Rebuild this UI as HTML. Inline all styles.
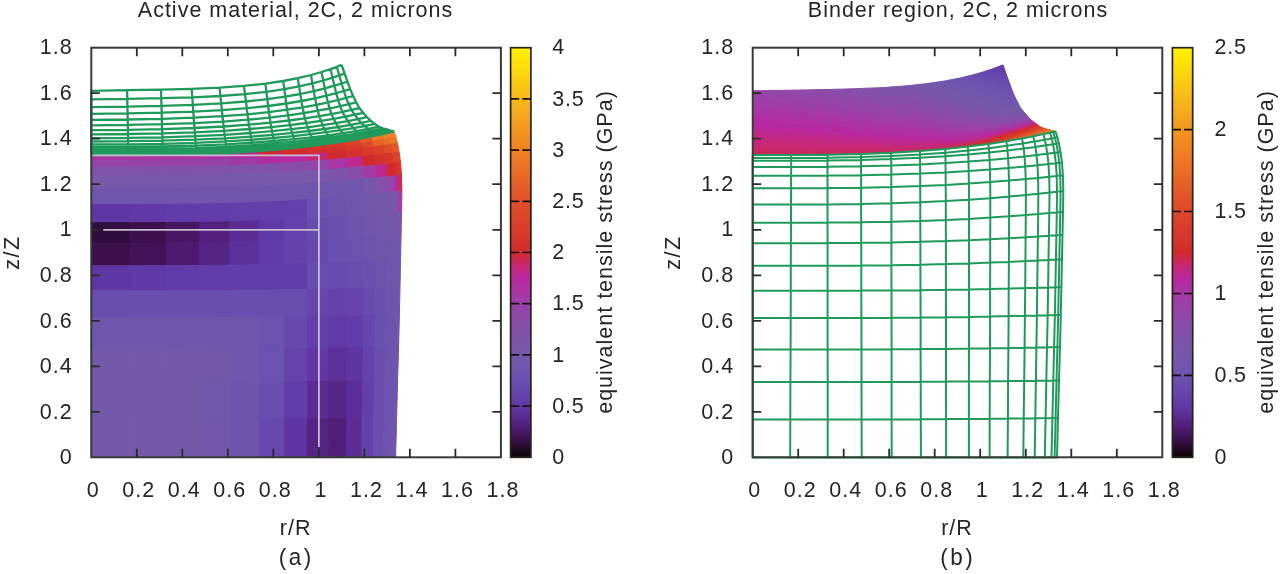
<!DOCTYPE html>
<html><head><meta charset="utf-8"><title>Equivalent tensile stress</title>
<style>
html,body{margin:0;padding:0;background:#fff}
body{width:1280px;height:574px;overflow:hidden}
svg{display:block;filter:blur(0.35px)}
svg text{font-family:"Liberation Sans",sans-serif;fill:#262626}
</style></head><body>
<svg width="1280" height="574" viewBox="0 0 1280 574">
<defs><linearGradient id="pg" x1="0" y1="1" x2="0" y2="0"><stop offset="0.0000" stop-color="#0a0606"/><stop offset="0.0400" stop-color="#380e46"/><stop offset="0.0750" stop-color="#501e78"/><stop offset="0.1000" stop-color="#5a2c92"/><stop offset="0.1250" stop-color="#6038a6"/><stop offset="0.1875" stop-color="#6a50b0"/><stop offset="0.2500" stop-color="#7459a9"/><stop offset="0.3125" stop-color="#8450aa"/><stop offset="0.3750" stop-color="#9a40a8"/><stop offset="0.4375" stop-color="#b828a0"/><stop offset="0.4700" stop-color="#c82870"/><stop offset="0.5000" stop-color="#d02a2c"/><stop offset="0.6250" stop-color="#e0502a"/><stop offset="0.7500" stop-color="#ef8124"/><stop offset="0.8750" stop-color="#f7b81a"/><stop offset="1.0000" stop-color="#fff200"/></linearGradient></defs>
<rect width="1280" height="574" fill="#ffffff"/>
<g id="heatA">
<polygon points="91.3,155.1 129.8,155.1 129.8,158.0 91.3,158.0" fill="#ac32a3" stroke="#ac32a3" stroke-width="1"/>
<polygon points="129.8,155.1 166.1,154.7 166.1,157.7 129.8,158.0" fill="#ac32a3" stroke="#ac32a3" stroke-width="1"/>
<polygon points="166.1,154.7 199.6,154.0 199.6,157.0 166.1,157.7" fill="#ac32a3" stroke="#ac32a3" stroke-width="1"/>
<polygon points="199.6,154.0 229.8,152.8 229.8,156.0 199.6,157.0" fill="#b22da2" stroke="#b22da2" stroke-width="1"/>
<polygon points="229.8,152.8 258.5,151.1 258.6,154.5 229.8,156.0" fill="#be288e" stroke="#be288e" stroke-width="1"/>
<polygon points="258.5,151.1 283.7,149.0 283.9,152.7 258.6,154.5" fill="#d02a2c" stroke="#d02a2c" stroke-width="1"/>
<polygon points="283.7,149.0 306.4,146.6 306.7,150.6 283.9,152.7" fill="#d22e2c" stroke="#d22e2c" stroke-width="1"/>
<polygon points="306.4,146.6 327.0,143.9 327.5,148.2 306.7,150.6" fill="#d3322c" stroke="#d3322c" stroke-width="1"/>
<polygon points="327.0,143.9 344.9,141.2 345.6,145.8 327.5,148.2" fill="#d6392b" stroke="#d6392b" stroke-width="1"/>
<polygon points="344.9,141.2 360.6,138.4 361.5,143.4 345.6,145.8" fill="#da412b" stroke="#da412b" stroke-width="1"/>
<polygon points="360.6,138.4 371.9,136.2 373.1,141.5 361.5,143.4" fill="#e35a29" stroke="#e35a29" stroke-width="1"/>
<polygon points="371.9,136.2 382.0,134.1 383.4,139.7 373.1,141.5" fill="#ec7725" stroke="#ec7725" stroke-width="1"/>
<polygon points="382.0,134.1 388.6,132.7 390.3,138.4 383.4,139.7" fill="#ef8124" stroke="#ef8124" stroke-width="1"/>
<polygon points="388.6,132.7 391.7,132.0 393.5,137.8 390.3,138.4" fill="#ef8124" stroke="#ef8124" stroke-width="1"/>
<polygon points="391.7,132.0 394.1,131.4 396.0,137.3 393.5,137.8" fill="#ef8124" stroke="#ef8124" stroke-width="1"/>
<polygon points="91.3,158.0 129.8,158.0 129.8,160.8 91.3,160.8" fill="#a636a5" stroke="#a636a5" stroke-width="1"/>
<polygon points="129.8,158.0 166.1,157.7 166.1,160.5 129.8,160.8" fill="#a636a5" stroke="#a636a5" stroke-width="1"/>
<polygon points="166.1,157.7 199.6,157.0 199.6,160.0 166.1,160.5" fill="#a636a5" stroke="#a636a5" stroke-width="1"/>
<polygon points="199.6,157.0 229.8,156.0 229.8,159.1 199.6,160.0" fill="#ac32a3" stroke="#ac32a3" stroke-width="1"/>
<polygon points="229.8,156.0 258.6,154.5 258.6,157.8 229.8,159.1" fill="#b828a0" stroke="#b828a0" stroke-width="1"/>
<polygon points="258.6,154.5 283.9,152.7 284.0,156.3 258.6,157.8" fill="#cd2948" stroke="#cd2948" stroke-width="1"/>
<polygon points="283.9,152.7 306.7,150.6 306.9,154.5 284.0,156.3" fill="#d02a2c" stroke="#d02a2c" stroke-width="1"/>
<polygon points="306.7,150.6 327.5,148.2 327.8,152.5 306.9,154.5" fill="#d22e2c" stroke="#d22e2c" stroke-width="1"/>
<polygon points="327.5,148.2 345.6,145.8 346.1,150.5 327.8,152.5" fill="#d3322c" stroke="#d3322c" stroke-width="1"/>
<polygon points="345.6,145.8 361.5,143.4 362.3,148.5 346.1,150.5" fill="#d6392b" stroke="#d6392b" stroke-width="1"/>
<polygon points="361.5,143.4 373.1,141.5 374.1,146.9 362.3,148.5" fill="#dd482a" stroke="#dd482a" stroke-width="1"/>
<polygon points="373.1,141.5 383.4,139.7 384.6,145.3 374.1,146.9" fill="#e66428" stroke="#e66428" stroke-width="1"/>
<polygon points="383.4,139.7 390.3,138.4 391.7,144.2 384.6,145.3" fill="#e96d26" stroke="#e96d26" stroke-width="1"/>
<polygon points="390.3,138.4 393.5,137.8 395.0,143.7 391.7,144.2" fill="#ec7725" stroke="#ec7725" stroke-width="1"/>
<polygon points="393.5,137.8 396.0,137.3 397.5,143.3 395.0,143.7" fill="#ec7725" stroke="#ec7725" stroke-width="1"/>
<polygon points="91.3,160.8 129.8,160.8 129.8,167.0 91.3,167.0" fill="#9643a8" stroke="#9643a8" stroke-width="1"/>
<polygon points="129.8,160.8 166.1,160.5 166.1,166.8 129.8,167.0" fill="#9643a8" stroke="#9643a8" stroke-width="1"/>
<polygon points="166.1,160.5 199.6,160.0 199.6,166.3 166.1,166.8" fill="#9643a8" stroke="#9643a8" stroke-width="1"/>
<polygon points="199.6,160.0 229.8,159.1 229.9,165.6 199.6,166.3" fill="#9643a8" stroke="#9643a8" stroke-width="1"/>
<polygon points="229.8,159.1 258.6,157.8 258.7,164.5 229.9,165.6" fill="#a03ba6" stroke="#a03ba6" stroke-width="1"/>
<polygon points="258.6,157.8 284.0,156.3 284.1,163.1 258.7,164.5" fill="#b22da2" stroke="#b22da2" stroke-width="1"/>
<polygon points="284.0,156.3 306.9,154.5 307.1,161.6 284.1,163.1" fill="#b828a0" stroke="#b828a0" stroke-width="1"/>
<polygon points="306.9,154.5 327.8,152.5 328.2,159.9 307.1,161.6" fill="#c4287b" stroke="#c4287b" stroke-width="1"/>
<polygon points="327.8,152.5 346.1,150.5 346.7,158.2 328.2,159.9" fill="#d02a2c" stroke="#d02a2c" stroke-width="1"/>
<polygon points="346.1,150.5 362.3,148.5 363.1,156.5 346.7,158.2" fill="#d3322c" stroke="#d3322c" stroke-width="1"/>
<polygon points="362.3,148.5 374.1,146.9 375.1,155.1 363.1,156.5" fill="#d6392b" stroke="#d6392b" stroke-width="1"/>
<polygon points="374.1,146.9 384.6,145.3 385.9,153.7 375.1,155.1" fill="#da412b" stroke="#da412b" stroke-width="1"/>
<polygon points="384.6,145.3 391.7,144.2 393.1,152.8 385.9,153.7" fill="#de4c2a" stroke="#de4c2a" stroke-width="1"/>
<polygon points="391.7,144.2 395.0,143.7 396.5,152.4 393.1,152.8" fill="#e35a29" stroke="#e35a29" stroke-width="1"/>
<polygon points="395.0,143.7 397.5,143.3 399.1,152.0 396.5,152.4" fill="#e35a29" stroke="#e35a29" stroke-width="1"/>
<polygon points="91.3,167.0 129.8,167.0 129.7,175.8 91.3,175.8" fill="#8152aa" stroke="#8152aa" stroke-width="1"/>
<polygon points="129.8,167.0 166.1,166.8 166.1,175.6 129.7,175.8" fill="#8152aa" stroke="#8152aa" stroke-width="1"/>
<polygon points="166.1,166.8 199.6,166.3 199.7,175.2 166.1,175.6" fill="#8152aa" stroke="#8152aa" stroke-width="1"/>
<polygon points="199.6,166.3 229.9,165.6 229.9,174.5 199.7,175.2" fill="#8152aa" stroke="#8152aa" stroke-width="1"/>
<polygon points="229.9,165.6 258.7,164.5 258.8,173.6 229.9,174.5" fill="#8152aa" stroke="#8152aa" stroke-width="1"/>
<polygon points="258.7,164.5 284.1,163.1 284.2,172.4 258.8,173.6" fill="#8152aa" stroke="#8152aa" stroke-width="1"/>
<polygon points="284.1,163.1 307.1,161.6 307.3,171.0 284.2,172.4" fill="#884daa" stroke="#884daa" stroke-width="1"/>
<polygon points="307.1,161.6 328.2,159.9 328.5,169.5 307.3,171.0" fill="#9146a9" stroke="#9146a9" stroke-width="1"/>
<polygon points="328.2,159.9 346.7,158.2 347.2,168.0 328.5,169.5" fill="#a636a5" stroke="#a636a5" stroke-width="1"/>
<polygon points="346.7,158.2 363.1,156.5 363.8,166.4 347.2,168.0" fill="#be288e" stroke="#be288e" stroke-width="1"/>
<polygon points="363.1,156.5 375.1,155.1 376.1,165.2 363.8,166.4" fill="#d02a2c" stroke="#d02a2c" stroke-width="1"/>
<polygon points="375.1,155.1 385.9,153.7 387.1,164.0 376.1,165.2" fill="#d3322c" stroke="#d3322c" stroke-width="1"/>
<polygon points="385.9,153.7 393.1,152.8 394.5,163.2 387.1,164.0" fill="#d6392b" stroke="#d6392b" stroke-width="1"/>
<polygon points="393.1,152.8 396.5,152.4 397.9,162.8 394.5,163.2" fill="#da412b" stroke="#da412b" stroke-width="1"/>
<polygon points="396.5,152.4 399.1,152.0 400.6,162.5 397.9,162.8" fill="#da412b" stroke="#da412b" stroke-width="1"/>
<polygon points="91.3,175.8 129.7,175.8 129.7,188.3 91.3,188.3" fill="#7758a9" stroke="#7758a9" stroke-width="1"/>
<polygon points="129.7,175.8 166.1,175.6 166.1,188.1 129.7,188.3" fill="#7758a9" stroke="#7758a9" stroke-width="1"/>
<polygon points="166.1,175.6 199.7,175.2 199.7,187.7 166.1,188.1" fill="#7758a9" stroke="#7758a9" stroke-width="1"/>
<polygon points="199.7,175.2 229.9,174.5 229.9,187.1 199.7,187.7" fill="#7758a9" stroke="#7758a9" stroke-width="1"/>
<polygon points="229.9,174.5 258.8,173.6 258.8,186.1 229.9,187.1" fill="#7758a9" stroke="#7758a9" stroke-width="1"/>
<polygon points="258.8,173.6 284.2,172.4 284.3,184.9 258.8,186.1" fill="#7758a9" stroke="#7758a9" stroke-width="1"/>
<polygon points="284.2,172.4 307.3,171.0 307.5,183.6 284.3,184.9" fill="#7758a9" stroke="#7758a9" stroke-width="1"/>
<polygon points="307.3,171.0 328.5,169.5 328.8,182.1 307.5,183.6" fill="#7758a9" stroke="#7758a9" stroke-width="1"/>
<polygon points="328.5,169.5 347.2,168.0 347.6,180.6 328.8,182.1" fill="#7e54aa" stroke="#7e54aa" stroke-width="1"/>
<polygon points="347.2,168.0 363.8,166.4 364.3,179.1 347.6,180.6" fill="#884daa" stroke="#884daa" stroke-width="1"/>
<polygon points="363.8,166.4 376.1,165.2 376.7,177.9 364.3,179.1" fill="#a03ba6" stroke="#a03ba6" stroke-width="1"/>
<polygon points="376.1,165.2 387.1,164.0 387.8,176.7 376.7,177.9" fill="#be288e" stroke="#be288e" stroke-width="1"/>
<polygon points="387.1,164.0 394.5,163.2 395.3,175.9 387.8,176.7" fill="#d02a2c" stroke="#d02a2c" stroke-width="1"/>
<polygon points="394.5,163.2 397.9,162.8 398.8,175.5 395.3,175.9" fill="#d3322c" stroke="#d3322c" stroke-width="1"/>
<polygon points="397.9,162.8 400.6,162.5 401.5,175.2 398.8,175.5" fill="#d5352b" stroke="#d5352b" stroke-width="1"/>
<polygon points="91.3,188.3 129.7,188.3 129.6,204.6 91.3,204.6" fill="#7055ac" stroke="#7055ac" stroke-width="1"/>
<polygon points="129.7,188.3 166.1,188.1 166.1,204.4 129.6,204.6" fill="#7055ac" stroke="#7055ac" stroke-width="1"/>
<polygon points="166.1,188.1 199.7,187.7 199.7,204.0 166.1,204.4" fill="#7055ac" stroke="#7055ac" stroke-width="1"/>
<polygon points="199.7,187.7 229.9,187.1 230.0,203.3 199.7,204.0" fill="#7055ac" stroke="#7055ac" stroke-width="1"/>
<polygon points="229.9,187.1 258.8,186.1 258.9,202.3 230.0,203.3" fill="#7055ac" stroke="#7055ac" stroke-width="1"/>
<polygon points="258.8,186.1 284.3,184.9 284.4,201.1 258.9,202.3" fill="#7055ac" stroke="#7055ac" stroke-width="1"/>
<polygon points="284.3,184.9 307.5,183.6 307.6,199.7 284.4,201.1" fill="#7055ac" stroke="#7055ac" stroke-width="1"/>
<polygon points="307.5,183.6 328.8,182.1 328.9,198.2 307.6,199.7" fill="#7055ac" stroke="#7055ac" stroke-width="1"/>
<polygon points="328.8,182.1 347.6,180.6 347.8,196.6 328.9,198.2" fill="#7055ac" stroke="#7055ac" stroke-width="1"/>
<polygon points="347.6,180.6 364.3,179.1 364.5,195.0 347.8,196.6" fill="#7055ac" stroke="#7055ac" stroke-width="1"/>
<polygon points="364.3,179.1 376.7,177.9 376.9,193.8 364.5,195.0" fill="#7757a9" stroke="#7757a9" stroke-width="1"/>
<polygon points="376.7,177.9 387.8,176.7 388.1,192.6 376.9,193.8" fill="#8152aa" stroke="#8152aa" stroke-width="1"/>
<polygon points="387.8,176.7 395.3,175.9 395.6,191.7 388.1,192.6" fill="#9643a8" stroke="#9643a8" stroke-width="1"/>
<polygon points="395.3,175.9 398.8,175.5 399.2,191.3 395.6,191.7" fill="#b828a0" stroke="#b828a0" stroke-width="1"/>
<polygon points="398.8,175.5 401.5,175.2 401.9,191.0 399.2,191.3" fill="#cd2948" stroke="#cd2948" stroke-width="1"/>
<polygon points="91.3,204.6 129.6,204.6 129.6,222.8 91.3,222.8" fill="#5f37a4" stroke="#5f37a4" stroke-width="1"/>
<polygon points="129.6,204.6 166.1,204.4 166.1,222.6 129.6,222.8" fill="#6039a6" stroke="#6039a6" stroke-width="1"/>
<polygon points="166.1,204.4 199.7,204.0 199.8,222.3 166.1,222.6" fill="#613ba7" stroke="#613ba7" stroke-width="1"/>
<polygon points="199.7,204.0 230.0,203.3 230.0,221.8 199.8,222.3" fill="#623ca8" stroke="#623ca8" stroke-width="1"/>
<polygon points="230.0,203.3 258.9,202.3 258.9,220.9 230.0,221.8" fill="#623ea8" stroke="#623ea8" stroke-width="1"/>
<polygon points="258.9,202.3 284.4,201.1 284.4,220.0 258.9,220.9" fill="#633fa9" stroke="#633fa9" stroke-width="1"/>
<polygon points="284.4,201.1 307.6,199.7 307.6,218.9 284.4,220.0" fill="#6340a9" stroke="#6340a9" stroke-width="1"/>
<polygon points="307.6,199.7 328.9,198.2 328.9,217.6 307.6,218.9" fill="#6b51af" stroke="#6b51af" stroke-width="1"/>
<polygon points="328.9,198.2 347.8,196.6 347.7,216.3 328.9,217.6" fill="#6e53ad" stroke="#6e53ad" stroke-width="1"/>
<polygon points="347.8,196.6 364.5,195.0 364.4,215.1 347.7,216.3" fill="#7055ac" stroke="#7055ac" stroke-width="1"/>
<polygon points="364.5,195.0 376.9,193.8 376.8,214.0 364.4,215.1" fill="#7257ab" stroke="#7257ab" stroke-width="1"/>
<polygon points="376.9,193.8 388.1,192.6 387.9,213.1 376.8,214.0" fill="#7358a9" stroke="#7358a9" stroke-width="1"/>
<polygon points="388.1,192.6 395.6,191.7 395.4,212.4 387.9,213.1" fill="#7757a9" stroke="#7757a9" stroke-width="1"/>
<polygon points="395.6,191.7 399.2,191.3 398.9,212.1 395.4,212.4" fill="#8450aa" stroke="#8450aa" stroke-width="1"/>
<polygon points="399.2,191.3 401.9,191.0 401.6,211.8 398.9,212.1" fill="#a03ba6" stroke="#a03ba6" stroke-width="1"/>
<polygon points="91.3,222.8 129.6,222.8 129.5,243.2 91.3,243.2" fill="#310d3d" stroke="#310d3d" stroke-width="1"/>
<polygon points="129.6,222.8 166.1,222.6 166.2,243.1 129.5,243.2" fill="#3b104c" stroke="#3b104c" stroke-width="1"/>
<polygon points="166.1,222.6 199.8,222.3 199.8,242.8 166.2,243.1" fill="#461763" stroke="#461763" stroke-width="1"/>
<polygon points="199.8,222.3 230.0,221.8 230.0,242.4 199.8,242.8" fill="#52217e" stroke="#52217e" stroke-width="1"/>
<polygon points="230.0,221.8 258.9,220.9 259.0,241.8 230.0,242.4" fill="#5b2d94" stroke="#5b2d94" stroke-width="1"/>
<polygon points="258.9,220.9 284.4,220.0 284.5,241.0 259.0,241.8" fill="#6038a6" stroke="#6038a6" stroke-width="1"/>
<polygon points="284.4,220.0 307.6,218.9 307.6,240.2 284.5,241.0" fill="#6441aa" stroke="#6441aa" stroke-width="1"/>
<polygon points="307.6,218.9 328.9,217.6 328.8,239.2 307.6,240.2" fill="#674aad" stroke="#674aad" stroke-width="1"/>
<polygon points="328.9,217.6 347.7,216.3 347.6,238.3 328.8,239.2" fill="#6b51af" stroke="#6b51af" stroke-width="1"/>
<polygon points="347.7,216.3 364.4,215.1 364.2,237.3 347.6,238.3" fill="#6e53ad" stroke="#6e53ad" stroke-width="1"/>
<polygon points="364.4,215.1 376.8,214.0 376.5,236.5 364.2,237.3" fill="#7156ab" stroke="#7156ab" stroke-width="1"/>
<polygon points="376.8,214.0 387.9,213.1 387.5,235.8 376.5,236.5" fill="#7257aa" stroke="#7257aa" stroke-width="1"/>
<polygon points="387.9,213.1 395.4,212.4 395.0,235.2 387.5,235.8" fill="#7358aa" stroke="#7358aa" stroke-width="1"/>
<polygon points="395.4,212.4 398.9,212.1 398.4,235.0 395.0,235.2" fill="#7358aa" stroke="#7358aa" stroke-width="1"/>
<polygon points="398.9,212.1 401.6,211.8 401.1,234.8 398.4,235.0" fill="#7e54aa" stroke="#7e54aa" stroke-width="1"/>
<polygon points="91.3,243.2 129.5,243.2 129.4,265.8 91.3,265.8" fill="#3b104c" stroke="#3b104c" stroke-width="1"/>
<polygon points="129.5,243.2 166.2,243.1 166.2,265.7 129.4,265.8" fill="#41145a" stroke="#41145a" stroke-width="1"/>
<polygon points="166.2,243.1 199.8,242.8 199.9,265.5 166.2,265.7" fill="#4c1b70" stroke="#4c1b70" stroke-width="1"/>
<polygon points="199.8,242.8 230.0,242.4 230.0,265.2 199.9,265.5" fill="#552586" stroke="#552586" stroke-width="1"/>
<polygon points="230.0,242.4 259.0,241.8 259.0,264.7 230.0,265.2" fill="#5c3099" stroke="#5c3099" stroke-width="1"/>
<polygon points="259.0,241.8 284.5,241.0 284.5,264.1 259.0,264.7" fill="#613aa7" stroke="#613aa7" stroke-width="1"/>
<polygon points="284.5,241.0 307.6,240.2 307.6,263.4 284.5,264.1" fill="#6442aa" stroke="#6442aa" stroke-width="1"/>
<polygon points="307.6,240.2 328.8,239.2 328.8,262.6 307.6,263.4" fill="#6749ad" stroke="#6749ad" stroke-width="1"/>
<polygon points="328.8,239.2 347.6,238.3 347.5,261.9 328.8,262.6" fill="#6a50b0" stroke="#6a50b0" stroke-width="1"/>
<polygon points="347.6,238.3 364.2,237.3 364.0,261.1 347.5,261.9" fill="#6c52af" stroke="#6c52af" stroke-width="1"/>
<polygon points="364.2,237.3 376.5,236.5 376.2,260.5 364.0,261.1" fill="#6e53ad" stroke="#6e53ad" stroke-width="1"/>
<polygon points="376.5,236.5 387.5,235.8 387.1,259.9 376.2,260.5" fill="#7055ac" stroke="#7055ac" stroke-width="1"/>
<polygon points="387.5,235.8 395.0,235.2 394.5,259.5 387.1,259.9" fill="#7157ab" stroke="#7157ab" stroke-width="1"/>
<polygon points="395.0,235.2 398.4,235.0 397.9,259.3 394.5,259.5" fill="#7257aa" stroke="#7257aa" stroke-width="1"/>
<polygon points="398.4,235.0 401.1,234.8 400.6,259.1 397.9,259.3" fill="#7257aa" stroke="#7257aa" stroke-width="1"/>
<polygon points="91.3,265.8 129.4,265.8 129.4,290.8 91.3,290.8" fill="#5f37a4" stroke="#5f37a4" stroke-width="1"/>
<polygon points="129.4,265.8 166.2,265.7 166.2,290.7 129.4,290.8" fill="#6039a6" stroke="#6039a6" stroke-width="1"/>
<polygon points="166.2,265.7 199.9,265.5 199.9,290.6 166.2,290.7" fill="#613ba7" stroke="#613ba7" stroke-width="1"/>
<polygon points="199.9,265.5 230.0,265.2 230.1,290.4 199.9,290.6" fill="#623ca8" stroke="#623ca8" stroke-width="1"/>
<polygon points="230.0,265.2 259.0,264.7 259.1,290.2 230.1,290.4" fill="#623da8" stroke="#623da8" stroke-width="1"/>
<polygon points="259.0,264.7 284.5,264.1 284.5,289.8 259.1,290.2" fill="#623da8" stroke="#623da8" stroke-width="1"/>
<polygon points="284.5,264.1 307.6,263.4 307.6,289.4 284.5,289.8" fill="#623da8" stroke="#623da8" stroke-width="1"/>
<polygon points="307.6,263.4 328.8,262.6 328.7,289.0 307.6,289.4" fill="#684cae" stroke="#684cae" stroke-width="1"/>
<polygon points="328.8,262.6 347.5,261.9 347.3,288.6 328.7,289.0" fill="#684aae" stroke="#684aae" stroke-width="1"/>
<polygon points="347.5,261.9 364.0,261.1 363.8,288.1 347.3,288.6" fill="#684cae" stroke="#684cae" stroke-width="1"/>
<polygon points="364.0,261.1 376.2,260.5 375.8,287.8 363.8,288.1" fill="#6b51af" stroke="#6b51af" stroke-width="1"/>
<polygon points="376.2,260.5 387.1,259.9 386.7,287.4 375.8,287.8" fill="#6e53ad" stroke="#6e53ad" stroke-width="1"/>
<polygon points="387.1,259.9 394.5,259.5 394.0,287.2 386.7,287.4" fill="#7055ac" stroke="#7055ac" stroke-width="1"/>
<polygon points="394.5,259.5 397.9,259.3 397.4,287.1 394.0,287.2" fill="#7156ab" stroke="#7156ab" stroke-width="1"/>
<polygon points="397.9,259.3 400.6,259.1 400.0,287.0 397.4,287.1" fill="#7156ab" stroke="#7156ab" stroke-width="1"/>
<polygon points="91.3,290.8 129.4,290.8 129.3,318.0 91.3,318.0" fill="#684cae" stroke="#684cae" stroke-width="1"/>
<polygon points="129.4,290.8 166.2,290.7 166.2,318.0 129.3,318.0" fill="#694daf" stroke="#694daf" stroke-width="1"/>
<polygon points="166.2,290.7 199.9,290.6 200.0,317.9 166.2,318.0" fill="#694eaf" stroke="#694eaf" stroke-width="1"/>
<polygon points="199.9,290.6 230.1,290.4 230.1,317.7 200.0,317.9" fill="#694eaf" stroke="#694eaf" stroke-width="1"/>
<polygon points="230.1,290.4 259.1,290.2 259.2,317.5 230.1,317.7" fill="#694eaf" stroke="#694eaf" stroke-width="1"/>
<polygon points="259.1,290.2 284.5,289.8 284.6,317.2 259.2,317.5" fill="#694eaf" stroke="#694eaf" stroke-width="1"/>
<polygon points="284.5,289.8 307.6,289.4 307.6,316.9 284.6,317.2" fill="#684cae" stroke="#684cae" stroke-width="1"/>
<polygon points="307.6,289.4 328.7,289.0 328.7,316.5 307.6,316.9" fill="#6646ac" stroke="#6646ac" stroke-width="1"/>
<polygon points="328.7,289.0 347.3,288.6 347.2,316.1 328.7,316.5" fill="#6442aa" stroke="#6442aa" stroke-width="1"/>
<polygon points="347.3,288.6 363.8,288.1 363.5,315.7 347.2,316.1" fill="#6543ab" stroke="#6543ab" stroke-width="1"/>
<polygon points="363.8,288.1 375.8,287.8 375.5,315.5 363.5,315.7" fill="#684bae" stroke="#684bae" stroke-width="1"/>
<polygon points="375.8,287.8 386.7,287.4 386.3,315.2 375.5,315.5" fill="#6b51af" stroke="#6b51af" stroke-width="1"/>
<polygon points="386.7,287.4 394.0,287.2 393.5,315.0 386.3,315.2" fill="#6e54ad" stroke="#6e54ad" stroke-width="1"/>
<polygon points="394.0,287.2 397.4,287.1 396.8,314.9 393.5,315.0" fill="#6f55ac" stroke="#6f55ac" stroke-width="1"/>
<polygon points="397.4,287.1 400.0,287.0 399.4,314.8 396.8,314.9" fill="#7055ac" stroke="#7055ac" stroke-width="1"/>
<polygon points="91.3,318.0 129.3,318.0 129.2,349.5 91.3,349.5" fill="#7055ac" stroke="#7055ac" stroke-width="1"/>
<polygon points="129.3,318.0 166.2,318.0 166.2,349.5 129.2,349.5" fill="#7056ac" stroke="#7056ac" stroke-width="1"/>
<polygon points="166.2,318.0 200.0,317.9 200.1,349.4 166.2,349.5" fill="#7056ac" stroke="#7056ac" stroke-width="1"/>
<polygon points="200.0,317.9 230.1,317.7 230.2,349.3 200.1,349.4" fill="#7056ac" stroke="#7056ac" stroke-width="1"/>
<polygon points="230.1,317.7 259.2,317.5 259.2,349.1 230.2,349.3" fill="#7055ac" stroke="#7055ac" stroke-width="1"/>
<polygon points="259.2,317.5 284.6,317.2 284.6,348.9 259.2,349.1" fill="#6c52af" stroke="#6c52af" stroke-width="1"/>
<polygon points="284.6,317.2 307.6,316.9 307.6,348.6 284.6,348.9" fill="#6749ad" stroke="#6749ad" stroke-width="1"/>
<polygon points="307.6,316.9 328.7,316.5 328.6,348.3 307.6,348.6" fill="#633fa9" stroke="#633fa9" stroke-width="1"/>
<polygon points="328.7,316.5 347.2,316.1 347.0,348.0 328.6,348.3" fill="#613aa7" stroke="#613aa7" stroke-width="1"/>
<polygon points="347.2,316.1 363.5,315.7 363.2,347.7 347.0,348.0" fill="#623ca8" stroke="#623ca8" stroke-width="1"/>
<polygon points="363.5,315.7 375.5,315.5 375.0,347.5 363.2,347.7" fill="#6646ac" stroke="#6646ac" stroke-width="1"/>
<polygon points="375.5,315.5 386.3,315.2 385.6,347.3 375.0,347.5" fill="#6a50b0" stroke="#6a50b0" stroke-width="1"/>
<polygon points="386.3,315.2 393.5,315.0 392.7,347.1 385.6,347.3" fill="#6d53ae" stroke="#6d53ae" stroke-width="1"/>
<polygon points="393.5,315.0 396.8,314.9 396.0,347.1 392.7,347.1" fill="#6f54ad" stroke="#6f54ad" stroke-width="1"/>
<polygon points="396.8,314.9 399.4,314.8 398.6,347.0 396.0,347.1" fill="#7055ac" stroke="#7055ac" stroke-width="1"/>
<polygon points="91.3,349.5 129.2,349.5 129.0,382.0 91.3,382.0" fill="#7459a9" stroke="#7459a9" stroke-width="1"/>
<polygon points="129.2,349.5 166.2,349.5 166.3,382.0 129.0,382.0" fill="#7459a9" stroke="#7459a9" stroke-width="1"/>
<polygon points="166.2,349.5 200.1,349.4 200.1,381.9 166.3,382.0" fill="#7459a9" stroke="#7459a9" stroke-width="1"/>
<polygon points="200.1,349.4 230.2,349.3 230.2,381.9 200.1,381.9" fill="#7358aa" stroke="#7358aa" stroke-width="1"/>
<polygon points="230.2,349.3 259.2,349.1 259.3,381.7 230.2,381.9" fill="#7055ac" stroke="#7055ac" stroke-width="1"/>
<polygon points="259.2,349.1 284.6,348.9 284.6,381.6 259.3,381.7" fill="#6b51b0" stroke="#6b51b0" stroke-width="1"/>
<polygon points="284.6,348.9 307.6,348.6 307.5,381.5 284.6,381.6" fill="#6543ab" stroke="#6543ab" stroke-width="1"/>
<polygon points="307.6,348.6 328.6,348.3 328.4,381.3 307.5,381.5" fill="#6037a4" stroke="#6037a4" stroke-width="1"/>
<polygon points="328.6,348.3 347.0,348.0 346.7,381.1 328.4,381.3" fill="#5c3099" stroke="#5c3099" stroke-width="1"/>
<polygon points="347.0,348.0 363.2,347.7 362.8,380.9 346.7,381.1" fill="#5f35a2" stroke="#5f35a2" stroke-width="1"/>
<polygon points="363.2,347.7 375.0,347.5 374.5,380.8 362.8,380.9" fill="#6442aa" stroke="#6442aa" stroke-width="1"/>
<polygon points="375.0,347.5 385.6,347.3 384.9,380.7 374.5,380.8" fill="#694eaf" stroke="#694eaf" stroke-width="1"/>
<polygon points="385.6,347.3 392.7,347.1 391.9,380.6 384.9,380.7" fill="#6d52ae" stroke="#6d52ae" stroke-width="1"/>
<polygon points="392.7,347.1 396.0,347.1 395.1,380.5 391.9,380.6" fill="#6e54ad" stroke="#6e54ad" stroke-width="1"/>
<polygon points="396.0,347.1 398.6,347.0 397.6,380.5 395.1,380.5" fill="#6f55ac" stroke="#6f55ac" stroke-width="1"/>
<polygon points="91.3,382.0 129.0,382.0 128.9,419.5 91.3,419.5" fill="#7459a9" stroke="#7459a9" stroke-width="1"/>
<polygon points="129.0,382.0 166.3,382.0 166.3,419.5 128.9,419.5" fill="#7459a9" stroke="#7459a9" stroke-width="1"/>
<polygon points="166.3,382.0 200.1,381.9 200.2,419.4 166.3,419.5" fill="#7459a9" stroke="#7459a9" stroke-width="1"/>
<polygon points="200.1,381.9 230.2,381.9 230.2,419.4 200.2,419.4" fill="#7258aa" stroke="#7258aa" stroke-width="1"/>
<polygon points="230.2,381.9 259.3,381.7 259.4,419.2 230.2,419.4" fill="#6f54ad" stroke="#6f54ad" stroke-width="1"/>
<polygon points="259.3,381.7 284.6,381.6 284.7,419.1 259.4,419.2" fill="#694daf" stroke="#694daf" stroke-width="1"/>
<polygon points="284.6,381.6 307.5,381.5 307.5,419.0 284.7,419.1" fill="#623ca8" stroke="#623ca8" stroke-width="1"/>
<polygon points="307.5,381.5 328.4,381.3 328.3,418.8 307.5,419.0" fill="#5b2d94" stroke="#5b2d94" stroke-width="1"/>
<polygon points="328.4,381.3 346.7,381.1 346.5,418.6 328.3,418.8" fill="#562687" stroke="#562687" stroke-width="1"/>
<polygon points="346.7,381.1 362.8,380.9 362.3,418.4 346.5,418.6" fill="#5c2f98" stroke="#5c2f98" stroke-width="1"/>
<polygon points="362.8,380.9 374.5,380.8 373.9,418.3 362.3,418.4" fill="#6340a9" stroke="#6340a9" stroke-width="1"/>
<polygon points="374.5,380.8 384.9,380.7 384.2,418.2 373.9,418.3" fill="#694daf" stroke="#694daf" stroke-width="1"/>
<polygon points="384.9,380.7 391.9,380.6 391.0,418.1 384.2,418.2" fill="#6d52ae" stroke="#6d52ae" stroke-width="1"/>
<polygon points="391.9,380.6 395.1,380.5 394.2,418.0 391.0,418.1" fill="#6e54ad" stroke="#6e54ad" stroke-width="1"/>
<polygon points="395.1,380.5 397.6,380.5 396.6,418.0 394.2,418.0" fill="#6f55ac" stroke="#6f55ac" stroke-width="1"/>
<polygon points="91.3,419.5 128.9,419.5 128.8,457.5 91.3,457.5" fill="#7459a9" stroke="#7459a9" stroke-width="1"/>
<polygon points="128.9,419.5 166.3,419.5 166.3,457.5 128.8,457.5" fill="#7459a9" stroke="#7459a9" stroke-width="1"/>
<polygon points="166.3,419.5 200.2,419.4 200.3,457.5 166.3,457.5" fill="#7459a9" stroke="#7459a9" stroke-width="1"/>
<polygon points="200.2,419.4 230.2,419.4 230.3,457.5 200.3,457.5" fill="#7257aa" stroke="#7257aa" stroke-width="1"/>
<polygon points="230.2,419.4 259.4,419.2 259.5,457.5 230.3,457.5" fill="#6e53ad" stroke="#6e53ad" stroke-width="1"/>
<polygon points="259.4,419.2 284.7,419.1 284.7,457.5 259.5,457.5" fill="#6748ad" stroke="#6748ad" stroke-width="1"/>
<polygon points="284.7,419.1 307.5,419.0 307.5,457.5 284.7,457.5" fill="#5f35a1" stroke="#5f35a1" stroke-width="1"/>
<polygon points="307.5,419.0 328.3,418.8 328.2,457.5 307.5,457.5" fill="#542483" stroke="#542483" stroke-width="1"/>
<polygon points="328.3,418.8 346.5,418.6 346.2,457.5 328.2,457.5" fill="#501e79" stroke="#501e79" stroke-width="1"/>
<polygon points="346.5,418.6 362.3,418.4 361.9,457.5 346.2,457.5" fill="#5b2d94" stroke="#5b2d94" stroke-width="1"/>
<polygon points="362.3,418.4 373.9,418.3 373.3,457.5 361.9,457.5" fill="#6440aa" stroke="#6440aa" stroke-width="1"/>
<polygon points="373.9,418.3 384.2,418.2 383.4,457.5 373.3,457.5" fill="#694eaf" stroke="#694eaf" stroke-width="1"/>
<polygon points="384.2,418.2 391.0,418.1 390.1,457.5 383.4,457.5" fill="#6d53ae" stroke="#6d53ae" stroke-width="1"/>
<polygon points="391.0,418.1 394.2,418.0 393.2,457.5 390.1,457.5" fill="#6f54ad" stroke="#6f54ad" stroke-width="1"/>
<polygon points="394.2,418.0 396.6,418.0 395.6,457.5 393.2,457.5" fill="#7055ac" stroke="#7055ac" stroke-width="1"/>
</g>
<g id="heatB">
<polygon points="752.7,90.8 770.6,90.5 770.6,94.8 752.7,95.1" fill="#9544a8" stroke="#9544a8" stroke-width="1"/>
<polygon points="770.6,90.5 788.5,90.2 788.6,94.6 770.6,94.8" fill="#9246a9" stroke="#9246a9" stroke-width="1"/>
<polygon points="788.5,90.2 805.5,89.9 805.6,94.3 788.6,94.6" fill="#9048a9" stroke="#9048a9" stroke-width="1"/>
<polygon points="805.5,89.9 822.4,89.6 822.5,93.9 805.6,94.3" fill="#8d4aa9" stroke="#8d4aa9" stroke-width="1"/>
<polygon points="822.4,89.6 837.8,89.2 838.0,93.5 822.5,93.9" fill="#8a4ca9" stroke="#8a4ca9" stroke-width="1"/>
<polygon points="837.8,89.2 853.1,88.8 853.4,93.1 838.0,93.5" fill="#864eaa" stroke="#864eaa" stroke-width="1"/>
<polygon points="853.1,88.8 867.0,88.2 867.4,92.4 853.4,93.1" fill="#8351aa" stroke="#8351aa" stroke-width="1"/>
<polygon points="867.0,88.2 880.9,87.7 881.3,91.8 867.4,92.4" fill="#8052aa" stroke="#8052aa" stroke-width="1"/>
<polygon points="880.9,87.7 893.2,86.8 893.6,90.9 881.3,91.8" fill="#7e53aa" stroke="#7e53aa" stroke-width="1"/>
<polygon points="893.2,86.8 905.4,85.9 905.9,90.0 893.6,90.9" fill="#7c55a9" stroke="#7c55a9" stroke-width="1"/>
<polygon points="905.4,85.9 916.1,84.8 916.6,88.9 905.9,90.0" fill="#7956a9" stroke="#7956a9" stroke-width="1"/>
<polygon points="916.1,84.8 926.8,83.6 927.3,87.7 916.6,88.9" fill="#7658a9" stroke="#7658a9" stroke-width="1"/>
<polygon points="926.8,83.6 935.7,82.3 936.2,86.4 927.3,87.7" fill="#7358aa" stroke="#7358aa" stroke-width="1"/>
<polygon points="935.7,82.3 944.6,81.0 945.1,85.1 936.2,86.4" fill="#7156ab" stroke="#7156ab" stroke-width="1"/>
<polygon points="944.6,81.0 951.9,79.6 952.5,83.7 945.1,85.1" fill="#6f54ad" stroke="#6f54ad" stroke-width="1"/>
<polygon points="951.9,79.6 959.2,78.2 959.9,82.3 952.5,83.7" fill="#6d53ae" stroke="#6d53ae" stroke-width="1"/>
<polygon points="959.2,78.2 965.8,76.6 966.5,80.7 959.9,82.3" fill="#6c51af" stroke="#6c51af" stroke-width="1"/>
<polygon points="965.8,76.6 972.4,75.0 973.1,79.2 966.5,80.7" fill="#6a50b0" stroke="#6a50b0" stroke-width="1"/>
<polygon points="972.4,75.0 977.7,73.5 978.4,77.7 973.1,79.2" fill="#694daf" stroke="#694daf" stroke-width="1"/>
<polygon points="977.7,73.5 982.9,72.0 983.8,76.2 978.4,77.7" fill="#674aad" stroke="#674aad" stroke-width="1"/>
<polygon points="982.9,72.0 987.4,70.5 988.3,74.8 983.8,76.2" fill="#6647ac" stroke="#6647ac" stroke-width="1"/>
<polygon points="987.4,70.5 991.9,69.1 992.9,73.4 988.3,74.8" fill="#6544ab" stroke="#6544ab" stroke-width="1"/>
<polygon points="991.9,69.1 995.1,67.9 996.2,72.2 992.9,73.4" fill="#6442aa" stroke="#6442aa" stroke-width="1"/>
<polygon points="995.1,67.9 998.2,66.8 999.4,71.1 996.2,72.2" fill="#6340a9" stroke="#6340a9" stroke-width="1"/>
<polygon points="998.2,66.8 1000.6,65.8 1002.0,70.1 999.4,71.1" fill="#623ea8" stroke="#623ea8" stroke-width="1"/>
<polygon points="1000.6,65.8 1003.0,64.9 1004.5,69.2 1002.0,70.1" fill="#623ca8" stroke="#623ca8" stroke-width="1"/>
<polygon points="752.7,95.1 770.6,94.8 770.7,99.2 752.7,99.4" fill="#9941a8" stroke="#9941a8" stroke-width="1"/>
<polygon points="770.6,94.8 788.6,94.6 788.7,98.9 770.7,99.2" fill="#9643a8" stroke="#9643a8" stroke-width="1"/>
<polygon points="788.6,94.6 805.6,94.3 805.7,98.6 788.7,98.9" fill="#9445a9" stroke="#9445a9" stroke-width="1"/>
<polygon points="805.6,94.3 822.5,93.9 822.6,98.2 805.7,98.6" fill="#9146a9" stroke="#9146a9" stroke-width="1"/>
<polygon points="822.5,93.9 838.0,93.5 838.2,97.8 822.6,98.2" fill="#8f48a9" stroke="#8f48a9" stroke-width="1"/>
<polygon points="838.0,93.5 853.4,93.1 853.7,97.3 838.2,97.8" fill="#8b4ba9" stroke="#8b4ba9" stroke-width="1"/>
<polygon points="853.4,93.1 867.4,92.4 867.7,96.6 853.7,97.3" fill="#874eaa" stroke="#874eaa" stroke-width="1"/>
<polygon points="867.4,92.4 881.3,91.8 881.8,96.0 867.7,96.6" fill="#8450aa" stroke="#8450aa" stroke-width="1"/>
<polygon points="881.3,91.8 893.6,90.9 894.1,95.1 881.8,96.0" fill="#8152aa" stroke="#8152aa" stroke-width="1"/>
<polygon points="893.6,90.9 905.9,90.0 906.4,94.1 894.1,95.1" fill="#7f53aa" stroke="#7f53aa" stroke-width="1"/>
<polygon points="905.9,90.0 916.6,88.9 917.1,93.0 906.4,94.1" fill="#7d54aa" stroke="#7d54aa" stroke-width="1"/>
<polygon points="916.6,88.9 927.3,87.7 927.8,91.8 917.1,93.0" fill="#7956a9" stroke="#7956a9" stroke-width="1"/>
<polygon points="927.3,87.7 936.2,86.4 936.8,90.5 927.8,91.8" fill="#7558a9" stroke="#7558a9" stroke-width="1"/>
<polygon points="936.2,86.4 945.1,85.1 945.7,89.2 936.8,90.5" fill="#7358aa" stroke="#7358aa" stroke-width="1"/>
<polygon points="945.1,85.1 952.5,83.7 953.1,87.8 945.7,89.2" fill="#7156ab" stroke="#7156ab" stroke-width="1"/>
<polygon points="952.5,83.7 959.9,82.3 960.5,86.4 953.1,87.8" fill="#6f55ac" stroke="#6f55ac" stroke-width="1"/>
<polygon points="959.9,82.3 966.5,80.7 967.2,84.9 960.5,86.4" fill="#6e53ad" stroke="#6e53ad" stroke-width="1"/>
<polygon points="966.5,80.7 973.1,79.2 973.8,83.4 967.2,84.9" fill="#6c52af" stroke="#6c52af" stroke-width="1"/>
<polygon points="973.1,79.2 978.4,77.7 979.2,81.9 973.8,83.4" fill="#6b51b0" stroke="#6b51b0" stroke-width="1"/>
<polygon points="978.4,77.7 983.8,76.2 984.6,80.5 979.2,81.9" fill="#694eaf" stroke="#694eaf" stroke-width="1"/>
<polygon points="983.8,76.2 988.3,74.8 989.3,79.1 984.6,80.5" fill="#684bae" stroke="#684bae" stroke-width="1"/>
<polygon points="988.3,74.8 992.9,73.4 993.9,77.7 989.3,79.1" fill="#6748ad" stroke="#6748ad" stroke-width="1"/>
<polygon points="992.9,73.4 996.2,72.2 997.3,76.5 993.9,77.7" fill="#6645ac" stroke="#6645ac" stroke-width="1"/>
<polygon points="996.2,72.2 999.4,71.1 1000.7,75.4 997.3,76.5" fill="#6543ab" stroke="#6543ab" stroke-width="1"/>
<polygon points="999.4,71.1 1002.0,70.1 1003.3,74.5 1000.7,75.4" fill="#6441aa" stroke="#6441aa" stroke-width="1"/>
<polygon points="1002.0,70.1 1004.5,69.2 1006.0,73.5 1003.3,74.5" fill="#6340a9" stroke="#6340a9" stroke-width="1"/>
<polygon points="752.7,99.4 770.7,99.2 770.7,103.0 752.7,103.2" fill="#9d3da7" stroke="#9d3da7" stroke-width="1"/>
<polygon points="770.7,99.2 788.7,98.9 788.8,102.7 770.7,103.0" fill="#9a40a8" stroke="#9a40a8" stroke-width="1"/>
<polygon points="788.7,98.9 805.7,98.6 805.8,102.4 788.8,102.7" fill="#9842a8" stroke="#9842a8" stroke-width="1"/>
<polygon points="805.7,98.6 822.6,98.2 822.8,102.1 805.8,102.4" fill="#9543a8" stroke="#9543a8" stroke-width="1"/>
<polygon points="822.6,98.2 838.2,97.8 838.4,101.6 822.8,102.1" fill="#9345a9" stroke="#9345a9" stroke-width="1"/>
<polygon points="838.2,97.8 853.7,97.3 854.0,101.1 838.4,101.6" fill="#8f48a9" stroke="#8f48a9" stroke-width="1"/>
<polygon points="853.7,97.3 867.7,96.6 868.1,100.4 854.0,101.1" fill="#8c4aa9" stroke="#8c4aa9" stroke-width="1"/>
<polygon points="867.7,96.6 881.8,96.0 882.2,99.7 868.1,100.4" fill="#884daa" stroke="#884daa" stroke-width="1"/>
<polygon points="881.8,96.0 894.1,95.1 894.5,98.8 882.2,99.7" fill="#854faa" stroke="#854faa" stroke-width="1"/>
<polygon points="894.1,95.1 906.4,94.1 906.9,97.8 894.5,98.8" fill="#8251aa" stroke="#8251aa" stroke-width="1"/>
<polygon points="906.4,94.1 917.1,93.0 917.6,96.7 906.9,97.8" fill="#8052aa" stroke="#8052aa" stroke-width="1"/>
<polygon points="917.1,93.0 927.8,91.8 928.2,95.5 917.6,96.7" fill="#7c54aa" stroke="#7c54aa" stroke-width="1"/>
<polygon points="927.8,91.8 936.8,90.5 937.2,94.2 928.2,95.5" fill="#7956a9" stroke="#7956a9" stroke-width="1"/>
<polygon points="936.8,90.5 945.7,89.2 946.2,92.9 937.2,94.2" fill="#7558a9" stroke="#7558a9" stroke-width="1"/>
<polygon points="945.7,89.2 953.1,87.8 953.7,91.6 946.2,92.9" fill="#7358aa" stroke="#7358aa" stroke-width="1"/>
<polygon points="953.1,87.8 960.5,86.4 961.1,90.2 953.7,91.6" fill="#7157ab" stroke="#7157ab" stroke-width="1"/>
<polygon points="960.5,86.4 967.2,84.9 967.8,88.7 961.1,90.2" fill="#7055ac" stroke="#7055ac" stroke-width="1"/>
<polygon points="967.2,84.9 973.8,83.4 974.5,87.2 967.8,88.7" fill="#6e54ad" stroke="#6e54ad" stroke-width="1"/>
<polygon points="973.8,83.4 979.2,81.9 980.0,85.8 974.5,87.2" fill="#6c52ae" stroke="#6c52ae" stroke-width="1"/>
<polygon points="979.2,81.9 984.6,80.5 985.4,84.4 980.0,85.8" fill="#6b51af" stroke="#6b51af" stroke-width="1"/>
<polygon points="984.6,80.5 989.3,79.1 990.1,83.0 985.4,84.4" fill="#6a4fb0" stroke="#6a4fb0" stroke-width="1"/>
<polygon points="989.3,79.1 993.9,77.7 994.8,81.7 990.1,83.0" fill="#684cae" stroke="#684cae" stroke-width="1"/>
<polygon points="993.9,77.7 997.3,76.5 998.3,80.5 994.8,81.7" fill="#6749ad" stroke="#6749ad" stroke-width="1"/>
<polygon points="997.3,76.5 1000.7,75.4 1001.8,79.4 998.3,80.5" fill="#6647ac" stroke="#6647ac" stroke-width="1"/>
<polygon points="1000.7,75.4 1003.3,74.5 1004.6,78.5 1001.8,79.4" fill="#6545ab" stroke="#6545ab" stroke-width="1"/>
<polygon points="1003.3,74.5 1006.0,73.5 1007.4,77.5 1004.6,78.5" fill="#6543ab" stroke="#6543ab" stroke-width="1"/>
<polygon points="752.7,103.2 770.7,103.0 770.8,106.8 752.7,107.1" fill="#a23aa6" stroke="#a23aa6" stroke-width="1"/>
<polygon points="770.7,103.0 788.8,102.7 788.8,106.6 770.8,106.8" fill="#9f3ca7" stroke="#9f3ca7" stroke-width="1"/>
<polygon points="788.8,102.7 805.8,102.4 805.8,106.3 788.8,106.6" fill="#9c3fa8" stroke="#9c3fa8" stroke-width="1"/>
<polygon points="805.8,102.4 822.8,102.1 822.9,105.9 805.8,106.3" fill="#9941a8" stroke="#9941a8" stroke-width="1"/>
<polygon points="822.8,102.1 838.4,101.6 838.6,105.4 822.9,105.9" fill="#9643a8" stroke="#9643a8" stroke-width="1"/>
<polygon points="838.4,101.6 854.0,101.1 854.2,104.9 838.6,105.4" fill="#9345a9" stroke="#9345a9" stroke-width="1"/>
<polygon points="854.0,101.1 868.1,100.4 868.4,104.2 854.2,104.9" fill="#9048a9" stroke="#9048a9" stroke-width="1"/>
<polygon points="868.1,100.4 882.2,99.7 882.6,103.4 868.4,104.2" fill="#8c4aa9" stroke="#8c4aa9" stroke-width="1"/>
<polygon points="882.2,99.7 894.5,98.8 895.0,102.5 882.6,103.4" fill="#894caa" stroke="#894caa" stroke-width="1"/>
<polygon points="894.5,98.8 906.9,97.8 907.3,101.5 895.0,102.5" fill="#864faa" stroke="#864faa" stroke-width="1"/>
<polygon points="906.9,97.8 917.6,96.7 918.0,100.4 907.3,101.5" fill="#8351aa" stroke="#8351aa" stroke-width="1"/>
<polygon points="917.6,96.7 928.2,95.5 928.7,99.2 918.0,100.4" fill="#7f53aa" stroke="#7f53aa" stroke-width="1"/>
<polygon points="928.2,95.5 937.2,94.2 937.7,97.9 928.7,99.2" fill="#7c55a9" stroke="#7c55a9" stroke-width="1"/>
<polygon points="937.2,94.2 946.2,92.9 946.7,96.7 937.7,97.9" fill="#7956a9" stroke="#7956a9" stroke-width="1"/>
<polygon points="946.2,92.9 953.7,91.6 954.2,95.3 946.7,96.7" fill="#7558a9" stroke="#7558a9" stroke-width="1"/>
<polygon points="953.7,91.6 961.1,90.2 961.7,94.0 954.2,95.3" fill="#7358aa" stroke="#7358aa" stroke-width="1"/>
<polygon points="961.1,90.2 967.8,88.7 968.5,92.6 961.7,94.0" fill="#7157ab" stroke="#7157ab" stroke-width="1"/>
<polygon points="967.8,88.7 974.5,87.2 975.2,91.1 968.5,92.6" fill="#7055ac" stroke="#7055ac" stroke-width="1"/>
<polygon points="974.5,87.2 980.0,85.8 980.7,89.7 975.2,91.1" fill="#6e54ad" stroke="#6e54ad" stroke-width="1"/>
<polygon points="980.0,85.8 985.4,84.4 986.2,88.4 980.7,89.7" fill="#6d52ae" stroke="#6d52ae" stroke-width="1"/>
<polygon points="985.4,84.4 990.1,83.0 991.0,87.0 986.2,88.4" fill="#6b51af" stroke="#6b51af" stroke-width="1"/>
<polygon points="990.1,83.0 994.8,81.7 995.8,85.7 991.0,87.0" fill="#6a50b0" stroke="#6a50b0" stroke-width="1"/>
<polygon points="994.8,81.7 998.3,80.5 999.4,84.6 995.8,85.7" fill="#694daf" stroke="#694daf" stroke-width="1"/>
<polygon points="998.3,80.5 1001.8,79.4 1003.0,83.5 999.4,84.6" fill="#684aae" stroke="#684aae" stroke-width="1"/>
<polygon points="1001.8,79.4 1004.6,78.5 1005.9,82.5 1003.0,83.5" fill="#6748ad" stroke="#6748ad" stroke-width="1"/>
<polygon points="1004.6,78.5 1007.4,77.5 1008.9,81.6 1005.9,82.5" fill="#6646ac" stroke="#6646ac" stroke-width="1"/>
<polygon points="752.7,107.1 770.8,106.8 770.8,110.3 752.7,110.5" fill="#a637a5" stroke="#a637a5" stroke-width="1"/>
<polygon points="770.8,106.8 788.8,106.6 788.9,110.0 770.8,110.3" fill="#a339a6" stroke="#a339a6" stroke-width="1"/>
<polygon points="788.8,106.6 805.8,106.3 805.9,109.7 788.9,110.0" fill="#a03ba6" stroke="#a03ba6" stroke-width="1"/>
<polygon points="805.8,106.3 822.9,105.9 823.0,109.3 805.9,109.7" fill="#9d3da7" stroke="#9d3da7" stroke-width="1"/>
<polygon points="822.9,105.9 838.6,105.4 838.7,108.8 823.0,109.3" fill="#9a40a8" stroke="#9a40a8" stroke-width="1"/>
<polygon points="838.6,105.4 854.2,104.9 854.5,108.3 838.7,108.8" fill="#9742a8" stroke="#9742a8" stroke-width="1"/>
<polygon points="854.2,104.9 868.4,104.2 868.7,107.5 854.5,108.3" fill="#9345a9" stroke="#9345a9" stroke-width="1"/>
<polygon points="868.4,104.2 882.6,103.4 882.9,106.8 868.7,107.5" fill="#9047a9" stroke="#9047a9" stroke-width="1"/>
<polygon points="882.6,103.4 895.0,102.5 895.4,105.8 882.9,106.8" fill="#8d4aa9" stroke="#8d4aa9" stroke-width="1"/>
<polygon points="895.0,102.5 907.3,101.5 907.8,104.9 895.4,105.8" fill="#8a4ca9" stroke="#8a4ca9" stroke-width="1"/>
<polygon points="907.3,101.5 918.0,100.4 918.5,103.7 907.8,104.9" fill="#864eaa" stroke="#864eaa" stroke-width="1"/>
<polygon points="918.0,100.4 928.7,99.2 929.1,102.6 918.5,103.7" fill="#8251aa" stroke="#8251aa" stroke-width="1"/>
<polygon points="928.7,99.2 937.7,97.9 938.2,101.3 929.1,102.6" fill="#7f53aa" stroke="#7f53aa" stroke-width="1"/>
<polygon points="937.7,97.9 946.7,96.7 947.2,100.1 938.2,101.3" fill="#7c55a9" stroke="#7c55a9" stroke-width="1"/>
<polygon points="946.7,96.7 954.2,95.3 954.7,98.8 947.2,100.1" fill="#7856a9" stroke="#7856a9" stroke-width="1"/>
<polygon points="954.2,95.3 961.7,94.0 962.3,97.5 954.7,98.8" fill="#7658a9" stroke="#7658a9" stroke-width="1"/>
<polygon points="961.7,94.0 968.5,92.6 969.1,96.1 962.3,97.5" fill="#7358aa" stroke="#7358aa" stroke-width="1"/>
<polygon points="968.5,92.6 975.2,91.1 975.8,94.7 969.1,96.1" fill="#7257ab" stroke="#7257ab" stroke-width="1"/>
<polygon points="975.2,91.1 980.7,89.7 981.4,93.3 975.8,94.7" fill="#7055ac" stroke="#7055ac" stroke-width="1"/>
<polygon points="980.7,89.7 986.2,88.4 987.0,92.0 981.4,93.3" fill="#6e54ad" stroke="#6e54ad" stroke-width="1"/>
<polygon points="986.2,88.4 991.0,87.0 991.9,90.7 987.0,92.0" fill="#6d53ae" stroke="#6d53ae" stroke-width="1"/>
<polygon points="991.0,87.0 995.8,85.7 996.7,89.4 991.9,90.7" fill="#6b51af" stroke="#6b51af" stroke-width="1"/>
<polygon points="995.8,85.7 999.4,84.6 1000.4,88.3 996.7,89.4" fill="#6a50b0" stroke="#6a50b0" stroke-width="1"/>
<polygon points="999.4,84.6 1003.0,83.5 1004.1,87.2 1000.4,88.3" fill="#694eaf" stroke="#694eaf" stroke-width="1"/>
<polygon points="1003.0,83.5 1005.9,82.5 1007.2,86.3 1004.1,87.2" fill="#684cae" stroke="#684cae" stroke-width="1"/>
<polygon points="1005.9,82.5 1008.9,81.6 1010.3,85.3 1007.2,86.3" fill="#674aad" stroke="#674aad" stroke-width="1"/>
<polygon points="752.7,110.5 770.8,110.3 770.8,113.7 752.7,113.9" fill="#a934a4" stroke="#a934a4" stroke-width="1"/>
<polygon points="770.8,110.3 788.9,110.0 789.0,113.4 770.8,113.7" fill="#a736a5" stroke="#a736a5" stroke-width="1"/>
<polygon points="788.9,110.0 805.9,109.7 806.0,113.1 789.0,113.4" fill="#a438a5" stroke="#a438a5" stroke-width="1"/>
<polygon points="805.9,109.7 823.0,109.3 823.1,112.7 806.0,113.1" fill="#a23aa6" stroke="#a23aa6" stroke-width="1"/>
<polygon points="823.0,109.3 838.7,108.8 838.9,112.2 823.1,112.7" fill="#9e3ca7" stroke="#9e3ca7" stroke-width="1"/>
<polygon points="838.7,108.8 854.5,108.3 854.7,111.7 838.9,112.2" fill="#9a40a8" stroke="#9a40a8" stroke-width="1"/>
<polygon points="854.5,108.3 868.7,107.5 869.0,110.9 854.7,111.7" fill="#9742a8" stroke="#9742a8" stroke-width="1"/>
<polygon points="868.7,107.5 882.9,106.8 883.3,110.2 869.0,110.9" fill="#9445a9" stroke="#9445a9" stroke-width="1"/>
<polygon points="882.9,106.8 895.4,105.8 895.8,109.2 883.3,110.2" fill="#9147a9" stroke="#9147a9" stroke-width="1"/>
<polygon points="895.4,105.8 907.8,104.9 908.2,108.2 895.8,109.2" fill="#8d49a9" stroke="#8d49a9" stroke-width="1"/>
<polygon points="907.8,104.9 918.5,103.7 918.9,107.1 908.2,108.2" fill="#8a4ba9" stroke="#8a4ba9" stroke-width="1"/>
<polygon points="918.5,103.7 929.1,102.6 929.5,106.0 918.9,107.1" fill="#854faa" stroke="#854faa" stroke-width="1"/>
<polygon points="929.1,102.6 938.2,101.3 938.6,104.7 929.5,106.0" fill="#8251aa" stroke="#8251aa" stroke-width="1"/>
<polygon points="938.2,101.3 947.2,100.1 947.6,103.5 938.6,104.7" fill="#7e53aa" stroke="#7e53aa" stroke-width="1"/>
<polygon points="947.2,100.1 954.7,98.8 955.3,102.2 947.6,103.5" fill="#7b55a9" stroke="#7b55a9" stroke-width="1"/>
<polygon points="954.7,98.8 962.3,97.5 962.8,101.0 955.3,102.2" fill="#7856a9" stroke="#7856a9" stroke-width="1"/>
<polygon points="962.3,97.5 969.1,96.1 969.7,99.6 962.8,101.0" fill="#7658a9" stroke="#7658a9" stroke-width="1"/>
<polygon points="969.1,96.1 975.8,94.7 976.5,98.3 969.7,99.6" fill="#7358a9" stroke="#7358a9" stroke-width="1"/>
<polygon points="975.8,94.7 981.4,93.3 982.1,96.9 976.5,98.3" fill="#7257ab" stroke="#7257ab" stroke-width="1"/>
<polygon points="981.4,93.3 987.0,92.0 987.8,95.7 982.1,96.9" fill="#7055ac" stroke="#7055ac" stroke-width="1"/>
<polygon points="987.0,92.0 991.9,90.7 992.7,94.4 987.8,95.7" fill="#6f54ad" stroke="#6f54ad" stroke-width="1"/>
<polygon points="991.9,90.7 996.7,89.4 997.6,93.1 992.7,94.4" fill="#6d53ae" stroke="#6d53ae" stroke-width="1"/>
<polygon points="996.7,89.4 1000.4,88.3 1001.5,92.0 997.6,93.1" fill="#6c52af" stroke="#6c52af" stroke-width="1"/>
<polygon points="1000.4,88.3 1004.1,87.2 1005.3,91.0 1001.5,92.0" fill="#6b51b0" stroke="#6b51b0" stroke-width="1"/>
<polygon points="1004.1,87.2 1007.2,86.3 1008.5,90.0 1005.3,91.0" fill="#6a4fb0" stroke="#6a4fb0" stroke-width="1"/>
<polygon points="1007.2,86.3 1010.3,85.3 1011.6,89.1 1008.5,90.0" fill="#694daf" stroke="#694daf" stroke-width="1"/>
<polygon points="752.7,113.9 770.8,113.7 770.9,116.7 752.7,116.9" fill="#ad31a3" stroke="#ad31a3" stroke-width="1"/>
<polygon points="770.8,113.7 789.0,113.4 789.0,116.5 770.9,116.7" fill="#ab33a4" stroke="#ab33a4" stroke-width="1"/>
<polygon points="789.0,113.4 806.0,113.1 806.1,116.1 789.0,116.5" fill="#a835a4" stroke="#a835a4" stroke-width="1"/>
<polygon points="806.0,113.1 823.1,112.7 823.2,115.8 806.1,116.1" fill="#a537a5" stroke="#a537a5" stroke-width="1"/>
<polygon points="823.1,112.7 838.9,112.2 839.1,115.2 823.2,115.8" fill="#a339a6" stroke="#a339a6" stroke-width="1"/>
<polygon points="838.9,112.2 854.7,111.7 854.9,114.7 839.1,115.2" fill="#9f3ca7" stroke="#9f3ca7" stroke-width="1"/>
<polygon points="854.7,111.7 869.0,110.9 869.3,113.9 854.9,114.7" fill="#9a40a8" stroke="#9a40a8" stroke-width="1"/>
<polygon points="869.0,110.9 883.3,110.2 883.6,113.2 869.3,113.9" fill="#9742a8" stroke="#9742a8" stroke-width="1"/>
<polygon points="883.3,110.2 895.8,109.2 896.1,112.2 883.6,113.2" fill="#9444a9" stroke="#9444a9" stroke-width="1"/>
<polygon points="895.8,109.2 908.2,108.2 908.6,111.3 896.1,112.2" fill="#9147a9" stroke="#9147a9" stroke-width="1"/>
<polygon points="908.2,108.2 918.9,107.1 919.3,110.1 908.6,111.3" fill="#8e49a9" stroke="#8e49a9" stroke-width="1"/>
<polygon points="918.9,107.1 929.5,106.0 929.9,109.0 919.3,110.1" fill="#894caa" stroke="#894caa" stroke-width="1"/>
<polygon points="929.5,106.0 938.6,104.7 939.0,107.8 929.9,109.0" fill="#8550aa" stroke="#8550aa" stroke-width="1"/>
<polygon points="938.6,104.7 947.6,103.5 948.1,106.6 939.0,107.8" fill="#8152aa" stroke="#8152aa" stroke-width="1"/>
<polygon points="947.6,103.5 955.3,102.2 955.8,105.4 948.1,106.6" fill="#7e53aa" stroke="#7e53aa" stroke-width="1"/>
<polygon points="955.3,102.2 962.8,101.0 963.4,104.2 955.8,105.4" fill="#7b55a9" stroke="#7b55a9" stroke-width="1"/>
<polygon points="962.8,101.0 969.7,99.6 970.3,102.8 963.4,104.2" fill="#7857a9" stroke="#7857a9" stroke-width="1"/>
<polygon points="969.7,99.6 976.5,98.3 977.1,101.5 970.3,102.8" fill="#7658a9" stroke="#7658a9" stroke-width="1"/>
<polygon points="976.5,98.3 982.1,96.9 982.9,100.3 977.1,101.5" fill="#7358a9" stroke="#7358a9" stroke-width="1"/>
<polygon points="982.1,96.9 987.8,95.7 988.5,99.0 982.9,100.3" fill="#7257ab" stroke="#7257ab" stroke-width="1"/>
<polygon points="987.8,95.7 992.7,94.4 993.6,97.8 988.5,99.0" fill="#7056ac" stroke="#7056ac" stroke-width="1"/>
<polygon points="992.7,94.4 997.6,93.1 998.5,96.5 993.6,97.8" fill="#6f54ad" stroke="#6f54ad" stroke-width="1"/>
<polygon points="997.6,93.1 1001.5,92.0 1002.5,95.5 998.5,96.5" fill="#6d53ae" stroke="#6d53ae" stroke-width="1"/>
<polygon points="1001.5,92.0 1005.3,91.0 1006.4,94.4 1002.5,95.5" fill="#6c52af" stroke="#6c52af" stroke-width="1"/>
<polygon points="1005.3,91.0 1008.5,90.0 1009.8,93.5 1006.4,94.4" fill="#6b51af" stroke="#6b51af" stroke-width="1"/>
<polygon points="1008.5,90.0 1011.6,89.1 1013.0,92.5 1009.8,93.5" fill="#6a50b0" stroke="#6a50b0" stroke-width="1"/>
<polygon points="752.7,116.9 770.9,116.7 770.9,119.7 752.7,119.9" fill="#b02ea2" stroke="#b02ea2" stroke-width="1"/>
<polygon points="770.9,116.7 789.0,116.5 789.1,119.5 770.9,119.7" fill="#ae30a3" stroke="#ae30a3" stroke-width="1"/>
<polygon points="789.0,116.5 806.1,116.1 806.2,119.2 789.1,119.5" fill="#ac32a3" stroke="#ac32a3" stroke-width="1"/>
<polygon points="806.1,116.1 823.2,115.8 823.2,118.8 806.2,119.2" fill="#a934a4" stroke="#a934a4" stroke-width="1"/>
<polygon points="823.2,115.8 839.1,115.2 839.2,118.3 823.2,118.8" fill="#a636a5" stroke="#a636a5" stroke-width="1"/>
<polygon points="839.1,115.2 854.9,114.7 855.1,117.7 839.2,118.3" fill="#a339a6" stroke="#a339a6" stroke-width="1"/>
<polygon points="854.9,114.7 869.3,113.9 869.6,117.0 855.1,117.7" fill="#9f3ca7" stroke="#9f3ca7" stroke-width="1"/>
<polygon points="869.3,113.9 883.6,113.2 883.9,116.2 869.6,117.0" fill="#9b40a8" stroke="#9b40a8" stroke-width="1"/>
<polygon points="883.6,113.2 896.1,112.2 896.5,115.2 883.9,116.2" fill="#9742a8" stroke="#9742a8" stroke-width="1"/>
<polygon points="896.1,112.2 908.6,111.3 908.9,114.3 896.5,115.2" fill="#9444a9" stroke="#9444a9" stroke-width="1"/>
<polygon points="908.6,111.3 919.3,110.1 919.7,113.2 908.9,114.3" fill="#9146a9" stroke="#9146a9" stroke-width="1"/>
<polygon points="919.3,110.1 929.9,109.0 930.3,112.1 919.7,113.2" fill="#8d4aa9" stroke="#8d4aa9" stroke-width="1"/>
<polygon points="929.9,109.0 939.0,107.8 939.5,110.9 930.3,112.1" fill="#884daa" stroke="#884daa" stroke-width="1"/>
<polygon points="939.0,107.8 948.1,106.6 948.5,109.7 939.5,110.9" fill="#8450aa" stroke="#8450aa" stroke-width="1"/>
<polygon points="948.1,106.6 955.8,105.4 956.3,108.5 948.5,109.7" fill="#8152aa" stroke="#8152aa" stroke-width="1"/>
<polygon points="955.8,105.4 963.4,104.2 963.9,107.3 956.3,108.5" fill="#7e53aa" stroke="#7e53aa" stroke-width="1"/>
<polygon points="963.4,104.2 970.3,102.8 970.9,106.1 963.9,107.3" fill="#7b55a9" stroke="#7b55a9" stroke-width="1"/>
<polygon points="970.3,102.8 977.1,101.5 977.8,104.8 970.9,106.1" fill="#7857a9" stroke="#7857a9" stroke-width="1"/>
<polygon points="977.1,101.5 982.9,100.3 983.6,103.6 977.8,104.8" fill="#7658a9" stroke="#7658a9" stroke-width="1"/>
<polygon points="982.9,100.3 988.5,99.0 989.3,102.4 983.6,103.6" fill="#7358a9" stroke="#7358a9" stroke-width="1"/>
<polygon points="988.5,99.0 993.6,97.8 994.4,101.1 989.3,102.4" fill="#7257ab" stroke="#7257ab" stroke-width="1"/>
<polygon points="993.6,97.8 998.5,96.5 999.5,100.0 994.4,101.1" fill="#7056ac" stroke="#7056ac" stroke-width="1"/>
<polygon points="998.5,96.5 1002.5,95.5 1003.6,98.9 999.5,100.0" fill="#6f54ad" stroke="#6f54ad" stroke-width="1"/>
<polygon points="1002.5,95.5 1006.4,94.4 1007.6,97.9 1003.6,98.9" fill="#6e53ae" stroke="#6e53ae" stroke-width="1"/>
<polygon points="1006.4,94.4 1009.8,93.5 1011.0,96.9 1007.6,97.9" fill="#6d52ae" stroke="#6d52ae" stroke-width="1"/>
<polygon points="1009.8,93.5 1013.0,92.5 1014.5,96.0 1011.0,96.9" fill="#6c51af" stroke="#6c51af" stroke-width="1"/>
<polygon points="752.7,119.9 770.9,119.7 770.9,122.4 752.7,122.6" fill="#b32ca1" stroke="#b32ca1" stroke-width="1"/>
<polygon points="770.9,119.7 789.1,119.5 789.1,122.2 770.9,122.4" fill="#b12ea2" stroke="#b12ea2" stroke-width="1"/>
<polygon points="789.1,119.5 806.2,119.2 806.2,121.9 789.1,122.2" fill="#af2fa2" stroke="#af2fa2" stroke-width="1"/>
<polygon points="806.2,119.2 823.2,118.8 823.3,121.5 806.2,121.9" fill="#ad31a3" stroke="#ad31a3" stroke-width="1"/>
<polygon points="823.2,118.8 839.2,118.3 839.3,121.0 823.3,121.5" fill="#aa33a4" stroke="#aa33a4" stroke-width="1"/>
<polygon points="839.2,118.3 855.1,117.7 855.3,120.4 839.3,121.0" fill="#a636a5" stroke="#a636a5" stroke-width="1"/>
<polygon points="855.1,117.7 869.6,117.0 869.8,119.7 855.3,120.4" fill="#a339a6" stroke="#a339a6" stroke-width="1"/>
<polygon points="869.6,117.0 883.9,116.2 884.2,118.9 869.8,119.7" fill="#9f3ca7" stroke="#9f3ca7" stroke-width="1"/>
<polygon points="883.9,116.2 896.5,115.2 896.8,117.9 884.2,118.9" fill="#9b40a8" stroke="#9b40a8" stroke-width="1"/>
<polygon points="896.5,115.2 908.9,114.3 909.3,117.0 896.8,117.9" fill="#9742a8" stroke="#9742a8" stroke-width="1"/>
<polygon points="908.9,114.3 919.7,113.2 920.0,115.9 909.3,117.0" fill="#9444a9" stroke="#9444a9" stroke-width="1"/>
<polygon points="919.7,113.2 930.3,112.1 930.7,114.9 920.0,115.9" fill="#9047a9" stroke="#9047a9" stroke-width="1"/>
<polygon points="930.3,112.1 939.5,110.9 939.9,113.7 930.7,114.9" fill="#8c4aa9" stroke="#8c4aa9" stroke-width="1"/>
<polygon points="939.5,110.9 948.5,109.7 949.0,112.6 939.9,113.7" fill="#884daa" stroke="#884daa" stroke-width="1"/>
<polygon points="948.5,109.7 956.3,108.5 956.8,111.4 949.0,112.6" fill="#8450aa" stroke="#8450aa" stroke-width="1"/>
<polygon points="956.3,108.5 963.9,107.3 964.5,110.2 956.8,111.4" fill="#8152aa" stroke="#8152aa" stroke-width="1"/>
<polygon points="963.9,107.3 970.9,106.1 971.6,109.0 964.5,110.2" fill="#7e53aa" stroke="#7e53aa" stroke-width="1"/>
<polygon points="970.9,106.1 977.8,104.8 978.5,107.8 971.6,109.0" fill="#7b55a9" stroke="#7b55a9" stroke-width="1"/>
<polygon points="977.8,104.8 983.6,103.6 984.4,106.6 978.5,107.8" fill="#7857a9" stroke="#7857a9" stroke-width="1"/>
<polygon points="983.6,103.6 989.3,102.4 990.2,105.4 984.4,106.6" fill="#7658a9" stroke="#7658a9" stroke-width="1"/>
<polygon points="989.3,102.4 994.4,101.1 995.4,104.2 990.2,105.4" fill="#7358aa" stroke="#7358aa" stroke-width="1"/>
<polygon points="994.4,101.1 999.5,100.0 1000.5,103.1 995.4,104.2" fill="#7257ab" stroke="#7257ab" stroke-width="1"/>
<polygon points="999.5,100.0 1003.6,98.9 1004.7,102.0 1000.5,103.1" fill="#7056ac" stroke="#7056ac" stroke-width="1"/>
<polygon points="1003.6,98.9 1007.6,97.9 1008.9,101.0 1004.7,102.0" fill="#6f55ac" stroke="#6f55ac" stroke-width="1"/>
<polygon points="1007.6,97.9 1011.0,96.9 1012.5,100.1 1008.9,101.0" fill="#6e54ad" stroke="#6e54ad" stroke-width="1"/>
<polygon points="1011.0,96.9 1014.5,96.0 1016.0,99.2 1012.5,100.1" fill="#6d53ae" stroke="#6d53ae" stroke-width="1"/>
<polygon points="752.7,122.6 770.9,122.4 770.9,125.1 752.7,125.3" fill="#b52aa1" stroke="#b52aa1" stroke-width="1"/>
<polygon points="770.9,122.4 789.1,122.2 789.2,124.9 770.9,125.1" fill="#b42ba1" stroke="#b42ba1" stroke-width="1"/>
<polygon points="789.1,122.2 806.2,121.9 806.3,124.6 789.2,124.9" fill="#b22da2" stroke="#b22da2" stroke-width="1"/>
<polygon points="806.2,121.9 823.3,121.5 823.4,124.2 806.3,124.6" fill="#b02fa2" stroke="#b02fa2" stroke-width="1"/>
<polygon points="823.3,121.5 839.3,121.0 839.5,123.7 823.4,124.2" fill="#ad31a3" stroke="#ad31a3" stroke-width="1"/>
<polygon points="839.3,121.0 855.3,120.4 855.5,123.1 839.5,123.7" fill="#aa33a4" stroke="#aa33a4" stroke-width="1"/>
<polygon points="855.3,120.4 869.8,119.7 870.1,122.4 855.5,123.1" fill="#a636a5" stroke="#a636a5" stroke-width="1"/>
<polygon points="869.8,119.7 884.2,118.9 884.5,121.6 870.1,122.4" fill="#a339a6" stroke="#a339a6" stroke-width="1"/>
<polygon points="884.2,118.9 896.8,117.9 897.1,120.7 884.5,121.6" fill="#9f3ca7" stroke="#9f3ca7" stroke-width="1"/>
<polygon points="896.8,117.9 909.3,117.0 909.7,119.7 897.1,120.7" fill="#9a40a8" stroke="#9a40a8" stroke-width="1"/>
<polygon points="909.3,117.0 920.0,115.9 920.4,118.7 909.7,119.7" fill="#9842a8" stroke="#9842a8" stroke-width="1"/>
<polygon points="920.0,115.9 930.7,114.9 931.1,117.6 920.4,118.7" fill="#9345a9" stroke="#9345a9" stroke-width="1"/>
<polygon points="930.7,114.9 939.9,113.7 940.3,116.5 931.1,117.6" fill="#8f48a9" stroke="#8f48a9" stroke-width="1"/>
<polygon points="939.9,113.7 949.0,112.6 949.5,115.4 940.3,116.5" fill="#8b4ba9" stroke="#8b4ba9" stroke-width="1"/>
<polygon points="949.0,112.6 956.8,111.4 957.3,114.2 949.5,115.4" fill="#874eaa" stroke="#874eaa" stroke-width="1"/>
<polygon points="956.8,111.4 964.5,110.2 965.1,113.1 957.3,114.2" fill="#8350aa" stroke="#8350aa" stroke-width="1"/>
<polygon points="964.5,110.2 971.6,109.0 972.2,111.9 965.1,113.1" fill="#8052aa" stroke="#8052aa" stroke-width="1"/>
<polygon points="971.6,109.0 978.5,107.8 979.2,110.7 972.2,111.9" fill="#7e54aa" stroke="#7e54aa" stroke-width="1"/>
<polygon points="978.5,107.8 984.4,106.6 985.2,109.6 979.2,110.7" fill="#7b55a9" stroke="#7b55a9" stroke-width="1"/>
<polygon points="984.4,106.6 990.2,105.4 991.1,108.5 985.2,109.6" fill="#7857a9" stroke="#7857a9" stroke-width="1"/>
<polygon points="990.2,105.4 995.4,104.2 996.4,107.3 991.1,108.5" fill="#7558a9" stroke="#7558a9" stroke-width="1"/>
<polygon points="995.4,104.2 1000.5,103.1 1001.6,106.2 996.4,107.3" fill="#7358aa" stroke="#7358aa" stroke-width="1"/>
<polygon points="1000.5,103.1 1004.7,102.0 1005.9,105.2 1001.6,106.2" fill="#7257ab" stroke="#7257ab" stroke-width="1"/>
<polygon points="1004.7,102.0 1008.9,101.0 1010.2,104.2 1005.9,105.2" fill="#7156ab" stroke="#7156ab" stroke-width="1"/>
<polygon points="1008.9,101.0 1012.5,100.1 1013.9,103.2 1010.2,104.2" fill="#6f55ac" stroke="#6f55ac" stroke-width="1"/>
<polygon points="1012.5,100.1 1016.0,99.2 1017.6,102.3 1013.9,103.2" fill="#6e54ad" stroke="#6e54ad" stroke-width="1"/>
<polygon points="752.7,125.3 770.9,125.1 771.0,127.5 752.7,127.7" fill="#b828a0" stroke="#b828a0" stroke-width="1"/>
<polygon points="770.9,125.1 789.2,124.9 789.2,127.3 771.0,127.5" fill="#b629a0" stroke="#b629a0" stroke-width="1"/>
<polygon points="789.2,124.9 806.3,124.6 806.4,127.0 789.2,127.3" fill="#b42ba1" stroke="#b42ba1" stroke-width="1"/>
<polygon points="806.3,124.6 823.4,124.2 823.5,126.7 806.4,127.0" fill="#b32ca1" stroke="#b32ca1" stroke-width="1"/>
<polygon points="823.4,124.2 839.5,123.7 839.6,126.1 823.5,126.7" fill="#b02ea2" stroke="#b02ea2" stroke-width="1"/>
<polygon points="839.5,123.7 855.5,123.1 855.7,125.6 839.6,126.1" fill="#ad31a3" stroke="#ad31a3" stroke-width="1"/>
<polygon points="855.5,123.1 870.1,122.4 870.3,124.8 855.7,125.6" fill="#aa33a4" stroke="#aa33a4" stroke-width="1"/>
<polygon points="870.1,122.4 884.5,121.6 884.8,124.0 870.3,124.8" fill="#a636a5" stroke="#a636a5" stroke-width="1"/>
<polygon points="884.5,121.6 897.1,120.7 897.4,123.1 884.8,124.0" fill="#a239a6" stroke="#a239a6" stroke-width="1"/>
<polygon points="897.1,120.7 909.7,119.7 910.0,122.2 897.4,123.1" fill="#9e3da7" stroke="#9e3da7" stroke-width="1"/>
<polygon points="909.7,119.7 920.4,118.7 920.8,121.1 910.0,122.2" fill="#9b40a8" stroke="#9b40a8" stroke-width="1"/>
<polygon points="920.4,118.7 931.1,117.6 931.4,120.1 920.8,121.1" fill="#9643a8" stroke="#9643a8" stroke-width="1"/>
<polygon points="931.1,117.6 940.3,116.5 940.7,119.0 931.4,120.1" fill="#9246a9" stroke="#9246a9" stroke-width="1"/>
<polygon points="940.3,116.5 949.5,115.4 949.9,118.0 940.7,119.0" fill="#8e48a9" stroke="#8e48a9" stroke-width="1"/>
<polygon points="949.5,115.4 957.3,114.2 957.9,116.8 949.9,118.0" fill="#8a4ba9" stroke="#8a4ba9" stroke-width="1"/>
<polygon points="957.3,114.2 965.1,113.1 965.7,115.8 957.9,116.8" fill="#864eaa" stroke="#864eaa" stroke-width="1"/>
<polygon points="965.1,113.1 972.2,111.9 972.8,114.6 965.7,115.8" fill="#8351aa" stroke="#8351aa" stroke-width="1"/>
<polygon points="972.2,111.9 979.2,110.7 979.9,113.5 972.8,114.6" fill="#8052aa" stroke="#8052aa" stroke-width="1"/>
<polygon points="979.2,110.7 985.2,109.6 986.0,112.3 979.9,113.5" fill="#7d54aa" stroke="#7d54aa" stroke-width="1"/>
<polygon points="985.2,109.6 991.1,108.5 991.9,111.3 986.0,112.3" fill="#7b55a9" stroke="#7b55a9" stroke-width="1"/>
<polygon points="991.1,108.5 996.4,107.3 997.3,110.1 991.9,111.3" fill="#7857a9" stroke="#7857a9" stroke-width="1"/>
<polygon points="996.4,107.3 1001.6,106.2 1002.6,109.0 997.3,110.1" fill="#7558a9" stroke="#7558a9" stroke-width="1"/>
<polygon points="1001.6,106.2 1005.9,105.2 1007.1,108.0 1002.6,109.0" fill="#7358a9" stroke="#7358a9" stroke-width="1"/>
<polygon points="1005.9,105.2 1010.2,104.2 1011.5,107.0 1007.1,108.0" fill="#7257aa" stroke="#7257aa" stroke-width="1"/>
<polygon points="1010.2,104.2 1013.9,103.2 1015.3,106.1 1011.5,107.0" fill="#7156ab" stroke="#7156ab" stroke-width="1"/>
<polygon points="1013.9,103.2 1017.6,102.3 1019.1,105.2 1015.3,106.1" fill="#7055ac" stroke="#7055ac" stroke-width="1"/>
<polygon points="752.7,127.7 771.0,127.5 771.0,129.9 752.7,130.1" fill="#ba289a" stroke="#ba289a" stroke-width="1"/>
<polygon points="771.0,127.5 789.2,127.3 789.3,129.8 771.0,129.9" fill="#b9289e" stroke="#b9289e" stroke-width="1"/>
<polygon points="789.2,127.3 806.4,127.0 806.4,129.4 789.3,129.8" fill="#b729a0" stroke="#b729a0" stroke-width="1"/>
<polygon points="806.4,127.0 823.5,126.7 823.5,129.1 806.4,129.4" fill="#b52aa1" stroke="#b52aa1" stroke-width="1"/>
<polygon points="823.5,126.7 839.6,126.1 839.7,128.6 823.5,129.1" fill="#b32ca1" stroke="#b32ca1" stroke-width="1"/>
<polygon points="839.6,126.1 855.7,125.6 855.9,128.0 839.7,128.6" fill="#b02ea2" stroke="#b02ea2" stroke-width="1"/>
<polygon points="855.7,125.6 870.3,124.8 870.5,127.2 855.9,128.0" fill="#ad31a3" stroke="#ad31a3" stroke-width="1"/>
<polygon points="870.3,124.8 884.8,124.0 885.0,126.5 870.5,127.2" fill="#aa34a4" stroke="#aa34a4" stroke-width="1"/>
<polygon points="884.8,124.0 897.4,123.1 897.7,125.5 885.0,126.5" fill="#a636a5" stroke="#a636a5" stroke-width="1"/>
<polygon points="897.4,123.1 910.0,122.2 910.3,124.6 897.7,125.5" fill="#a23aa6" stroke="#a23aa6" stroke-width="1"/>
<polygon points="910.0,122.2 920.8,121.1 921.1,123.6 910.3,124.6" fill="#9e3ca7" stroke="#9e3ca7" stroke-width="1"/>
<polygon points="920.8,121.1 931.4,120.1 931.8,122.6 921.1,123.6" fill="#9940a8" stroke="#9940a8" stroke-width="1"/>
<polygon points="931.4,120.1 940.7,119.0 941.1,121.6 931.8,122.6" fill="#9643a8" stroke="#9643a8" stroke-width="1"/>
<polygon points="940.7,119.0 949.9,118.0 950.3,120.5 941.1,121.6" fill="#9246a9" stroke="#9246a9" stroke-width="1"/>
<polygon points="949.9,118.0 957.9,116.8 958.4,119.5 950.3,120.5" fill="#8e49a9" stroke="#8e49a9" stroke-width="1"/>
<polygon points="957.9,116.8 965.7,115.8 966.3,118.4 958.4,119.5" fill="#8a4ca9" stroke="#8a4ca9" stroke-width="1"/>
<polygon points="965.7,115.8 972.8,114.6 973.5,117.3 966.3,118.4" fill="#864eaa" stroke="#864eaa" stroke-width="1"/>
<polygon points="972.8,114.6 979.9,113.5 980.6,116.2 973.5,117.3" fill="#8351aa" stroke="#8351aa" stroke-width="1"/>
<polygon points="979.9,113.5 986.0,112.3 986.7,115.1 980.6,116.2" fill="#8052aa" stroke="#8052aa" stroke-width="1"/>
<polygon points="986.0,112.3 991.9,111.3 992.8,114.1 986.7,115.1" fill="#7d54aa" stroke="#7d54aa" stroke-width="1"/>
<polygon points="991.9,111.3 997.3,110.1 998.3,113.0 992.8,114.1" fill="#7b55a9" stroke="#7b55a9" stroke-width="1"/>
<polygon points="997.3,110.1 1002.6,109.0 1003.7,111.9 998.3,113.0" fill="#7857a9" stroke="#7857a9" stroke-width="1"/>
<polygon points="1002.6,109.0 1007.1,108.0 1008.3,110.9 1003.7,111.9" fill="#7558a9" stroke="#7558a9" stroke-width="1"/>
<polygon points="1007.1,108.0 1011.5,107.0 1012.8,109.9 1008.3,110.9" fill="#7459a9" stroke="#7459a9" stroke-width="1"/>
<polygon points="1011.5,107.0 1015.3,106.1 1016.8,109.0 1012.8,109.9" fill="#7358aa" stroke="#7358aa" stroke-width="1"/>
<polygon points="1015.3,106.1 1019.1,105.2 1020.7,108.1 1016.8,109.0" fill="#7257ab" stroke="#7257ab" stroke-width="1"/>
<polygon points="752.7,130.1 771.0,129.9 771.0,132.1 752.7,132.2" fill="#bc2894" stroke="#bc2894" stroke-width="1"/>
<polygon points="771.0,129.9 789.3,129.8 789.3,131.9 771.0,132.1" fill="#bb2898" stroke="#bb2898" stroke-width="1"/>
<polygon points="789.3,129.8 806.4,129.4 806.5,131.6 789.3,131.9" fill="#b9289c" stroke="#b9289c" stroke-width="1"/>
<polygon points="806.4,129.4 823.5,129.1 823.6,131.2 806.5,131.6" fill="#b828a0" stroke="#b828a0" stroke-width="1"/>
<polygon points="823.5,129.1 839.7,128.6 839.8,130.7 823.6,131.2" fill="#b62aa1" stroke="#b62aa1" stroke-width="1"/>
<polygon points="839.7,128.6 855.9,128.0 856.0,130.2 839.8,130.7" fill="#b32ca1" stroke="#b32ca1" stroke-width="1"/>
<polygon points="855.9,128.0 870.5,127.2 870.7,129.4 856.0,130.2" fill="#b02ea2" stroke="#b02ea2" stroke-width="1"/>
<polygon points="870.5,127.2 885.0,126.5 885.3,128.7 870.7,129.4" fill="#ad31a3" stroke="#ad31a3" stroke-width="1"/>
<polygon points="885.0,126.5 897.7,125.5 898.0,127.7 885.3,128.7" fill="#a934a4" stroke="#a934a4" stroke-width="1"/>
<polygon points="897.7,125.5 910.3,124.6 910.7,126.8 898.0,127.7" fill="#a537a5" stroke="#a537a5" stroke-width="1"/>
<polygon points="910.3,124.6 921.1,123.6 921.5,125.8 910.7,126.8" fill="#a23aa6" stroke="#a23aa6" stroke-width="1"/>
<polygon points="921.1,123.6 931.8,122.6 932.2,124.9 921.5,125.8" fill="#9d3da7" stroke="#9d3da7" stroke-width="1"/>
<polygon points="931.8,122.6 941.1,121.6 941.6,123.8 932.2,124.9" fill="#9941a8" stroke="#9941a8" stroke-width="1"/>
<polygon points="941.1,121.6 950.3,120.5 950.9,122.8 941.6,123.8" fill="#9544a8" stroke="#9544a8" stroke-width="1"/>
<polygon points="950.3,120.5 958.4,119.5 959.0,121.7 950.9,122.8" fill="#9147a9" stroke="#9147a9" stroke-width="1"/>
<polygon points="958.4,119.5 966.3,118.4 967.0,120.7 959.0,121.7" fill="#8d49a9" stroke="#8d49a9" stroke-width="1"/>
<polygon points="966.3,118.4 973.5,117.3 974.3,119.6 967.0,120.7" fill="#8a4ca9" stroke="#8a4ca9" stroke-width="1"/>
<polygon points="973.5,117.3 980.6,116.2 981.5,118.5 974.3,119.6" fill="#864faa" stroke="#864faa" stroke-width="1"/>
<polygon points="980.6,116.2 986.7,115.1 987.8,117.5 981.5,118.5" fill="#8351aa" stroke="#8351aa" stroke-width="1"/>
<polygon points="986.7,115.1 992.8,114.1 993.9,116.4 987.8,117.5" fill="#8052aa" stroke="#8052aa" stroke-width="1"/>
<polygon points="992.8,114.1 998.3,113.0 999.6,115.3 993.9,116.4" fill="#7d54aa" stroke="#7d54aa" stroke-width="1"/>
<polygon points="998.3,113.0 1003.7,111.9 1005.1,114.3 999.6,115.3" fill="#7b55a9" stroke="#7b55a9" stroke-width="1"/>
<polygon points="1003.7,111.9 1008.3,110.9 1009.8,113.3 1005.1,114.3" fill="#7857a9" stroke="#7857a9" stroke-width="1"/>
<polygon points="1008.3,110.9 1012.8,109.9 1014.5,112.3 1009.8,113.3" fill="#7658a9" stroke="#7658a9" stroke-width="1"/>
<polygon points="1012.8,109.9 1016.8,109.0 1018.6,111.4 1014.5,112.3" fill="#7559a9" stroke="#7559a9" stroke-width="1"/>
<polygon points="1016.8,109.0 1020.7,108.1 1022.7,110.4 1018.6,111.4" fill="#7358a9" stroke="#7358a9" stroke-width="1"/>
<polygon points="752.7,132.2 771.0,132.1 771.0,134.2 752.7,134.3" fill="#be288e" stroke="#be288e" stroke-width="1"/>
<polygon points="771.0,132.1 789.3,131.9 789.4,134.0 771.0,134.2" fill="#bd2892" stroke="#bd2892" stroke-width="1"/>
<polygon points="789.3,131.9 806.5,131.6 806.5,133.7 789.4,134.0" fill="#bb2896" stroke="#bb2896" stroke-width="1"/>
<polygon points="806.5,131.6 823.6,131.2 823.7,133.4 806.5,133.7" fill="#ba289a" stroke="#ba289a" stroke-width="1"/>
<polygon points="823.6,131.2 839.8,130.7 839.9,132.9 823.7,133.4" fill="#b828a0" stroke="#b828a0" stroke-width="1"/>
<polygon points="839.8,130.7 856.0,130.2 856.2,132.3 839.9,132.9" fill="#b62aa1" stroke="#b62aa1" stroke-width="1"/>
<polygon points="856.0,130.2 870.7,129.4 870.9,131.6 856.2,132.3" fill="#b32ca1" stroke="#b32ca1" stroke-width="1"/>
<polygon points="870.7,129.4 885.3,128.7 885.6,130.8 870.9,131.6" fill="#b02fa2" stroke="#b02fa2" stroke-width="1"/>
<polygon points="885.3,128.7 898.0,127.7 898.3,129.9 885.6,130.8" fill="#ac31a3" stroke="#ac31a3" stroke-width="1"/>
<polygon points="898.0,127.7 910.7,126.8 911.0,129.0 898.3,129.9" fill="#a934a4" stroke="#a934a4" stroke-width="1"/>
<polygon points="910.7,126.8 921.5,125.8 921.9,128.0 911.0,129.0" fill="#a637a5" stroke="#a637a5" stroke-width="1"/>
<polygon points="921.5,125.8 932.2,124.9 932.6,127.1 921.9,128.0" fill="#a13aa6" stroke="#a13aa6" stroke-width="1"/>
<polygon points="932.2,124.9 941.6,123.8 942.1,126.1 932.6,127.1" fill="#9c3ea7" stroke="#9c3ea7" stroke-width="1"/>
<polygon points="941.6,123.8 950.9,122.8 951.4,125.1 942.1,126.1" fill="#9842a8" stroke="#9842a8" stroke-width="1"/>
<polygon points="950.9,122.8 959.0,121.7 959.6,124.0 951.4,125.1" fill="#9444a9" stroke="#9444a9" stroke-width="1"/>
<polygon points="959.0,121.7 967.0,120.7 967.7,123.0 959.6,124.0" fill="#9147a9" stroke="#9147a9" stroke-width="1"/>
<polygon points="967.0,120.7 974.3,119.6 975.1,121.9 967.7,123.0" fill="#8d49a9" stroke="#8d49a9" stroke-width="1"/>
<polygon points="974.3,119.6 981.5,118.5 982.4,120.9 975.1,121.9" fill="#894caa" stroke="#894caa" stroke-width="1"/>
<polygon points="981.5,118.5 987.8,117.5 988.8,119.8 982.4,120.9" fill="#864faa" stroke="#864faa" stroke-width="1"/>
<polygon points="987.8,117.5 993.9,116.4 995.1,118.8 988.8,119.8" fill="#8351aa" stroke="#8351aa" stroke-width="1"/>
<polygon points="993.9,116.4 999.6,115.3 1000.8,117.7 995.1,118.8" fill="#8052aa" stroke="#8052aa" stroke-width="1"/>
<polygon points="999.6,115.3 1005.1,114.3 1006.5,116.7 1000.8,117.7" fill="#7e54aa" stroke="#7e54aa" stroke-width="1"/>
<polygon points="1005.1,114.3 1009.8,113.3 1011.3,115.7 1006.5,116.7" fill="#7b55a9" stroke="#7b55a9" stroke-width="1"/>
<polygon points="1009.8,113.3 1014.5,112.3 1016.1,114.7 1011.3,115.7" fill="#7a56a9" stroke="#7a56a9" stroke-width="1"/>
<polygon points="1014.5,112.3 1018.6,111.4 1020.4,113.8 1016.1,114.7" fill="#7857a9" stroke="#7857a9" stroke-width="1"/>
<polygon points="1018.6,111.4 1022.7,110.4 1024.6,112.8 1020.4,113.8" fill="#7758a9" stroke="#7758a9" stroke-width="1"/>
<polygon points="752.7,134.3 771.0,134.2 771.1,136.1 752.7,136.2" fill="#c02889" stroke="#c02889" stroke-width="1"/>
<polygon points="771.0,134.2 789.4,134.0 789.4,135.9 771.1,136.1" fill="#bf288c" stroke="#bf288c" stroke-width="1"/>
<polygon points="789.4,134.0 806.5,133.7 806.6,135.7 789.4,135.9" fill="#bd2890" stroke="#bd2890" stroke-width="1"/>
<polygon points="806.5,133.7 823.7,133.4 823.7,135.3 806.6,135.7" fill="#bc2894" stroke="#bc2894" stroke-width="1"/>
<polygon points="823.7,133.4 839.9,132.9 840.0,134.8 823.7,135.3" fill="#ba2899" stroke="#ba2899" stroke-width="1"/>
<polygon points="839.9,132.9 856.2,132.3 856.3,134.3 840.0,134.8" fill="#b828a0" stroke="#b828a0" stroke-width="1"/>
<polygon points="856.2,132.3 870.9,131.6 871.1,133.5 856.3,134.3" fill="#b52aa1" stroke="#b52aa1" stroke-width="1"/>
<polygon points="870.9,131.6 885.6,130.8 885.8,132.8 871.1,133.5" fill="#b22ca1" stroke="#b22ca1" stroke-width="1"/>
<polygon points="885.6,130.8 898.3,129.9 898.6,131.9 885.8,132.8" fill="#af2fa2" stroke="#af2fa2" stroke-width="1"/>
<polygon points="898.3,129.9 911.0,129.0 911.3,131.0 898.6,131.9" fill="#ac32a3" stroke="#ac32a3" stroke-width="1"/>
<polygon points="911.0,129.0 921.9,128.0 922.2,130.1 911.3,131.0" fill="#a934a4" stroke="#a934a4" stroke-width="1"/>
<polygon points="921.9,128.0 932.6,127.1 933.0,129.1 922.2,130.1" fill="#a438a5" stroke="#a438a5" stroke-width="1"/>
<polygon points="932.6,127.1 942.1,126.1 942.5,128.1 933.0,129.1" fill="#a03ba6" stroke="#a03ba6" stroke-width="1"/>
<polygon points="942.1,126.1 951.4,125.1 951.9,127.2 942.5,128.1" fill="#9b3fa8" stroke="#9b3fa8" stroke-width="1"/>
<polygon points="951.4,125.1 959.6,124.0 960.2,126.1 951.9,127.2" fill="#9742a8" stroke="#9742a8" stroke-width="1"/>
<polygon points="959.6,124.0 967.7,123.0 968.4,125.1 960.2,126.1" fill="#9444a9" stroke="#9444a9" stroke-width="1"/>
<polygon points="967.7,123.0 975.1,121.9 975.9,124.1 968.4,125.1" fill="#9147a9" stroke="#9147a9" stroke-width="1"/>
<polygon points="975.1,121.9 982.4,120.9 983.3,123.1 975.9,124.1" fill="#8d49a9" stroke="#8d49a9" stroke-width="1"/>
<polygon points="982.4,120.9 988.8,119.8 989.8,122.0 983.3,123.1" fill="#8a4ca9" stroke="#8a4ca9" stroke-width="1"/>
<polygon points="988.8,119.8 995.1,118.8 996.2,121.0 989.8,122.0" fill="#874eaa" stroke="#874eaa" stroke-width="1"/>
<polygon points="995.1,118.8 1000.8,117.7 1002.0,119.9 996.2,121.0" fill="#8450aa" stroke="#8450aa" stroke-width="1"/>
<polygon points="1000.8,117.7 1006.5,116.7 1007.8,118.9 1002.0,119.9" fill="#8152aa" stroke="#8152aa" stroke-width="1"/>
<polygon points="1006.5,116.7 1011.3,115.7 1012.8,117.9 1007.8,118.9" fill="#7f53aa" stroke="#7f53aa" stroke-width="1"/>
<polygon points="1011.3,115.7 1016.1,114.7 1017.7,116.9 1012.8,117.9" fill="#7e54aa" stroke="#7e54aa" stroke-width="1"/>
<polygon points="1016.1,114.7 1020.4,113.8 1022.1,116.0 1017.7,116.9" fill="#7c54aa" stroke="#7c54aa" stroke-width="1"/>
<polygon points="1020.4,113.8 1024.6,112.8 1026.5,115.0 1022.1,116.0" fill="#7b55a9" stroke="#7b55a9" stroke-width="1"/>
<polygon points="752.7,136.2 771.1,136.1 771.1,138.0 752.7,138.1" fill="#c12884" stroke="#c12884" stroke-width="1"/>
<polygon points="771.1,136.1 789.4,135.9 789.5,137.9 771.1,138.0" fill="#c02887" stroke="#c02887" stroke-width="1"/>
<polygon points="789.4,135.9 806.6,135.7 806.6,137.6 789.5,137.9" fill="#bf288a" stroke="#bf288a" stroke-width="1"/>
<polygon points="806.6,135.7 823.7,135.3 823.8,137.3 806.6,137.6" fill="#be288e" stroke="#be288e" stroke-width="1"/>
<polygon points="823.7,135.3 840.0,134.8 840.1,136.7 823.8,137.3" fill="#bc2893" stroke="#bc2893" stroke-width="1"/>
<polygon points="840.0,134.8 856.3,134.3 856.5,136.2 840.1,136.7" fill="#ba289a" stroke="#ba289a" stroke-width="1"/>
<polygon points="856.3,134.3 871.1,133.5 871.3,135.5 856.5,136.2" fill="#b828a0" stroke="#b828a0" stroke-width="1"/>
<polygon points="871.1,133.5 885.8,132.8 886.0,134.8 871.3,135.5" fill="#b52aa1" stroke="#b52aa1" stroke-width="1"/>
<polygon points="885.8,132.8 898.6,131.9 898.9,133.9 886.0,134.8" fill="#b22da2" stroke="#b22da2" stroke-width="1"/>
<polygon points="898.6,131.9 911.3,131.0 911.7,133.0 898.9,133.9" fill="#af2fa2" stroke="#af2fa2" stroke-width="1"/>
<polygon points="911.3,131.0 922.2,130.1 922.6,132.1 911.7,133.0" fill="#ac32a3" stroke="#ac32a3" stroke-width="1"/>
<polygon points="922.2,130.1 933.0,129.1 933.4,131.2 922.6,132.1" fill="#a835a4" stroke="#a835a4" stroke-width="1"/>
<polygon points="933.0,129.1 942.5,128.1 943.0,130.2 933.4,131.2" fill="#a438a5" stroke="#a438a5" stroke-width="1"/>
<polygon points="942.5,128.1 951.9,127.2 952.4,129.2 943.0,130.2" fill="#9f3ca7" stroke="#9f3ca7" stroke-width="1"/>
<polygon points="951.9,127.2 960.2,126.1 960.8,128.2 952.4,129.2" fill="#9b40a8" stroke="#9b40a8" stroke-width="1"/>
<polygon points="960.2,126.1 968.4,125.1 969.1,127.3 960.8,128.2" fill="#9742a8" stroke="#9742a8" stroke-width="1"/>
<polygon points="968.4,125.1 975.9,124.1 976.6,126.2 969.1,127.3" fill="#9444a9" stroke="#9444a9" stroke-width="1"/>
<polygon points="975.9,124.1 983.3,123.1 984.1,125.2 976.6,126.2" fill="#9146a9" stroke="#9146a9" stroke-width="1"/>
<polygon points="983.3,123.1 989.8,122.0 990.7,124.2 984.1,125.2" fill="#8e49a9" stroke="#8e49a9" stroke-width="1"/>
<polygon points="989.8,122.0 996.2,121.0 997.2,123.2 990.7,124.2" fill="#8b4ba9" stroke="#8b4ba9" stroke-width="1"/>
<polygon points="996.2,121.0 1002.0,119.9 1003.2,122.2 997.2,123.2" fill="#894daa" stroke="#894daa" stroke-width="1"/>
<polygon points="1002.0,119.9 1007.8,118.9 1009.1,121.2 1003.2,122.2" fill="#864faa" stroke="#864faa" stroke-width="1"/>
<polygon points="1007.8,118.9 1012.8,117.9 1014.2,120.2 1009.1,121.2" fill="#8450aa" stroke="#8450aa" stroke-width="1"/>
<polygon points="1012.8,117.9 1017.7,116.9 1019.3,119.2 1014.2,120.2" fill="#8251aa" stroke="#8251aa" stroke-width="1"/>
<polygon points="1017.7,116.9 1022.1,116.0 1023.8,118.2 1019.3,119.2" fill="#8151aa" stroke="#8151aa" stroke-width="1"/>
<polygon points="1022.1,116.0 1026.5,115.0 1028.3,117.2 1023.8,118.2" fill="#8152aa" stroke="#8152aa" stroke-width="1"/>
<polygon points="752.7,138.1 771.1,138.0 771.1,139.7 752.7,139.8" fill="#c32880" stroke="#c32880" stroke-width="1"/>
<polygon points="771.1,138.0 789.5,137.9 789.5,139.6 771.1,139.7" fill="#c22883" stroke="#c22883" stroke-width="1"/>
<polygon points="789.5,137.9 806.6,137.6 806.7,139.3 789.5,139.6" fill="#c12885" stroke="#c12885" stroke-width="1"/>
<polygon points="806.6,137.6 823.8,137.3 823.8,139.0 806.7,139.3" fill="#c02889" stroke="#c02889" stroke-width="1"/>
<polygon points="823.8,137.3 840.1,136.7 840.2,138.5 823.8,139.0" fill="#be288d" stroke="#be288d" stroke-width="1"/>
<polygon points="840.1,136.7 856.5,136.2 856.6,138.0 840.2,138.5" fill="#bc2893" stroke="#bc2893" stroke-width="1"/>
<polygon points="856.5,136.2 871.3,135.5 871.5,137.2 856.6,138.0" fill="#ba289a" stroke="#ba289a" stroke-width="1"/>
<polygon points="871.3,135.5 886.0,134.8 886.3,136.5 871.5,137.2" fill="#b728a0" stroke="#b728a0" stroke-width="1"/>
<polygon points="886.0,134.8 898.9,133.9 899.1,135.6 886.3,136.5" fill="#b52ba1" stroke="#b52ba1" stroke-width="1"/>
<polygon points="898.9,133.9 911.7,133.0 912.0,134.8 899.1,135.6" fill="#b22da2" stroke="#b22da2" stroke-width="1"/>
<polygon points="911.7,133.0 922.6,132.1 922.9,133.9 912.0,134.8" fill="#af2fa2" stroke="#af2fa2" stroke-width="1"/>
<polygon points="922.6,132.1 933.4,131.2 933.8,133.0 922.9,133.9" fill="#ab32a3" stroke="#ab32a3" stroke-width="1"/>
<polygon points="933.4,131.2 943.0,130.2 943.4,132.0 933.8,133.0" fill="#a735a4" stroke="#a735a4" stroke-width="1"/>
<polygon points="943.0,130.2 952.4,129.2 953.0,131.1 943.4,132.0" fill="#a339a6" stroke="#a339a6" stroke-width="1"/>
<polygon points="952.4,129.2 960.8,128.2 961.4,130.1 953.0,131.1" fill="#9f3ca7" stroke="#9f3ca7" stroke-width="1"/>
<polygon points="960.8,128.2 969.1,127.3 969.8,129.1 961.4,130.1" fill="#9b3fa8" stroke="#9b3fa8" stroke-width="1"/>
<polygon points="969.1,127.3 976.6,126.2 977.5,128.1 969.8,129.1" fill="#9842a8" stroke="#9842a8" stroke-width="1"/>
<polygon points="976.6,126.2 984.1,125.2 985.0,127.1 977.5,128.1" fill="#9543a8" stroke="#9543a8" stroke-width="1"/>
<polygon points="984.1,125.2 990.7,124.2 991.7,126.1 985.0,127.1" fill="#9345a9" stroke="#9345a9" stroke-width="1"/>
<polygon points="990.7,124.2 997.2,123.2 998.4,125.1 991.7,126.1" fill="#9147a9" stroke="#9147a9" stroke-width="1"/>
<polygon points="997.2,123.2 1003.2,122.2 1004.5,124.0 998.4,125.1" fill="#8e48a9" stroke="#8e48a9" stroke-width="1"/>
<polygon points="1003.2,122.2 1009.1,121.2 1010.5,123.0 1004.5,124.0" fill="#8c4aa9" stroke="#8c4aa9" stroke-width="1"/>
<polygon points="1009.1,121.2 1014.2,120.2 1015.8,122.0 1010.5,123.0" fill="#8b4ba9" stroke="#8b4ba9" stroke-width="1"/>
<polygon points="1014.2,120.2 1019.3,119.2 1021.0,121.0 1015.8,122.0" fill="#8a4ca9" stroke="#8a4ca9" stroke-width="1"/>
<polygon points="1019.3,119.2 1023.8,118.2 1025.7,120.0 1021.0,121.0" fill="#894caa" stroke="#894caa" stroke-width="1"/>
<polygon points="1023.8,118.2 1028.3,117.2 1030.3,119.1 1025.7,120.0" fill="#8a4ca9" stroke="#8a4ca9" stroke-width="1"/>
<polygon points="752.7,139.8 771.1,139.7 771.1,141.4 752.7,141.5" fill="#c4287c" stroke="#c4287c" stroke-width="1"/>
<polygon points="771.1,139.7 789.5,139.6 789.5,141.2 771.1,141.4" fill="#c3287e" stroke="#c3287e" stroke-width="1"/>
<polygon points="789.5,139.6 806.7,139.3 806.7,141.0 789.5,141.2" fill="#c22881" stroke="#c22881" stroke-width="1"/>
<polygon points="806.7,139.3 823.8,139.0 823.9,140.7 806.7,141.0" fill="#c12884" stroke="#c12884" stroke-width="1"/>
<polygon points="823.8,139.0 840.2,138.5 840.3,140.2 823.9,140.7" fill="#c02888" stroke="#c02888" stroke-width="1"/>
<polygon points="840.2,138.5 856.6,138.0 856.7,139.7 840.3,140.2" fill="#be288d" stroke="#be288d" stroke-width="1"/>
<polygon points="856.6,138.0 871.5,137.2 871.6,139.0 856.7,139.7" fill="#bc2894" stroke="#bc2894" stroke-width="1"/>
<polygon points="871.5,137.2 886.3,136.5 886.5,138.3 871.6,139.0" fill="#ba289b" stroke="#ba289b" stroke-width="1"/>
<polygon points="886.3,136.5 899.1,135.6 899.4,137.4 886.5,138.3" fill="#b729a0" stroke="#b729a0" stroke-width="1"/>
<polygon points="899.1,135.6 912.0,134.8 912.3,136.6 899.4,137.4" fill="#b42ba1" stroke="#b42ba1" stroke-width="1"/>
<polygon points="912.0,134.8 922.9,133.9 923.3,135.7 912.3,136.6" fill="#b22da2" stroke="#b22da2" stroke-width="1"/>
<polygon points="922.9,133.9 933.8,133.0 934.2,134.8 923.3,135.7" fill="#ae30a3" stroke="#ae30a3" stroke-width="1"/>
<polygon points="933.8,133.0 943.4,132.0 943.9,133.8 934.2,134.8" fill="#ab33a4" stroke="#ab33a4" stroke-width="1"/>
<polygon points="943.4,132.0 953.0,131.1 953.5,132.9 943.9,133.8" fill="#a736a5" stroke="#a736a5" stroke-width="1"/>
<polygon points="953.0,131.1 961.4,130.1 962.0,131.9 953.5,132.9" fill="#a339a6" stroke="#a339a6" stroke-width="1"/>
<polygon points="961.4,130.1 969.8,129.1 970.5,131.0 962.0,131.9" fill="#9f3ca7" stroke="#9f3ca7" stroke-width="1"/>
<polygon points="969.8,129.1 977.5,128.1 978.3,129.9 970.5,131.0" fill="#9c3ea7" stroke="#9c3ea7" stroke-width="1"/>
<polygon points="977.5,128.1 985.0,127.1 985.9,129.0 978.3,129.9" fill="#9a40a8" stroke="#9a40a8" stroke-width="1"/>
<polygon points="985.0,127.1 991.7,126.1 992.8,127.9 985.9,129.0" fill="#9842a8" stroke="#9842a8" stroke-width="1"/>
<polygon points="991.7,126.1 998.4,125.1 999.5,127.0 992.8,127.9" fill="#9643a8" stroke="#9643a8" stroke-width="1"/>
<polygon points="998.4,125.1 1004.5,124.0 1005.8,125.9 999.5,127.0" fill="#9544a8" stroke="#9544a8" stroke-width="1"/>
<polygon points="1004.5,124.0 1010.5,123.0 1011.9,124.9 1005.8,125.9" fill="#9444a9" stroke="#9444a9" stroke-width="1"/>
<polygon points="1010.5,123.0 1015.8,122.0 1017.3,123.9 1011.9,124.9" fill="#9345a9" stroke="#9345a9" stroke-width="1"/>
<polygon points="1015.8,122.0 1021.0,121.0 1022.7,122.9 1017.3,123.9" fill="#9345a9" stroke="#9345a9" stroke-width="1"/>
<polygon points="1021.0,121.0 1025.7,120.0 1027.5,121.9 1022.7,122.9" fill="#9444a9" stroke="#9444a9" stroke-width="1"/>
<polygon points="1025.7,120.0 1030.3,119.1 1032.3,120.9 1027.5,121.9" fill="#9643a8" stroke="#9643a8" stroke-width="1"/>
<polygon points="752.7,141.5 771.1,141.4 771.1,142.9 752.7,143.0" fill="#c52879" stroke="#c52879" stroke-width="1"/>
<polygon points="771.1,141.4 789.5,141.2 789.6,142.8 771.1,142.9" fill="#c4287b" stroke="#c4287b" stroke-width="1"/>
<polygon points="789.5,141.2 806.7,141.0 806.7,142.5 789.6,142.8" fill="#c4287d" stroke="#c4287d" stroke-width="1"/>
<polygon points="806.7,141.0 823.9,140.7 823.9,142.2 806.7,142.5" fill="#c32880" stroke="#c32880" stroke-width="1"/>
<polygon points="823.9,140.7 840.3,140.2 840.4,141.7 823.9,142.2" fill="#c22883" stroke="#c22883" stroke-width="1"/>
<polygon points="840.3,140.2 856.7,139.7 856.9,141.3 840.4,141.7" fill="#c02888" stroke="#c02888" stroke-width="1"/>
<polygon points="856.7,139.7 871.6,139.0 871.8,140.5 856.9,141.3" fill="#be288e" stroke="#be288e" stroke-width="1"/>
<polygon points="871.6,139.0 886.5,138.3 886.7,139.9 871.8,140.5" fill="#bc2894" stroke="#bc2894" stroke-width="1"/>
<polygon points="886.5,138.3 899.4,137.4 899.7,139.0 886.7,139.9" fill="#ba289b" stroke="#ba289b" stroke-width="1"/>
<polygon points="899.4,137.4 912.3,136.6 912.6,138.2 899.7,139.0" fill="#b729a0" stroke="#b729a0" stroke-width="1"/>
<polygon points="912.3,136.6 923.3,135.7 923.6,137.3 912.6,138.2" fill="#b52ba1" stroke="#b52ba1" stroke-width="1"/>
<polygon points="923.3,135.7 934.2,134.8 934.5,136.4 923.6,137.3" fill="#b12da2" stroke="#b12da2" stroke-width="1"/>
<polygon points="934.2,134.8 943.9,133.8 944.3,135.4 934.5,136.4" fill="#ae30a3" stroke="#ae30a3" stroke-width="1"/>
<polygon points="943.9,133.8 953.5,132.9 954.0,134.5 944.3,135.4" fill="#ab33a4" stroke="#ab33a4" stroke-width="1"/>
<polygon points="953.5,132.9 962.0,131.9 962.7,133.5 954.0,134.5" fill="#a736a5" stroke="#a736a5" stroke-width="1"/>
<polygon points="962.0,131.9 970.5,131.0 971.2,132.6 962.7,133.5" fill="#a438a5" stroke="#a438a5" stroke-width="1"/>
<polygon points="970.5,131.0 978.3,129.9 979.1,131.6 971.2,132.6" fill="#a23aa6" stroke="#a23aa6" stroke-width="1"/>
<polygon points="978.3,129.9 985.9,129.0 986.9,130.6 979.1,131.6" fill="#a03ca7" stroke="#a03ca7" stroke-width="1"/>
<polygon points="985.9,129.0 992.8,127.9 993.8,129.6 986.9,130.6" fill="#9e3da7" stroke="#9e3da7" stroke-width="1"/>
<polygon points="992.8,127.9 999.5,127.0 1000.7,128.6 993.8,129.6" fill="#9d3da7" stroke="#9d3da7" stroke-width="1"/>
<polygon points="999.5,127.0 1005.8,125.9 1007.1,127.5 1000.7,128.6" fill="#9d3ea7" stroke="#9d3ea7" stroke-width="1"/>
<polygon points="1005.8,125.9 1011.9,124.9 1013.4,126.5 1007.1,127.5" fill="#9d3ea7" stroke="#9d3ea7" stroke-width="1"/>
<polygon points="1011.9,124.9 1017.3,123.9 1018.9,125.5 1013.4,126.5" fill="#9e3da7" stroke="#9e3da7" stroke-width="1"/>
<polygon points="1017.3,123.9 1022.7,122.9 1024.4,124.4 1018.9,125.5" fill="#a03ca7" stroke="#a03ca7" stroke-width="1"/>
<polygon points="1022.7,122.9 1027.5,121.9 1029.4,123.4 1024.4,124.4" fill="#a239a6" stroke="#a239a6" stroke-width="1"/>
<polygon points="1027.5,121.9 1032.3,120.9 1034.3,122.4 1029.4,123.4" fill="#a736a5" stroke="#a736a5" stroke-width="1"/>
<polygon points="752.7,143.0 771.1,142.9 771.1,144.4 752.7,144.5" fill="#c62876" stroke="#c62876" stroke-width="1"/>
<polygon points="771.1,142.9 789.6,142.8 789.6,144.3 771.1,144.4" fill="#c62877" stroke="#c62877" stroke-width="1"/>
<polygon points="789.6,142.8 806.7,142.5 806.8,144.0 789.6,144.3" fill="#c52879" stroke="#c52879" stroke-width="1"/>
<polygon points="806.7,142.5 823.9,142.2 824.0,143.8 806.8,144.0" fill="#c4287c" stroke="#c4287c" stroke-width="1"/>
<polygon points="823.9,142.2 840.4,141.7 840.5,143.3 824.0,143.8" fill="#c3287f" stroke="#c3287f" stroke-width="1"/>
<polygon points="840.4,141.7 856.9,141.3 857.0,142.8 840.5,143.3" fill="#c22883" stroke="#c22883" stroke-width="1"/>
<polygon points="856.9,141.3 871.8,140.5 872.0,142.1 857.0,142.8" fill="#c02888" stroke="#c02888" stroke-width="1"/>
<polygon points="871.8,140.5 886.7,139.9 886.9,141.4 872.0,142.1" fill="#be288e" stroke="#be288e" stroke-width="1"/>
<polygon points="886.7,139.9 899.7,139.0 899.9,140.6 886.9,141.4" fill="#bc2895" stroke="#bc2895" stroke-width="1"/>
<polygon points="899.7,139.0 912.6,138.2 912.8,139.8 899.9,140.6" fill="#b9289c" stroke="#b9289c" stroke-width="1"/>
<polygon points="912.6,138.2 923.6,137.3 923.9,138.9 912.8,139.8" fill="#b729a0" stroke="#b729a0" stroke-width="1"/>
<polygon points="923.6,137.3 934.5,136.4 934.9,138.0 923.9,138.9" fill="#b42ba1" stroke="#b42ba1" stroke-width="1"/>
<polygon points="934.5,136.4 944.3,135.4 944.8,137.1 934.9,138.0" fill="#b12da2" stroke="#b12da2" stroke-width="1"/>
<polygon points="944.3,135.4 954.0,134.5 954.6,136.2 944.8,137.1" fill="#ae30a3" stroke="#ae30a3" stroke-width="1"/>
<polygon points="954.0,134.5 962.7,133.5 963.3,135.2 954.6,136.2" fill="#ab32a3" stroke="#ab32a3" stroke-width="1"/>
<polygon points="962.7,133.5 971.2,132.6 972.0,134.2 963.3,135.2" fill="#a934a4" stroke="#a934a4" stroke-width="1"/>
<polygon points="971.2,132.6 979.1,131.6 979.9,133.2 972.0,134.2" fill="#a736a5" stroke="#a736a5" stroke-width="1"/>
<polygon points="979.1,131.6 986.9,130.6 987.8,132.2 979.9,133.2" fill="#a637a5" stroke="#a637a5" stroke-width="1"/>
<polygon points="986.9,130.6 993.8,129.6 994.9,131.2 987.8,132.2" fill="#a637a5" stroke="#a637a5" stroke-width="1"/>
<polygon points="993.8,129.6 1000.7,128.6 1001.9,130.2 994.9,131.2" fill="#a636a5" stroke="#a636a5" stroke-width="1"/>
<polygon points="1000.7,128.6 1007.1,127.5 1008.4,129.1 1001.9,130.2" fill="#a835a4" stroke="#a835a4" stroke-width="1"/>
<polygon points="1007.1,127.5 1013.4,126.5 1014.8,128.1 1008.4,129.1" fill="#a934a4" stroke="#a934a4" stroke-width="1"/>
<polygon points="1013.4,126.5 1018.9,125.5 1020.5,127.0 1014.8,128.1" fill="#ac32a3" stroke="#ac32a3" stroke-width="1"/>
<polygon points="1018.9,125.5 1024.4,124.4 1026.2,126.0 1020.5,127.0" fill="#b02fa2" stroke="#b02fa2" stroke-width="1"/>
<polygon points="1024.4,124.4 1029.4,123.4 1031.3,124.9 1026.2,126.0" fill="#b42ba1" stroke="#b42ba1" stroke-width="1"/>
<polygon points="1029.4,123.4 1034.3,122.4 1036.3,123.9 1031.3,124.9" fill="#bb2897" stroke="#bb2897" stroke-width="1"/>
<polygon points="752.7,144.5 771.1,144.4 771.2,145.7 752.7,145.8" fill="#c72873" stroke="#c72873" stroke-width="1"/>
<polygon points="771.1,144.4 789.6,144.3 789.6,145.6 771.2,145.7" fill="#c72874" stroke="#c72874" stroke-width="1"/>
<polygon points="789.6,144.3 806.8,144.0 806.8,145.4 789.6,145.6" fill="#c62876" stroke="#c62876" stroke-width="1"/>
<polygon points="806.8,144.0 824.0,143.8 824.0,145.1 806.8,145.4" fill="#c52878" stroke="#c52878" stroke-width="1"/>
<polygon points="824.0,143.8 840.5,143.3 840.6,144.7 824.0,145.1" fill="#c4287b" stroke="#c4287b" stroke-width="1"/>
<polygon points="840.5,143.3 857.0,142.8 857.1,144.2 840.6,144.7" fill="#c3287f" stroke="#c3287f" stroke-width="1"/>
<polygon points="857.0,142.8 872.0,142.1 872.1,143.5 857.1,144.2" fill="#c22883" stroke="#c22883" stroke-width="1"/>
<polygon points="872.0,142.1 886.9,141.4 887.1,142.9 872.1,143.5" fill="#c02888" stroke="#c02888" stroke-width="1"/>
<polygon points="886.9,141.4 899.9,140.6 900.1,142.0 887.1,142.9" fill="#be288e" stroke="#be288e" stroke-width="1"/>
<polygon points="899.9,140.6 912.8,139.8 913.1,141.2 900.1,142.0" fill="#bc2895" stroke="#bc2895" stroke-width="1"/>
<polygon points="912.8,139.8 923.9,138.9 924.2,140.3 913.1,141.2" fill="#ba289b" stroke="#ba289b" stroke-width="1"/>
<polygon points="923.9,138.9 934.9,138.0 935.3,139.5 924.2,140.3" fill="#b729a0" stroke="#b729a0" stroke-width="1"/>
<polygon points="934.9,138.0 944.8,137.1 945.2,138.6 935.3,139.5" fill="#b52ba1" stroke="#b52ba1" stroke-width="1"/>
<polygon points="944.8,137.1 954.6,136.2 955.0,137.7 945.2,138.6" fill="#b22da2" stroke="#b22da2" stroke-width="1"/>
<polygon points="954.6,136.2 963.3,135.2 963.9,136.7 955.0,137.7" fill="#af2fa2" stroke="#af2fa2" stroke-width="1"/>
<polygon points="963.3,135.2 972.0,134.2 972.6,135.8 963.9,136.7" fill="#ad31a3" stroke="#ad31a3" stroke-width="1"/>
<polygon points="972.0,134.2 979.9,133.2 980.7,134.7 972.6,135.8" fill="#ac31a3" stroke="#ac31a3" stroke-width="1"/>
<polygon points="979.9,133.2 987.8,132.2 988.7,133.8 980.7,134.7" fill="#ac31a3" stroke="#ac31a3" stroke-width="1"/>
<polygon points="987.8,132.2 994.9,131.2 995.9,132.7 988.7,133.8" fill="#ae30a3" stroke="#ae30a3" stroke-width="1"/>
<polygon points="994.9,131.2 1001.9,130.2 1003.0,131.7 995.9,132.7" fill="#b02ea2" stroke="#b02ea2" stroke-width="1"/>
<polygon points="1001.9,130.2 1008.4,129.1 1009.6,130.6 1003.0,131.7" fill="#b32ca1" stroke="#b32ca1" stroke-width="1"/>
<polygon points="1008.4,129.1 1014.8,128.1 1016.2,129.6 1009.6,130.6" fill="#b729a0" stroke="#b729a0" stroke-width="1"/>
<polygon points="1014.8,128.1 1020.5,127.0 1022.0,128.5 1016.2,129.6" fill="#bb2896" stroke="#bb2896" stroke-width="1"/>
<polygon points="1020.5,127.0 1026.2,126.0 1027.8,127.5 1022.0,128.5" fill="#c12885" stroke="#c12885" stroke-width="1"/>
<polygon points="1026.2,126.0 1031.3,124.9 1033.0,126.4 1027.8,127.5" fill="#c82871" stroke="#c82871" stroke-width="1"/>
<polygon points="1031.3,124.9 1036.3,123.9 1038.2,125.3 1033.0,126.4" fill="#cc294b" stroke="#cc294b" stroke-width="1"/>
<polygon points="752.7,145.8 771.2,145.7 771.2,147.0 752.7,147.1" fill="#c82870" stroke="#c82870" stroke-width="1"/>
<polygon points="771.2,145.7 789.6,145.6 789.6,147.0 771.2,147.0" fill="#c82871" stroke="#c82871" stroke-width="1"/>
<polygon points="789.6,145.6 806.8,145.4 806.8,146.7 789.6,147.0" fill="#c72873" stroke="#c72873" stroke-width="1"/>
<polygon points="806.8,145.4 824.0,145.1 824.0,146.5 806.8,146.7" fill="#c62875" stroke="#c62875" stroke-width="1"/>
<polygon points="824.0,145.1 840.6,144.7 840.6,146.0 824.0,146.5" fill="#c62877" stroke="#c62877" stroke-width="1"/>
<polygon points="840.6,144.7 857.1,144.2 857.2,145.6 840.6,146.0" fill="#c5287a" stroke="#c5287a" stroke-width="1"/>
<polygon points="857.1,144.2 872.1,143.5 872.3,144.9 857.2,145.6" fill="#c3287e" stroke="#c3287e" stroke-width="1"/>
<polygon points="872.1,143.5 887.1,142.9 887.3,144.3 872.3,144.9" fill="#c22883" stroke="#c22883" stroke-width="1"/>
<polygon points="887.1,142.9 900.1,142.0 900.3,143.5 887.3,144.3" fill="#c02889" stroke="#c02889" stroke-width="1"/>
<polygon points="900.1,142.0 913.1,141.2 913.4,142.7 900.3,143.5" fill="#be288f" stroke="#be288f" stroke-width="1"/>
<polygon points="913.1,141.2 924.2,140.3 924.5,141.8 913.4,142.7" fill="#bc2894" stroke="#bc2894" stroke-width="1"/>
<polygon points="924.2,140.3 935.3,139.5 935.6,141.0 924.5,141.8" fill="#ba289a" stroke="#ba289a" stroke-width="1"/>
<polygon points="935.3,139.5 945.2,138.6 945.6,140.1 935.6,141.0" fill="#b828a0" stroke="#b828a0" stroke-width="1"/>
<polygon points="945.2,138.6 955.0,137.7 955.5,139.2 945.6,140.1" fill="#b52aa1" stroke="#b52aa1" stroke-width="1"/>
<polygon points="955.0,137.7 963.9,136.7 964.4,138.2 955.5,139.2" fill="#b32ca1" stroke="#b32ca1" stroke-width="1"/>
<polygon points="963.9,136.7 972.6,135.8 973.3,137.3 964.4,138.2" fill="#b22da2" stroke="#b22da2" stroke-width="1"/>
<polygon points="972.6,135.8 980.7,134.7 981.5,136.2 973.3,137.3" fill="#b22da2" stroke="#b22da2" stroke-width="1"/>
<polygon points="980.7,134.7 988.7,133.8 989.6,135.3 981.5,136.2" fill="#b32ca1" stroke="#b32ca1" stroke-width="1"/>
<polygon points="988.7,133.8 995.9,132.7 996.9,134.2 989.6,135.3" fill="#b62aa1" stroke="#b62aa1" stroke-width="1"/>
<polygon points="995.9,132.7 1003.0,131.7 1004.1,133.2 996.9,134.2" fill="#ba289a" stroke="#ba289a" stroke-width="1"/>
<polygon points="1003.0,131.7 1009.6,130.6 1010.9,132.1 1004.1,133.2" fill="#bf288c" stroke="#bf288c" stroke-width="1"/>
<polygon points="1009.6,130.6 1016.2,129.6 1017.6,131.1 1010.9,132.1" fill="#c5287a" stroke="#c5287a" stroke-width="1"/>
<polygon points="1016.2,129.6 1022.0,128.5 1023.5,130.0 1017.6,131.1" fill="#ca2860" stroke="#ca2860" stroke-width="1"/>
<polygon points="1022.0,128.5 1027.8,127.5 1029.4,128.9 1023.5,130.0" fill="#ce293e" stroke="#ce293e" stroke-width="1"/>
<polygon points="1027.8,127.5 1033.0,126.4 1034.8,127.8 1029.4,128.9" fill="#d12d2c" stroke="#d12d2c" stroke-width="1"/>
<polygon points="1033.0,126.4 1038.2,125.3 1040.1,126.7 1034.8,127.8" fill="#d4322c" stroke="#d4322c" stroke-width="1"/>
<polygon points="752.7,147.1 771.2,147.0 771.2,148.2 752.7,148.3" fill="#c8286d" stroke="#c8286d" stroke-width="1"/>
<polygon points="771.2,147.0 789.6,147.0 789.7,148.2 771.2,148.2" fill="#c8286e" stroke="#c8286e" stroke-width="1"/>
<polygon points="789.6,147.0 806.8,146.7 806.9,147.9 789.7,148.2" fill="#c82870" stroke="#c82870" stroke-width="1"/>
<polygon points="806.8,146.7 824.0,146.5 824.1,147.7 806.9,147.9" fill="#c72872" stroke="#c72872" stroke-width="1"/>
<polygon points="824.0,146.5 840.6,146.0 840.7,147.3 824.1,147.7" fill="#c72874" stroke="#c72874" stroke-width="1"/>
<polygon points="840.6,146.0 857.2,145.6 857.3,146.8 840.7,147.3" fill="#c62877" stroke="#c62877" stroke-width="1"/>
<polygon points="857.2,145.6 872.3,144.9 872.4,146.2 857.3,146.8" fill="#c5287a" stroke="#c5287a" stroke-width="1"/>
<polygon points="872.3,144.9 887.3,144.3 887.4,145.5 872.4,146.2" fill="#c3287e" stroke="#c3287e" stroke-width="1"/>
<polygon points="887.3,144.3 900.3,143.5 900.6,144.7 887.4,145.5" fill="#c22883" stroke="#c22883" stroke-width="1"/>
<polygon points="900.3,143.5 913.4,142.7 913.6,144.0 900.6,144.7" fill="#c02889" stroke="#c02889" stroke-width="1"/>
<polygon points="913.4,142.7 924.5,141.8 924.8,143.1 913.6,144.0" fill="#be288d" stroke="#be288d" stroke-width="1"/>
<polygon points="924.5,141.8 935.6,141.0 936.0,142.3 924.8,143.1" fill="#bd2892" stroke="#bd2892" stroke-width="1"/>
<polygon points="935.6,141.0 945.6,140.1 946.0,141.3 936.0,142.3" fill="#bb2898" stroke="#bb2898" stroke-width="1"/>
<polygon points="945.6,140.1 955.5,139.2 956.0,140.4 946.0,141.3" fill="#b9289e" stroke="#b9289e" stroke-width="1"/>
<polygon points="955.5,139.2 964.4,138.2 965.1,139.4 956.0,140.4" fill="#b729a0" stroke="#b729a0" stroke-width="1"/>
<polygon points="964.4,138.2 973.3,137.3 974.0,138.5 965.1,139.4" fill="#b729a0" stroke="#b729a0" stroke-width="1"/>
<polygon points="973.3,137.3 981.5,136.2 982.3,137.4 974.0,138.5" fill="#b728a0" stroke="#b728a0" stroke-width="1"/>
<polygon points="981.5,136.2 989.6,135.3 990.5,136.4 982.3,137.4" fill="#ba289a" stroke="#ba289a" stroke-width="1"/>
<polygon points="989.6,135.3 996.9,134.2 997.9,135.3 990.5,136.4" fill="#be288e" stroke="#be288e" stroke-width="1"/>
<polygon points="996.9,134.2 1004.1,133.2 1005.3,134.3 997.9,135.3" fill="#c4287d" stroke="#c4287d" stroke-width="1"/>
<polygon points="1004.1,133.2 1010.9,132.1 1012.2,133.2 1005.3,134.3" fill="#c92864" stroke="#c92864" stroke-width="1"/>
<polygon points="1010.9,132.1 1017.6,131.1 1019.0,132.1 1012.2,133.2" fill="#ce2940" stroke="#ce2940" stroke-width="1"/>
<polygon points="1017.6,131.1 1023.5,130.0 1025.1,130.9 1019.0,132.1" fill="#d12d2c" stroke="#d12d2c" stroke-width="1"/>
<polygon points="1023.5,130.0 1029.4,128.9 1031.2,129.8 1025.1,130.9" fill="#d3322c" stroke="#d3322c" stroke-width="1"/>
<polygon points="1029.4,128.9 1034.8,127.8 1036.7,128.7 1031.2,129.8" fill="#d6382b" stroke="#d6382b" stroke-width="1"/>
<polygon points="1034.8,127.8 1040.1,126.7 1042.2,127.6 1036.7,128.7" fill="#d83d2b" stroke="#d83d2b" stroke-width="1"/>
<polygon points="752.7,148.3 771.2,148.2 771.2,149.4 752.7,149.5" fill="#c9286a" stroke="#c9286a" stroke-width="1"/>
<polygon points="771.2,148.2 789.7,148.2 789.7,149.3 771.2,149.4" fill="#c9286b" stroke="#c9286b" stroke-width="1"/>
<polygon points="789.7,148.2 806.9,147.9 806.9,149.1 789.7,149.3" fill="#c8286c" stroke="#c8286c" stroke-width="1"/>
<polygon points="806.9,147.9 824.1,147.7 824.1,148.9 806.9,149.1" fill="#c8286e" stroke="#c8286e" stroke-width="1"/>
<polygon points="824.1,147.7 840.7,147.3 840.8,148.5 824.1,148.9" fill="#c82871" stroke="#c82871" stroke-width="1"/>
<polygon points="840.7,147.3 857.3,146.8 857.4,148.1 840.8,148.5" fill="#c72873" stroke="#c72873" stroke-width="1"/>
<polygon points="857.3,146.8 872.4,146.2 872.5,147.4 857.4,148.1" fill="#c62876" stroke="#c62876" stroke-width="1"/>
<polygon points="872.4,146.2 887.4,145.5 887.6,146.8 872.5,147.4" fill="#c5287a" stroke="#c5287a" stroke-width="1"/>
<polygon points="887.4,145.5 900.6,144.7 900.8,146.0 887.6,146.8" fill="#c3287e" stroke="#c3287e" stroke-width="1"/>
<polygon points="900.6,144.7 913.6,144.0 913.9,145.2 900.8,146.0" fill="#c22883" stroke="#c22883" stroke-width="1"/>
<polygon points="913.6,144.0 924.8,143.1 925.2,144.4 913.9,145.2" fill="#c12886" stroke="#c12886" stroke-width="1"/>
<polygon points="924.8,143.1 936.0,142.3 936.3,143.5 925.2,144.4" fill="#bf288a" stroke="#bf288a" stroke-width="1"/>
<polygon points="936.0,142.3 946.0,141.3 946.5,142.6 936.3,143.5" fill="#be288f" stroke="#be288f" stroke-width="1"/>
<polygon points="946.0,141.3 956.0,140.4 956.6,141.6 946.5,142.6" fill="#bc2894" stroke="#bc2894" stroke-width="1"/>
<polygon points="956.0,140.4 965.1,139.4 965.7,140.6 956.6,141.6" fill="#bb2897" stroke="#bb2897" stroke-width="1"/>
<polygon points="965.1,139.4 974.0,138.5 974.7,139.7 965.7,140.6" fill="#bb2896" stroke="#bb2896" stroke-width="1"/>
<polygon points="974.0,138.5 982.3,137.4 983.1,138.6 974.7,139.7" fill="#bd2891" stroke="#bd2891" stroke-width="1"/>
<polygon points="982.3,137.4 990.5,136.4 991.5,137.5 983.1,138.6" fill="#c12886" stroke="#c12886" stroke-width="1"/>
<polygon points="990.5,136.4 997.9,135.3 999.0,136.4 991.5,137.5" fill="#c62875" stroke="#c62875" stroke-width="1"/>
<polygon points="997.9,135.3 1005.3,134.3 1006.5,135.4 999.0,136.4" fill="#cb2956" stroke="#cb2956" stroke-width="1"/>
<polygon points="1005.3,134.3 1012.2,133.2 1013.5,134.2 1006.5,135.4" fill="#d02a30" stroke="#d02a30" stroke-width="1"/>
<polygon points="1012.2,133.2 1019.0,132.1 1020.5,133.1 1013.5,134.2" fill="#d22f2c" stroke="#d22f2c" stroke-width="1"/>
<polygon points="1019.0,132.1 1025.1,130.9 1026.7,131.9 1020.5,133.1" fill="#d5352b" stroke="#d5352b" stroke-width="1"/>
<polygon points="1025.1,130.9 1031.2,129.8 1032.9,130.7 1026.7,131.9" fill="#d73c2b" stroke="#d73c2b" stroke-width="1"/>
<polygon points="1031.2,129.8 1036.7,128.7 1038.6,129.5 1032.9,130.7" fill="#da422b" stroke="#da422b" stroke-width="1"/>
<polygon points="1036.7,128.7 1042.2,127.6 1044.2,128.4 1038.6,129.5" fill="#dc472a" stroke="#dc472a" stroke-width="1"/>
<polygon points="752.7,149.5 771.2,149.4 771.2,150.5 752.7,150.5" fill="#c92867" stroke="#c92867" stroke-width="1"/>
<polygon points="771.2,149.4 789.7,149.3 789.7,150.4 771.2,150.5" fill="#c92868" stroke="#c92868" stroke-width="1"/>
<polygon points="789.7,149.3 806.9,149.1 806.9,150.2 789.7,150.4" fill="#c92869" stroke="#c92869" stroke-width="1"/>
<polygon points="806.9,149.1 824.1,148.9 824.2,150.0 806.9,150.2" fill="#c9286b" stroke="#c9286b" stroke-width="1"/>
<polygon points="824.1,148.9 840.8,148.5 840.8,149.6 824.2,150.0" fill="#c8286d" stroke="#c8286d" stroke-width="1"/>
<polygon points="840.8,148.5 857.4,148.1 857.5,149.2 840.8,149.6" fill="#c82870" stroke="#c82870" stroke-width="1"/>
<polygon points="857.4,148.1 872.5,147.4 872.6,148.6 857.5,149.2" fill="#c72872" stroke="#c72872" stroke-width="1"/>
<polygon points="872.5,147.4 887.6,146.8 887.8,147.9 872.6,148.6" fill="#c62875" stroke="#c62875" stroke-width="1"/>
<polygon points="887.6,146.8 900.8,146.0 901.0,147.1 887.8,147.9" fill="#c52879" stroke="#c52879" stroke-width="1"/>
<polygon points="900.8,146.0 913.9,145.2 914.2,146.4 901.0,147.1" fill="#c4287d" stroke="#c4287d" stroke-width="1"/>
<polygon points="913.9,145.2 925.2,144.4 925.5,145.5 914.2,146.4" fill="#c32880" stroke="#c32880" stroke-width="1"/>
<polygon points="925.2,144.4 936.3,143.5 936.7,144.6 925.5,145.5" fill="#c22883" stroke="#c22883" stroke-width="1"/>
<polygon points="936.3,143.5 946.5,142.6 946.9,143.7 936.7,144.6" fill="#c12886" stroke="#c12886" stroke-width="1"/>
<polygon points="946.5,142.6 956.6,141.6 957.1,142.7 946.9,143.7" fill="#c02889" stroke="#c02889" stroke-width="1"/>
<polygon points="956.6,141.6 965.7,140.6 966.3,141.7 957.1,142.7" fill="#bf288b" stroke="#bf288b" stroke-width="1"/>
<polygon points="965.7,140.6 974.7,139.7 975.4,140.7 966.3,141.7" fill="#c02888" stroke="#c02888" stroke-width="1"/>
<polygon points="974.7,139.7 983.1,138.6 983.9,139.6 975.4,140.7" fill="#c32880" stroke="#c32880" stroke-width="1"/>
<polygon points="983.1,138.6 991.5,137.5 992.4,138.5 983.9,139.6" fill="#c72872" stroke="#c72872" stroke-width="1"/>
<polygon points="991.5,137.5 999.0,136.4 1000.1,137.3 992.4,138.5" fill="#cc2952" stroke="#cc2952" stroke-width="1"/>
<polygon points="999.0,136.4 1006.5,135.4 1007.7,136.2 1000.1,137.3" fill="#d02a2c" stroke="#d02a2c" stroke-width="1"/>
<polygon points="1006.5,135.4 1013.5,134.2 1014.8,135.0 1007.7,136.2" fill="#d3302c" stroke="#d3302c" stroke-width="1"/>
<polygon points="1013.5,134.2 1020.5,133.1 1022.0,133.8 1014.8,135.0" fill="#d6372b" stroke="#d6372b" stroke-width="1"/>
<polygon points="1020.5,133.1 1026.7,131.9 1028.3,132.6 1022.0,133.8" fill="#d83e2b" stroke="#d83e2b" stroke-width="1"/>
<polygon points="1026.7,131.9 1032.9,130.7 1034.7,131.4 1028.3,132.6" fill="#db452b" stroke="#db452b" stroke-width="1"/>
<polygon points="1032.9,130.7 1038.6,129.5 1040.4,130.1 1034.7,131.4" fill="#de4b2a" stroke="#de4b2a" stroke-width="1"/>
<polygon points="1038.6,129.5 1044.2,128.4 1046.2,128.9 1040.4,130.1" fill="#e0502a" stroke="#e0502a" stroke-width="1"/>
<polygon points="752.7,150.5 771.2,150.5 771.2,151.5 752.7,151.6" fill="#c92865" stroke="#c92865" stroke-width="1"/>
<polygon points="771.2,150.5 789.7,150.4 789.7,151.5 771.2,151.5" fill="#c92865" stroke="#c92865" stroke-width="1"/>
<polygon points="789.7,150.4 806.9,150.2 807.0,151.3 789.7,151.5" fill="#c92866" stroke="#c92866" stroke-width="1"/>
<polygon points="806.9,150.2 824.2,150.0 824.2,151.1 807.0,151.3" fill="#c92867" stroke="#c92867" stroke-width="1"/>
<polygon points="824.2,150.0 840.8,149.6 840.9,150.7 824.2,151.1" fill="#c92869" stroke="#c92869" stroke-width="1"/>
<polygon points="840.8,149.6 857.5,149.2 857.6,150.3 840.9,150.7" fill="#c9286b" stroke="#c9286b" stroke-width="1"/>
<polygon points="857.5,149.2 872.6,148.6 872.8,149.7 857.6,150.3" fill="#c8286e" stroke="#c8286e" stroke-width="1"/>
<polygon points="872.6,148.6 887.8,147.9 887.9,149.1 872.8,149.7" fill="#c82871" stroke="#c82871" stroke-width="1"/>
<polygon points="887.8,147.9 901.0,147.1 901.2,148.3 887.9,149.1" fill="#c72874" stroke="#c72874" stroke-width="1"/>
<polygon points="901.0,147.1 914.2,146.4 914.4,147.5 901.2,148.3" fill="#c52878" stroke="#c52878" stroke-width="1"/>
<polygon points="914.2,146.4 925.5,145.5 925.7,146.6 914.4,147.5" fill="#c52879" stroke="#c52879" stroke-width="1"/>
<polygon points="925.5,145.5 936.7,144.6 937.0,145.8 925.7,146.6" fill="#c4287b" stroke="#c4287b" stroke-width="1"/>
<polygon points="936.7,144.6 946.9,143.7 947.3,144.8 937.0,145.8" fill="#c3287e" stroke="#c3287e" stroke-width="1"/>
<polygon points="946.9,143.7 957.1,142.7 957.6,143.8 947.3,144.8" fill="#c3287f" stroke="#c3287f" stroke-width="1"/>
<polygon points="957.1,142.7 966.3,141.7 966.9,142.7 957.6,143.8" fill="#c3287f" stroke="#c3287f" stroke-width="1"/>
<polygon points="966.3,141.7 975.4,140.7 976.2,141.7 966.9,142.7" fill="#c5287a" stroke="#c5287a" stroke-width="1"/>
<polygon points="975.4,140.7 983.9,139.6 984.8,140.5 976.2,141.7" fill="#c8286f" stroke="#c8286f" stroke-width="1"/>
<polygon points="983.9,139.6 992.4,138.5 993.3,139.4 984.8,140.5" fill="#cb2953" stroke="#cb2953" stroke-width="1"/>
<polygon points="992.4,138.5 1000.1,137.3 1001.1,138.2 993.3,139.4" fill="#d02a2d" stroke="#d02a2d" stroke-width="1"/>
<polygon points="1000.1,137.3 1007.7,136.2 1008.9,137.0 1001.1,138.2" fill="#d3302c" stroke="#d3302c" stroke-width="1"/>
<polygon points="1007.7,136.2 1014.8,135.0 1016.2,135.8 1008.9,137.0" fill="#d6372b" stroke="#d6372b" stroke-width="1"/>
<polygon points="1014.8,135.0 1022.0,133.8 1023.4,134.5 1016.2,135.8" fill="#d93f2b" stroke="#d93f2b" stroke-width="1"/>
<polygon points="1022.0,133.8 1028.3,132.6 1029.9,133.3 1023.4,134.5" fill="#dc462b" stroke="#dc462b" stroke-width="1"/>
<polygon points="1028.3,132.6 1034.7,131.4 1036.4,132.0 1029.9,133.3" fill="#df4d2a" stroke="#df4d2a" stroke-width="1"/>
<polygon points="1034.7,131.4 1040.4,130.1 1042.3,130.7 1036.4,132.0" fill="#e1542a" stroke="#e1542a" stroke-width="1"/>
<polygon points="1040.4,130.1 1046.2,128.9 1048.2,129.4 1042.3,130.7" fill="#e35929" stroke="#e35929" stroke-width="1"/>
<polygon points="752.7,151.6 771.2,151.5 771.2,152.5 752.7,152.5" fill="#ca2862" stroke="#ca2862" stroke-width="1"/>
<polygon points="771.2,151.5 789.7,151.5 789.7,152.4 771.2,152.5" fill="#ca2863" stroke="#ca2863" stroke-width="1"/>
<polygon points="789.7,151.5 807.0,151.3 807.0,152.3 789.7,152.4" fill="#c92864" stroke="#c92864" stroke-width="1"/>
<polygon points="807.0,151.3 824.2,151.1 824.2,152.1 807.0,152.3" fill="#c92864" stroke="#c92864" stroke-width="1"/>
<polygon points="824.2,151.1 840.9,150.7 840.9,151.7 824.2,152.1" fill="#c92866" stroke="#c92866" stroke-width="1"/>
<polygon points="840.9,150.7 857.6,150.3 857.7,151.3 840.9,151.7" fill="#c92868" stroke="#c92868" stroke-width="1"/>
<polygon points="857.6,150.3 872.8,149.7 872.9,150.7 857.7,151.3" fill="#c9286a" stroke="#c9286a" stroke-width="1"/>
<polygon points="872.8,149.7 887.9,149.1 888.1,150.1 872.9,150.7" fill="#c8286d" stroke="#c8286d" stroke-width="1"/>
<polygon points="887.9,149.1 901.2,148.3 901.4,149.3 888.1,150.1" fill="#c82870" stroke="#c82870" stroke-width="1"/>
<polygon points="901.2,148.3 914.4,147.5 914.6,148.5 901.4,149.3" fill="#c72873" stroke="#c72873" stroke-width="1"/>
<polygon points="914.4,147.5 925.7,146.6 926.0,147.6 914.6,148.5" fill="#c72874" stroke="#c72874" stroke-width="1"/>
<polygon points="925.7,146.6 937.0,145.8 937.4,146.8 926.0,147.6" fill="#c72874" stroke="#c72874" stroke-width="1"/>
<polygon points="937.0,145.8 947.3,144.8 947.7,145.8 937.4,146.8" fill="#c62875" stroke="#c62875" stroke-width="1"/>
<polygon points="947.3,144.8 957.6,143.8 958.1,144.8 947.7,145.8" fill="#c62876" stroke="#c62876" stroke-width="1"/>
<polygon points="957.6,143.8 966.9,142.7 967.4,143.7 958.1,144.8" fill="#c72873" stroke="#c72873" stroke-width="1"/>
<polygon points="966.9,142.7 976.2,141.7 976.8,142.6 967.4,143.7" fill="#c9286a" stroke="#c9286a" stroke-width="1"/>
<polygon points="976.2,141.7 984.8,140.5 985.5,141.4 976.8,142.6" fill="#cb2955" stroke="#cb2955" stroke-width="1"/>
<polygon points="984.8,140.5 993.3,139.4 994.2,140.3 985.5,141.4" fill="#cf2a34" stroke="#cf2a34" stroke-width="1"/>
<polygon points="993.3,139.4 1001.1,138.2 1002.1,139.0 994.2,140.3" fill="#d22f2c" stroke="#d22f2c" stroke-width="1"/>
<polygon points="1001.1,138.2 1008.9,137.0 1010.0,137.8 1002.1,139.0" fill="#d5362b" stroke="#d5362b" stroke-width="1"/>
<polygon points="1008.9,137.0 1016.2,135.8 1017.4,136.5 1010.0,137.8" fill="#d83e2b" stroke="#d83e2b" stroke-width="1"/>
<polygon points="1016.2,135.8 1023.4,134.5 1024.8,135.2 1017.4,136.5" fill="#dc462b" stroke="#dc462b" stroke-width="1"/>
<polygon points="1023.4,134.5 1029.9,133.3 1031.4,133.9 1024.8,135.2" fill="#df4e2a" stroke="#df4e2a" stroke-width="1"/>
<polygon points="1029.9,133.3 1036.4,132.0 1038.0,132.6 1031.4,133.9" fill="#e25729" stroke="#e25729" stroke-width="1"/>
<polygon points="1036.4,132.0 1042.3,130.7 1044.1,131.3 1038.0,132.6" fill="#e45e28" stroke="#e45e28" stroke-width="1"/>
<polygon points="1042.3,130.7 1048.2,129.4 1050.1,130.0 1044.1,131.3" fill="#e66328" stroke="#e66328" stroke-width="1"/>
<polygon points="752.7,152.5 771.2,152.5 771.2,153.4 752.7,153.4" fill="#ca2861" stroke="#ca2861" stroke-width="1"/>
<polygon points="771.2,152.5 789.7,152.4 789.8,153.4 771.2,153.4" fill="#ca2861" stroke="#ca2861" stroke-width="1"/>
<polygon points="789.7,152.4 807.0,152.3 807.0,153.2 789.8,153.4" fill="#ca2861" stroke="#ca2861" stroke-width="1"/>
<polygon points="807.0,152.3 824.2,152.1 824.2,153.1 807.0,153.2" fill="#ca2862" stroke="#ca2862" stroke-width="1"/>
<polygon points="824.2,152.1 840.9,151.7 841.0,152.7 824.2,153.1" fill="#ca2863" stroke="#ca2863" stroke-width="1"/>
<polygon points="840.9,151.7 857.7,151.3 857.8,152.3 841.0,152.7" fill="#c92864" stroke="#c92864" stroke-width="1"/>
<polygon points="857.7,151.3 872.9,150.7 873.0,151.7 857.8,152.3" fill="#c92866" stroke="#c92866" stroke-width="1"/>
<polygon points="872.9,150.7 888.1,150.1 888.2,151.1 873.0,151.7" fill="#c92868" stroke="#c92868" stroke-width="1"/>
<polygon points="888.1,150.1 901.4,149.3 901.6,150.3 888.2,151.1" fill="#c9286a" stroke="#c9286a" stroke-width="1"/>
<polygon points="901.4,149.3 914.6,148.5 914.9,149.6 901.6,150.3" fill="#c8286d" stroke="#c8286d" stroke-width="1"/>
<polygon points="914.6,148.5 926.0,147.6 926.3,148.7 914.9,149.6" fill="#c8286d" stroke="#c8286d" stroke-width="1"/>
<polygon points="926.0,147.6 937.4,146.8 937.7,147.8 926.3,148.7" fill="#c8286c" stroke="#c8286c" stroke-width="1"/>
<polygon points="937.4,146.8 947.7,145.8 948.1,146.8 937.7,147.8" fill="#c9286c" stroke="#c9286c" stroke-width="1"/>
<polygon points="947.7,145.8 958.1,144.8 958.5,145.8 948.1,146.8" fill="#c92869" stroke="#c92869" stroke-width="1"/>
<polygon points="958.1,144.8 967.4,143.7 968.0,144.6 958.5,145.8" fill="#ca2863" stroke="#ca2863" stroke-width="1"/>
<polygon points="967.4,143.7 976.8,142.6 977.5,143.5 968.0,144.6" fill="#cb2954" stroke="#cb2954" stroke-width="1"/>
<polygon points="976.8,142.6 985.5,141.4 986.3,142.3 977.5,143.5" fill="#ce2a3a" stroke="#ce2a3a" stroke-width="1"/>
<polygon points="985.5,141.4 994.2,140.3 995.1,141.1 986.3,142.3" fill="#d12d2c" stroke="#d12d2c" stroke-width="1"/>
<polygon points="994.2,140.3 1002.1,139.0 1003.1,139.8 995.1,141.1" fill="#d4342b" stroke="#d4342b" stroke-width="1"/>
<polygon points="1002.1,139.0 1010.0,137.8 1011.1,138.6 1003.1,139.8" fill="#d83c2b" stroke="#d83c2b" stroke-width="1"/>
<polygon points="1010.0,137.8 1017.4,136.5 1018.6,137.2 1011.1,138.6" fill="#db452b" stroke="#db452b" stroke-width="1"/>
<polygon points="1017.4,136.5 1024.8,135.2 1026.1,135.9 1018.6,137.2" fill="#df4e2a" stroke="#df4e2a" stroke-width="1"/>
<polygon points="1024.8,135.2 1031.4,133.9 1032.9,134.5 1026.1,135.9" fill="#e35829" stroke="#e35829" stroke-width="1"/>
<polygon points="1031.4,133.9 1038.0,132.6 1039.7,133.2 1032.9,134.5" fill="#e56128" stroke="#e56128" stroke-width="1"/>
<polygon points="1038.0,132.6 1044.1,131.3 1045.8,131.8 1039.7,133.2" fill="#e76827" stroke="#e76827" stroke-width="1"/>
<polygon points="1044.1,131.3 1050.1,130.0 1052.0,130.5 1045.8,131.8" fill="#e96c27" stroke="#e96c27" stroke-width="1"/>
<polygon points="752.7,153.4 771.2,153.4 771.2,154.2 752.7,154.3" fill="#ca285f" stroke="#ca285f" stroke-width="1"/>
<polygon points="771.2,153.4 789.8,153.4 789.8,154.2 771.2,154.2" fill="#ca285f" stroke="#ca285f" stroke-width="1"/>
<polygon points="789.8,153.4 807.0,153.2 807.0,154.1 789.8,154.2" fill="#ca2860" stroke="#ca2860" stroke-width="1"/>
<polygon points="807.0,153.2 824.2,153.1 824.3,153.9 807.0,154.1" fill="#ca2860" stroke="#ca2860" stroke-width="1"/>
<polygon points="824.2,153.1 841.0,152.7 841.1,153.6 824.3,153.9" fill="#ca2860" stroke="#ca2860" stroke-width="1"/>
<polygon points="841.0,152.7 857.8,152.3 857.8,153.2 841.1,153.6" fill="#ca2861" stroke="#ca2861" stroke-width="1"/>
<polygon points="857.8,152.3 873.0,151.7 873.1,152.6 857.8,153.2" fill="#ca2862" stroke="#ca2862" stroke-width="1"/>
<polygon points="873.0,151.7 888.2,151.1 888.4,152.0 873.1,152.6" fill="#ca2863" stroke="#ca2863" stroke-width="1"/>
<polygon points="888.2,151.1 901.6,150.3 901.7,151.3 888.4,152.0" fill="#c92865" stroke="#c92865" stroke-width="1"/>
<polygon points="901.6,150.3 914.9,149.6 915.1,150.5 901.7,151.3" fill="#c92867" stroke="#c92867" stroke-width="1"/>
<polygon points="914.9,149.6 926.3,148.7 926.5,149.6 915.1,150.5" fill="#c92865" stroke="#c92865" stroke-width="1"/>
<polygon points="926.3,148.7 937.7,147.8 938.0,148.7 926.5,149.6" fill="#ca2862" stroke="#ca2862" stroke-width="1"/>
<polygon points="937.7,147.8 948.1,146.8 948.5,147.7 938.0,148.7" fill="#ca295f" stroke="#ca295f" stroke-width="1"/>
<polygon points="948.1,146.8 958.5,145.8 959.0,146.7 948.5,147.7" fill="#cb295a" stroke="#cb295a" stroke-width="1"/>
<polygon points="958.5,145.8 968.0,144.6 968.5,145.5 959.0,146.7" fill="#cc2950" stroke="#cc2950" stroke-width="1"/>
<polygon points="968.0,144.6 977.5,143.5 978.1,144.4 968.5,145.5" fill="#ce293d" stroke="#ce293d" stroke-width="1"/>
<polygon points="977.5,143.5 986.3,142.3 987.0,143.1 978.1,144.4" fill="#d12c2c" stroke="#d12c2c" stroke-width="1"/>
<polygon points="986.3,142.3 995.1,141.1 995.9,141.9 987.0,143.1" fill="#d3322c" stroke="#d3322c" stroke-width="1"/>
<polygon points="995.1,141.1 1003.1,139.8 1004.0,140.6 995.9,141.9" fill="#d7392b" stroke="#d7392b" stroke-width="1"/>
<polygon points="1003.1,139.8 1011.1,138.6 1012.2,139.3 1004.0,140.6" fill="#da422b" stroke="#da422b" stroke-width="1"/>
<polygon points="1011.1,138.6 1018.6,137.2 1019.8,137.9 1012.2,139.3" fill="#de4c2a" stroke="#de4c2a" stroke-width="1"/>
<polygon points="1018.6,137.2 1026.1,135.9 1027.4,136.5 1019.8,137.9" fill="#e25729" stroke="#e25729" stroke-width="1"/>
<polygon points="1026.1,135.9 1032.9,134.5 1034.3,135.1 1027.4,136.5" fill="#e66328" stroke="#e66328" stroke-width="1"/>
<polygon points="1032.9,134.5 1039.7,133.2 1041.2,133.7 1034.3,135.1" fill="#e96c27" stroke="#e96c27" stroke-width="1"/>
<polygon points="1039.7,133.2 1045.8,131.8 1047.5,132.3 1041.2,133.7" fill="#eb7326" stroke="#eb7326" stroke-width="1"/>
<polygon points="1045.8,131.8 1052.0,130.5 1053.7,130.9 1047.5,132.3" fill="#ec7625" stroke="#ec7625" stroke-width="1"/>
<polygon points="752.7,154.3 771.2,154.2 771.2,155.1 752.7,155.1" fill="#ca295e" stroke="#ca295e" stroke-width="1"/>
<polygon points="771.2,154.2 789.8,154.2 789.8,155.1 771.2,155.1" fill="#ca295e" stroke="#ca295e" stroke-width="1"/>
<polygon points="789.8,154.2 807.0,154.1 807.1,154.9 789.8,155.1" fill="#ca295e" stroke="#ca295e" stroke-width="1"/>
<polygon points="807.0,154.1 824.3,153.9 824.3,154.8 807.1,154.9" fill="#ca295e" stroke="#ca295e" stroke-width="1"/>
<polygon points="824.3,153.9 841.1,153.6 841.1,154.4 824.3,154.8" fill="#ca295e" stroke="#ca295e" stroke-width="1"/>
<polygon points="841.1,153.6 857.8,153.2 857.9,154.1 841.1,154.4" fill="#ca295f" stroke="#ca295f" stroke-width="1"/>
<polygon points="857.8,153.2 873.1,152.6 873.2,153.5 857.9,154.1" fill="#ca295f" stroke="#ca295f" stroke-width="1"/>
<polygon points="873.1,152.6 888.4,152.0 888.5,153.0 873.2,153.5" fill="#ca285f" stroke="#ca285f" stroke-width="1"/>
<polygon points="888.4,152.0 901.7,151.3 901.9,152.2 888.5,153.0" fill="#ca2860" stroke="#ca2860" stroke-width="1"/>
<polygon points="901.7,151.3 915.1,150.5 915.3,151.4 901.9,152.2" fill="#ca2861" stroke="#ca2861" stroke-width="1"/>
<polygon points="915.1,150.5 926.5,149.6 926.8,150.5 915.3,151.4" fill="#ca295d" stroke="#ca295d" stroke-width="1"/>
<polygon points="926.5,149.6 938.0,148.7 938.3,149.6 926.8,150.5" fill="#cb2958" stroke="#cb2958" stroke-width="1"/>
<polygon points="938.0,148.7 948.5,147.7 948.9,148.6 938.3,149.6" fill="#cc2952" stroke="#cc2952" stroke-width="1"/>
<polygon points="948.5,147.7 959.0,146.7 959.4,147.6 948.9,148.6" fill="#cd2949" stroke="#cd2949" stroke-width="1"/>
<polygon points="959.0,146.7 968.5,145.5 969.1,146.4 959.4,147.6" fill="#ce2a3b" stroke="#ce2a3b" stroke-width="1"/>
<polygon points="968.5,145.5 978.1,144.4 978.7,145.2 969.1,146.4" fill="#d02b2c" stroke="#d02b2c" stroke-width="1"/>
<polygon points="978.1,144.4 987.0,143.1 987.7,144.0 978.7,145.2" fill="#d3302c" stroke="#d3302c" stroke-width="1"/>
<polygon points="987.0,143.1 995.9,141.9 996.7,142.7 987.7,144.0" fill="#d5372b" stroke="#d5372b" stroke-width="1"/>
<polygon points="995.9,141.9 1004.0,140.6 1005.0,141.4 996.7,142.7" fill="#d9402b" stroke="#d9402b" stroke-width="1"/>
<polygon points="1004.0,140.6 1012.2,139.3 1013.2,140.0 1005.0,141.4" fill="#dd4a2a" stroke="#dd4a2a" stroke-width="1"/>
<polygon points="1012.2,139.3 1019.8,137.9 1021.0,138.6 1013.2,140.0" fill="#e25629" stroke="#e25629" stroke-width="1"/>
<polygon points="1019.8,137.9 1027.4,136.5 1028.7,137.2 1021.0,138.6" fill="#e66328" stroke="#e66328" stroke-width="1"/>
<polygon points="1027.4,136.5 1034.3,135.1 1035.7,135.7 1028.7,137.2" fill="#ea7026" stroke="#ea7026" stroke-width="1"/>
<polygon points="1034.3,135.1 1041.2,133.7 1042.7,134.3 1035.7,135.7" fill="#ed7925" stroke="#ed7925" stroke-width="1"/>
<polygon points="1041.2,133.7 1047.5,132.3 1049.1,132.8 1042.7,134.3" fill="#ef8024" stroke="#ef8024" stroke-width="1"/>
<polygon points="1047.5,132.3 1053.7,130.9 1055.5,131.4 1049.1,132.8" fill="#ef8224" stroke="#ef8224" stroke-width="1"/>
</g>
<path d="M91.3 90.8 L127.1 90.2 L161.0 89.6 L191.7 88.8 L219.5 87.7 L244.0 85.9 L265.4 83.6 L283.2 81.0 L297.8 78.2 L311.0 75.0 L321.5 72.0 L330.5 69.1 L336.8 66.8 L341.6 64.9 M91.3 99.4 L127.3 98.9 L161.2 98.2 L192.3 97.3 L220.4 96.0 L245.0 94.1 L266.4 91.8 L284.3 89.2 L299.1 86.4 L312.4 83.4 L323.2 80.5 L332.5 77.7 L339.3 75.4 L344.6 73.5 M91.3 107.1 L127.4 106.6 L161.5 105.9 L192.8 104.9 L221.2 103.4 L245.9 101.5 L267.3 99.2 L285.3 96.7 L300.3 94.0 L313.8 91.1 L324.8 88.4 L334.4 85.7 L341.6 83.5 L347.5 81.6 M91.3 113.9 L127.6 113.4 L161.7 112.7 L193.3 111.7 L221.9 110.2 L246.8 108.2 L268.1 106.0 L286.2 103.5 L301.4 101.0 L315.1 98.3 L326.4 95.7 L336.2 93.1 L343.9 91.0 L350.2 89.1 M91.3 119.9 L127.7 119.5 L161.8 118.8 L193.7 117.7 L222.5 116.2 L247.5 114.3 L268.9 112.1 L287.1 109.7 L302.5 107.3 L316.4 104.8 L327.9 102.4 L338.1 100.0 L346.2 97.9 L353.1 96.0 M91.3 125.3 L127.8 124.9 L162.0 124.2 L194.1 123.1 L223.1 121.6 L248.3 119.7 L269.7 117.6 L288.1 115.4 L303.7 113.1 L317.8 110.7 L329.7 108.5 L340.2 106.2 L348.8 104.2 L356.2 102.3 M91.3 130.1 L127.9 129.8 L162.1 129.1 L194.5 128.0 L223.6 126.5 L248.9 124.6 L270.4 122.6 L288.9 120.5 L304.9 118.4 L319.2 116.2 L331.4 114.1 L342.3 111.9 L351.4 109.9 L359.3 108.1 M91.3 134.3 L128.0 134.0 L162.3 133.4 L194.8 132.3 L224.2 130.8 L249.6 129.0 L271.2 127.1 L290.0 125.1 L306.3 123.0 L321.0 120.9 L333.7 118.8 L345.1 116.7 L354.7 114.7 L363.2 112.8 M91.3 138.1 L128.1 137.9 L162.4 137.3 L195.1 136.2 L224.6 134.8 L250.3 133.0 L272.0 131.2 L291.0 129.2 L307.7 127.3 L322.7 125.2 L335.8 123.2 L347.7 121.2 L357.9 119.2 L366.9 117.2 M91.3 141.5 L128.1 141.2 L162.5 140.7 L195.3 139.7 L225.1 138.3 L250.9 136.6 L272.8 134.8 L292.1 132.9 L309.1 131.0 L324.5 129.0 L338.1 127.0 L350.5 124.9 L361.3 122.9 L370.9 120.9 M91.3 144.5 L128.2 144.3 L162.6 143.8 L195.6 142.8 L225.5 141.4 L251.4 139.8 L273.5 138.0 L293.2 136.2 L310.6 134.2 L326.4 132.2 L340.5 130.2 L353.4 128.1 L364.8 126.0 L374.9 123.9 M91.3 147.1 L128.2 147.0 L162.6 146.5 L195.8 145.6 L225.9 144.3 L252.0 142.7 L274.2 141.0 L294.1 139.2 L311.9 137.3 L328.2 135.3 L342.7 133.2 L356.2 131.1 L368.0 128.9 L378.7 126.7 M91.3 149.5 L128.3 149.3 L162.7 148.9 L196.0 148.1 L226.2 146.8 L252.5 145.2 L274.9 143.5 L295.2 141.6 L313.3 139.7 L330.1 137.5 L345.1 135.4 L359.1 133.1 L371.5 130.7 L382.8 128.4 M91.3 151.6 L128.3 151.5 L162.8 151.1 L196.2 150.3 L226.5 149.1 L253.0 147.5 L275.6 145.8 L296.2 143.8 L314.8 141.7 L331.9 139.4 L347.5 137.0 L362.0 134.5 L375.0 132.0 L386.8 129.4 M91.3 153.4 L128.4 153.4 L162.8 153.1 L196.4 152.3 L226.8 151.1 L253.5 149.6 L276.3 147.8 L297.1 145.8 L316.1 143.5 L333.7 141.1 L349.7 138.6 L364.7 135.9 L378.3 133.2 L390.6 130.5 M91.3 155.1 L128.4 155.1 L162.9 154.8 L196.5 154.1 L227.1 153.0 L253.9 151.4 L276.9 149.6 L298.0 147.6 L317.3 145.2 L335.3 142.7 L351.8 140.0 L367.3 137.2 L381.3 134.3 L394.1 131.4 M91.3 90.8 L91.3 99.4 L91.3 107.1 L91.3 113.9 L91.3 119.9 L91.3 125.3 L91.3 130.1 L91.3 134.3 L91.3 138.1 L91.3 141.5 L91.3 144.5 L91.3 147.1 L91.3 149.5 L91.3 151.6 L91.3 153.4 L91.3 155.1 M127.1 90.2 L127.3 98.9 L127.4 106.6 L127.6 113.4 L127.7 119.5 L127.8 124.9 L127.9 129.8 L128.0 134.0 L128.1 137.9 L128.1 141.2 L128.2 144.3 L128.2 147.0 L128.3 149.3 L128.3 151.5 L128.4 153.4 L128.4 155.1 M161.0 89.6 L161.2 98.2 L161.5 105.9 L161.7 112.7 L161.8 118.8 L162.0 124.2 L162.1 129.1 L162.3 133.4 L162.4 137.3 L162.5 140.7 L162.6 143.8 L162.6 146.5 L162.7 148.9 L162.8 151.1 L162.8 153.1 L162.9 154.8 M191.7 88.8 L192.3 97.3 L192.8 104.9 L193.3 111.7 L193.7 117.7 L194.1 123.1 L194.5 128.0 L194.8 132.3 L195.1 136.2 L195.3 139.7 L195.6 142.8 L195.8 145.6 L196.0 148.1 L196.2 150.3 L196.4 152.3 L196.5 154.1 M219.5 87.7 L220.4 96.0 L221.2 103.4 L221.9 110.2 L222.5 116.2 L223.1 121.6 L223.6 126.5 L224.2 130.8 L224.6 134.8 L225.1 138.3 L225.5 141.4 L225.9 144.3 L226.2 146.8 L226.5 149.1 L226.8 151.1 L227.1 153.0 M244.0 85.9 L245.0 94.1 L245.9 101.5 L246.8 108.2 L247.5 114.3 L248.3 119.7 L248.9 124.6 L249.6 129.0 L250.3 133.0 L250.9 136.6 L251.4 139.8 L252.0 142.7 L252.5 145.2 L253.0 147.5 L253.5 149.6 L253.9 151.4 M265.4 83.6 L266.4 91.8 L267.3 99.2 L268.1 106.0 L268.9 112.1 L269.7 117.6 L270.4 122.6 L271.2 127.1 L272.0 131.2 L272.8 134.8 L273.5 138.0 L274.2 141.0 L274.9 143.5 L275.6 145.8 L276.3 147.8 L276.9 149.6 M283.2 81.0 L284.3 89.2 L285.3 96.7 L286.2 103.5 L287.1 109.7 L288.1 115.4 L288.9 120.5 L290.0 125.1 L291.0 129.2 L292.1 132.9 L293.2 136.2 L294.1 139.2 L295.2 141.6 L296.2 143.8 L297.1 145.8 L298.0 147.6 M297.8 78.2 L299.1 86.4 L300.3 94.0 L301.4 101.0 L302.5 107.3 L303.7 113.1 L304.9 118.4 L306.3 123.0 L307.7 127.3 L309.1 131.0 L310.6 134.2 L311.9 137.3 L313.3 139.7 L314.8 141.7 L316.1 143.5 L317.3 145.2 M311.0 75.0 L312.4 83.4 L313.8 91.1 L315.1 98.3 L316.4 104.8 L317.8 110.7 L319.2 116.2 L321.0 120.9 L322.7 125.2 L324.5 129.0 L326.4 132.2 L328.2 135.3 L330.1 137.5 L331.9 139.4 L333.7 141.1 L335.3 142.7 M321.5 72.0 L323.2 80.5 L324.8 88.4 L326.4 95.7 L327.9 102.4 L329.7 108.5 L331.4 114.1 L333.7 118.8 L335.8 123.2 L338.1 127.0 L340.5 130.2 L342.7 133.2 L345.1 135.4 L347.5 137.0 L349.7 138.6 L351.8 140.0 M330.5 69.1 L332.5 77.7 L334.4 85.7 L336.2 93.1 L338.1 100.0 L340.2 106.2 L342.3 111.9 L345.1 116.7 L347.7 121.2 L350.5 124.9 L353.4 128.1 L356.2 131.1 L359.1 133.1 L362.0 134.5 L364.7 135.9 L367.3 137.2 M336.8 66.8 L339.3 75.4 L341.6 83.5 L343.9 91.0 L346.2 97.9 L348.8 104.2 L351.4 109.9 L354.7 114.7 L357.9 119.2 L361.3 122.9 L364.8 126.0 L368.0 128.9 L371.5 130.7 L375.0 132.0 L378.3 133.2 L381.3 134.3 M341.6 64.9 L344.6 73.5 L347.5 81.6 L350.2 89.1 L353.1 96.0 L356.2 102.3 L359.3 108.1 L363.2 112.8 L366.9 117.2 L370.9 120.9 L374.9 123.9 L378.7 126.7 L382.8 128.4 L386.8 129.4 L390.6 130.5 L394.1 131.4" fill="none" stroke="#1f9a5b" stroke-width="2.30" stroke-linejoin="round"/>
<path d="M752.7 155.1 L791.2 155.1 L827.5 154.7 L861.0 154.0 L891.2 152.8 L919.9 151.1 L945.1 149.0 L967.8 146.6 L988.4 143.9 L1006.3 141.2 L1022.0 138.4 L1033.3 136.2 L1043.4 134.1 L1050.0 132.7 L1053.1 132.0 L1055.5 131.4 M752.7 158.0 L791.2 158.0 L827.5 157.7 L861.0 157.0 L891.2 156.0 L920.0 154.5 L945.3 152.7 L968.1 150.6 L988.9 148.2 L1007.0 145.8 L1022.9 143.4 L1034.5 141.5 L1044.8 139.7 L1051.7 138.4 L1054.9 137.8 L1057.4 137.3 M752.7 160.8 L791.2 160.8 L827.5 160.5 L861.0 160.0 L891.2 159.1 L920.0 157.8 L945.4 156.3 L968.3 154.5 L989.2 152.5 L1007.5 150.5 L1023.7 148.5 L1035.5 146.9 L1046.0 145.3 L1053.1 144.2 L1056.4 143.7 L1058.9 143.3 M752.7 167.0 L791.2 167.0 L827.5 166.8 L861.0 166.3 L891.3 165.6 L920.1 164.5 L945.5 163.1 L968.5 161.6 L989.6 159.9 L1008.1 158.2 L1024.5 156.5 L1036.5 155.1 L1047.3 153.7 L1054.5 152.8 L1057.9 152.4 L1060.5 152.0 M752.7 175.8 L791.1 175.8 L827.5 175.6 L861.1 175.2 L891.3 174.5 L920.2 173.6 L945.6 172.4 L968.7 171.0 L989.9 169.5 L1008.6 168.0 L1025.2 166.4 L1037.5 165.2 L1048.5 164.0 L1055.9 163.2 L1059.3 162.8 L1062.0 162.5 M752.7 188.3 L791.1 188.3 L827.5 188.1 L861.1 187.7 L891.3 187.1 L920.2 186.1 L945.7 184.9 L968.9 183.6 L990.2 182.1 L1009.0 180.6 L1025.7 179.1 L1038.1 177.9 L1049.2 176.7 L1056.7 175.9 L1060.2 175.5 L1062.9 175.2 M752.7 204.6 L791.0 204.6 L827.5 204.4 L861.1 204.0 L891.4 203.3 L920.3 202.3 L945.8 201.1 L969.0 199.7 L990.3 198.2 L1009.2 196.6 L1025.9 195.0 L1038.3 193.8 L1049.5 192.6 L1057.0 191.7 L1060.6 191.3 L1063.3 191.0 M752.7 222.8 L791.0 222.8 L827.5 222.6 L861.2 222.3 L891.4 221.8 L920.3 220.9 L945.8 220.0 L969.0 218.9 L990.3 217.6 L1009.1 216.3 L1025.8 215.1 L1038.2 214.0 L1049.3 213.1 L1056.8 212.4 L1060.3 212.1 L1063.0 211.8 M752.7 243.2 L790.9 243.2 L827.6 243.1 L861.2 242.8 L891.4 242.4 L920.4 241.8 L945.9 241.0 L969.0 240.2 L990.2 239.2 L1009.0 238.3 L1025.6 237.3 L1037.9 236.5 L1048.9 235.8 L1056.4 235.2 L1059.8 235.0 L1062.5 234.8 M752.7 265.8 L790.8 265.8 L827.6 265.7 L861.3 265.5 L891.4 265.2 L920.4 264.7 L945.9 264.1 L969.0 263.4 L990.2 262.6 L1008.9 261.9 L1025.4 261.1 L1037.6 260.5 L1048.5 259.9 L1055.9 259.5 L1059.3 259.3 L1062.0 259.1 M752.7 290.8 L790.8 290.8 L827.6 290.7 L861.3 290.6 L891.5 290.4 L920.5 290.2 L945.9 289.8 L969.0 289.4 L990.1 289.0 L1008.7 288.6 L1025.2 288.1 L1037.2 287.8 L1048.1 287.4 L1055.4 287.2 L1058.8 287.1 L1061.4 287.0 M752.7 318.0 L790.7 318.0 L827.6 318.0 L861.4 317.9 L891.5 317.7 L920.6 317.5 L946.0 317.2 L969.0 316.9 L990.1 316.5 L1008.6 316.1 L1024.9 315.7 L1036.9 315.5 L1047.7 315.2 L1054.9 315.0 L1058.2 314.9 L1060.8 314.8 M752.7 349.5 L790.6 349.5 L827.6 349.5 L861.5 349.4 L891.6 349.3 L920.6 349.1 L946.0 348.9 L969.0 348.6 L990.0 348.3 L1008.4 348.0 L1024.6 347.7 L1036.4 347.5 L1047.0 347.3 L1054.1 347.1 L1057.4 347.1 L1060.0 347.0 M752.7 382.0 L790.4 382.0 L827.7 382.0 L861.5 381.9 L891.6 381.9 L920.7 381.7 L946.0 381.6 L968.9 381.5 L989.8 381.3 L1008.1 381.1 L1024.2 380.9 L1035.9 380.8 L1046.3 380.7 L1053.3 380.6 L1056.5 380.5 L1059.0 380.5 M752.7 419.5 L790.3 419.5 L827.7 419.5 L861.6 419.4 L891.6 419.4 L920.8 419.2 L946.1 419.1 L968.9 419.0 L989.7 418.8 L1007.9 418.6 L1023.7 418.4 L1035.3 418.3 L1045.6 418.2 L1052.4 418.1 L1055.6 418.0 L1058.0 418.0 M752.7 457.5 L790.2 457.5 L827.7 457.5 L861.7 457.5 L891.7 457.5 L920.9 457.5 L946.1 457.5 L968.9 457.5 L989.6 457.5 L1007.6 457.5 L1023.3 457.5 L1034.7 457.5 L1044.8 457.5 L1051.5 457.5 L1054.6 457.5 L1057.0 457.5 M752.7 155.1 L752.7 158.0 L752.7 160.8 L752.7 167.0 L752.7 175.8 L752.7 188.3 L752.7 204.6 L752.7 222.8 L752.7 243.2 L752.7 265.8 L752.7 290.8 L752.7 318.0 L752.7 349.5 L752.7 382.0 L752.7 419.5 L752.7 457.5 M791.2 155.1 L791.2 158.0 L791.2 160.8 L791.2 167.0 L791.1 175.8 L791.1 188.3 L791.0 204.6 L791.0 222.8 L790.9 243.2 L790.8 265.8 L790.8 290.8 L790.7 318.0 L790.6 349.5 L790.4 382.0 L790.3 419.5 L790.2 457.5 M827.5 154.7 L827.5 157.7 L827.5 160.5 L827.5 166.8 L827.5 175.6 L827.5 188.1 L827.5 204.4 L827.5 222.6 L827.6 243.1 L827.6 265.7 L827.6 290.7 L827.6 318.0 L827.6 349.5 L827.7 382.0 L827.7 419.5 L827.7 457.5 M861.0 154.0 L861.0 157.0 L861.0 160.0 L861.0 166.3 L861.1 175.2 L861.1 187.7 L861.1 204.0 L861.2 222.3 L861.2 242.8 L861.3 265.5 L861.3 290.6 L861.4 317.9 L861.5 349.4 L861.5 381.9 L861.6 419.4 L861.7 457.5 M891.2 152.8 L891.2 156.0 L891.2 159.1 L891.3 165.6 L891.3 174.5 L891.3 187.1 L891.4 203.3 L891.4 221.8 L891.4 242.4 L891.4 265.2 L891.5 290.4 L891.5 317.7 L891.6 349.3 L891.6 381.9 L891.6 419.4 L891.7 457.5 M919.9 151.1 L920.0 154.5 L920.0 157.8 L920.1 164.5 L920.2 173.6 L920.2 186.1 L920.3 202.3 L920.3 220.9 L920.4 241.8 L920.4 264.7 L920.5 290.2 L920.6 317.5 L920.6 349.1 L920.7 381.7 L920.8 419.2 L920.9 457.5 M945.1 149.0 L945.3 152.7 L945.4 156.3 L945.5 163.1 L945.6 172.4 L945.7 184.9 L945.8 201.1 L945.8 220.0 L945.9 241.0 L945.9 264.1 L945.9 289.8 L946.0 317.2 L946.0 348.9 L946.0 381.6 L946.1 419.1 L946.1 457.5 M967.8 146.6 L968.1 150.6 L968.3 154.5 L968.5 161.6 L968.7 171.0 L968.9 183.6 L969.0 199.7 L969.0 218.9 L969.0 240.2 L969.0 263.4 L969.0 289.4 L969.0 316.9 L969.0 348.6 L968.9 381.5 L968.9 419.0 L968.9 457.5 M988.4 143.9 L988.9 148.2 L989.2 152.5 L989.6 159.9 L989.9 169.5 L990.2 182.1 L990.3 198.2 L990.3 217.6 L990.2 239.2 L990.2 262.6 L990.1 289.0 L990.1 316.5 L990.0 348.3 L989.8 381.3 L989.7 418.8 L989.6 457.5 M1006.3 141.2 L1007.0 145.8 L1007.5 150.5 L1008.1 158.2 L1008.6 168.0 L1009.0 180.6 L1009.2 196.6 L1009.1 216.3 L1009.0 238.3 L1008.9 261.9 L1008.7 288.6 L1008.6 316.1 L1008.4 348.0 L1008.1 381.1 L1007.9 418.6 L1007.6 457.5 M1022.0 138.4 L1022.9 143.4 L1023.7 148.5 L1024.5 156.5 L1025.2 166.4 L1025.7 179.1 L1025.9 195.0 L1025.8 215.1 L1025.6 237.3 L1025.4 261.1 L1025.2 288.1 L1024.9 315.7 L1024.6 347.7 L1024.2 380.9 L1023.7 418.4 L1023.3 457.5 M1033.3 136.2 L1034.5 141.5 L1035.5 146.9 L1036.5 155.1 L1037.5 165.2 L1038.1 177.9 L1038.3 193.8 L1038.2 214.0 L1037.9 236.5 L1037.6 260.5 L1037.2 287.8 L1036.9 315.5 L1036.4 347.5 L1035.9 380.8 L1035.3 418.3 L1034.7 457.5 M1043.4 134.1 L1044.8 139.7 L1046.0 145.3 L1047.3 153.7 L1048.5 164.0 L1049.2 176.7 L1049.5 192.6 L1049.3 213.1 L1048.9 235.8 L1048.5 259.9 L1048.1 287.4 L1047.7 315.2 L1047.0 347.3 L1046.3 380.7 L1045.6 418.2 L1044.8 457.5 M1050.0 132.7 L1051.7 138.4 L1053.1 144.2 L1054.5 152.8 L1055.9 163.2 L1056.7 175.9 L1057.0 191.7 L1056.8 212.4 L1056.4 235.2 L1055.9 259.5 L1055.4 287.2 L1054.9 315.0 L1054.1 347.1 L1053.3 380.6 L1052.4 418.1 L1051.5 457.5 M1053.1 132.0 L1054.9 137.8 L1056.4 143.7 L1057.9 152.4 L1059.3 162.8 L1060.2 175.5 L1060.6 191.3 L1060.3 212.1 L1059.8 235.0 L1059.3 259.3 L1058.8 287.1 L1058.2 314.9 L1057.4 347.1 L1056.5 380.5 L1055.6 418.0 L1054.6 457.5 M1055.5 131.4 L1057.4 137.3 L1058.9 143.3 L1060.5 152.0 L1062.0 162.5 L1062.9 175.2 L1063.3 191.0 L1063.0 211.8 L1062.5 234.8 L1062.0 259.1 L1061.4 287.0 L1060.8 314.8 L1060.0 347.0 L1059.0 380.5 L1058.0 418.0 L1057.0 457.5" fill="none" stroke="#1f9a5b" stroke-width="2.00" stroke-linejoin="round"/>
<path d="M92.3 155.4 H318.9 V447 M103.3 229.8 H318.9" fill="none" stroke="#c9bccf" stroke-width="1.8"/>
<rect x="91.3" y="47.7" width="409.6" height="409.6" fill="none" stroke="#3a3a3a" stroke-width="2"/>
<path d="M136.8 457.3 v-8.5 M136.8 47.7 v8.5 M91.3 411.8 h8.5 M500.9 411.8 h-8.5 M182.3 457.3 v-8.5 M182.3 47.7 v8.5 M91.3 366.3 h8.5 M500.9 366.3 h-8.5 M227.8 457.3 v-8.5 M227.8 47.7 v8.5 M91.3 320.8 h8.5 M500.9 320.8 h-8.5 M273.3 457.3 v-8.5 M273.3 47.7 v8.5 M91.3 275.3 h8.5 M500.9 275.3 h-8.5 M318.9 457.3 v-8.5 M318.9 47.7 v8.5 M91.3 229.8 h8.5 M500.9 229.8 h-8.5 M364.4 457.3 v-8.5 M364.4 47.7 v8.5 M91.3 184.2 h8.5 M500.9 184.2 h-8.5 M409.9 457.3 v-8.5 M409.9 47.7 v8.5 M91.3 138.7 h8.5 M500.9 138.7 h-8.5 M455.4 457.3 v-8.5 M455.4 47.7 v8.5 M91.3 93.2 h8.5 M500.9 93.2 h-8.5" stroke="#2a2a2a" stroke-width="1.8" fill="none"/>
<rect x="752.7" y="47.7" width="409.6" height="409.6" fill="none" stroke="#3a3a3a" stroke-width="2"/>
<path d="M798.2 457.3 v-8.5 M798.2 47.7 v8.5 M752.7 411.8 h8.5 M1162.3 411.8 h-8.5 M843.7 457.3 v-8.5 M843.7 47.7 v8.5 M752.7 366.3 h8.5 M1162.3 366.3 h-8.5 M889.2 457.3 v-8.5 M889.2 47.7 v8.5 M752.7 320.8 h8.5 M1162.3 320.8 h-8.5 M934.7 457.3 v-8.5 M934.7 47.7 v8.5 M752.7 275.3 h8.5 M1162.3 275.3 h-8.5 M980.2 457.3 v-8.5 M980.2 47.7 v8.5 M752.7 229.8 h8.5 M1162.3 229.8 h-8.5 M1025.8 457.3 v-8.5 M1025.8 47.7 v8.5 M752.7 184.2 h8.5 M1162.3 184.2 h-8.5 M1071.3 457.3 v-8.5 M1071.3 47.7 v8.5 M752.7 138.7 h8.5 M1162.3 138.7 h-8.5 M1116.8 457.3 v-8.5 M1116.8 47.7 v8.5 M752.7 93.2 h8.5 M1162.3 93.2 h-8.5" stroke="#2a2a2a" stroke-width="1.8" fill="none"/>
<rect x="510.6" y="47.7" width="20.3" height="409.6" fill="url(#pg)" stroke="#2a2418" stroke-width="1.7"/>
<path d="M510.6 406.1 h8.6 M530.9 406.1 h-8.6 M510.6 354.9 h8.6 M530.9 354.9 h-8.6 M510.6 303.7 h8.6 M530.9 303.7 h-8.6 M510.6 252.5 h8.6 M530.9 252.5 h-8.6 M510.6 201.3 h8.6 M530.9 201.3 h-8.6 M510.6 150.1 h8.6 M530.9 150.1 h-8.6 M510.6 98.9 h8.6 M530.9 98.9 h-8.6" stroke="#1a1010" stroke-width="1.7" fill="none"/>
<rect x="1172.4" y="47.7" width="20.3" height="409.6" fill="url(#pg)" stroke="#2a2418" stroke-width="1.7"/>
<path d="M1172.4 375.4 h8.6 M1192.7 375.4 h-8.6 M1172.4 293.5 h8.6 M1192.7 293.5 h-8.6 M1172.4 211.5 h8.6 M1192.7 211.5 h-8.6 M1172.4 129.6 h8.6 M1192.7 129.6 h-8.6" stroke="#1a1010" stroke-width="1.7" fill="none"/>
<text transform="translate(93.3 497.2) scale(1 1.06)" text-anchor="middle" font-size="21.5" letter-spacing="1.00">0</text>
<text transform="translate(72.7 464.0) scale(1 1.06)" text-anchor="end" font-size="21.5" letter-spacing="1.00">0</text>
<text transform="translate(138.8 497.2) scale(1 1.06)" text-anchor="middle" font-size="21.5" letter-spacing="1.00">0.2</text>
<text transform="translate(72.7 418.5) scale(1 1.06)" text-anchor="end" font-size="21.5" letter-spacing="1.00">0.2</text>
<text transform="translate(184.3 497.2) scale(1 1.06)" text-anchor="middle" font-size="21.5" letter-spacing="1.00">0.4</text>
<text transform="translate(72.7 373.0) scale(1 1.06)" text-anchor="end" font-size="21.5" letter-spacing="1.00">0.4</text>
<text transform="translate(229.8 497.2) scale(1 1.06)" text-anchor="middle" font-size="21.5" letter-spacing="1.00">0.6</text>
<text transform="translate(72.7 327.5) scale(1 1.06)" text-anchor="end" font-size="21.5" letter-spacing="1.00">0.6</text>
<text transform="translate(275.3 497.2) scale(1 1.06)" text-anchor="middle" font-size="21.5" letter-spacing="1.00">0.8</text>
<text transform="translate(72.7 282.0) scale(1 1.06)" text-anchor="end" font-size="21.5" letter-spacing="1.00">0.8</text>
<text transform="translate(320.9 497.2) scale(1 1.06)" text-anchor="middle" font-size="21.5" letter-spacing="1.00">1</text>
<text transform="translate(72.7 236.4) scale(1 1.06)" text-anchor="end" font-size="21.5" letter-spacing="1.00">1</text>
<text transform="translate(366.4 497.2) scale(1 1.06)" text-anchor="middle" font-size="21.5" letter-spacing="1.00">1.2</text>
<text transform="translate(72.7 190.9) scale(1 1.06)" text-anchor="end" font-size="21.5" letter-spacing="1.00">1.2</text>
<text transform="translate(411.9 497.2) scale(1 1.06)" text-anchor="middle" font-size="21.5" letter-spacing="1.00">1.4</text>
<text transform="translate(72.7 145.4) scale(1 1.06)" text-anchor="end" font-size="21.5" letter-spacing="1.00">1.4</text>
<text transform="translate(457.4 497.2) scale(1 1.06)" text-anchor="middle" font-size="21.5" letter-spacing="1.00">1.6</text>
<text transform="translate(72.7 99.9) scale(1 1.06)" text-anchor="end" font-size="21.5" letter-spacing="1.00">1.6</text>
<text transform="translate(502.9 497.2) scale(1 1.06)" text-anchor="middle" font-size="21.5" letter-spacing="1.00">1.8</text>
<text transform="translate(72.7 54.4) scale(1 1.06)" text-anchor="end" font-size="21.5" letter-spacing="1.00">1.8</text>
<text transform="translate(295.6 534.5) scale(1 1.06)" text-anchor="middle" font-size="21.5" letter-spacing="1.00">r/R</text>
<text transform="translate(754.7 497.2) scale(1 1.06)" text-anchor="middle" font-size="21.5" letter-spacing="1.00">0</text>
<text transform="translate(734.1 464.0) scale(1 1.06)" text-anchor="end" font-size="21.5" letter-spacing="1.00">0</text>
<text transform="translate(800.2 497.2) scale(1 1.06)" text-anchor="middle" font-size="21.5" letter-spacing="1.00">0.2</text>
<text transform="translate(734.1 418.5) scale(1 1.06)" text-anchor="end" font-size="21.5" letter-spacing="1.00">0.2</text>
<text transform="translate(845.7 497.2) scale(1 1.06)" text-anchor="middle" font-size="21.5" letter-spacing="1.00">0.4</text>
<text transform="translate(734.1 373.0) scale(1 1.06)" text-anchor="end" font-size="21.5" letter-spacing="1.00">0.4</text>
<text transform="translate(891.2 497.2) scale(1 1.06)" text-anchor="middle" font-size="21.5" letter-spacing="1.00">0.6</text>
<text transform="translate(734.1 327.5) scale(1 1.06)" text-anchor="end" font-size="21.5" letter-spacing="1.00">0.6</text>
<text transform="translate(936.7 497.2) scale(1 1.06)" text-anchor="middle" font-size="21.5" letter-spacing="1.00">0.8</text>
<text transform="translate(734.1 282.0) scale(1 1.06)" text-anchor="end" font-size="21.5" letter-spacing="1.00">0.8</text>
<text transform="translate(982.2 497.2) scale(1 1.06)" text-anchor="middle" font-size="21.5" letter-spacing="1.00">1</text>
<text transform="translate(734.1 236.4) scale(1 1.06)" text-anchor="end" font-size="21.5" letter-spacing="1.00">1</text>
<text transform="translate(1027.8 497.2) scale(1 1.06)" text-anchor="middle" font-size="21.5" letter-spacing="1.00">1.2</text>
<text transform="translate(734.1 190.9) scale(1 1.06)" text-anchor="end" font-size="21.5" letter-spacing="1.00">1.2</text>
<text transform="translate(1073.3 497.2) scale(1 1.06)" text-anchor="middle" font-size="21.5" letter-spacing="1.00">1.4</text>
<text transform="translate(734.1 145.4) scale(1 1.06)" text-anchor="end" font-size="21.5" letter-spacing="1.00">1.4</text>
<text transform="translate(1118.8 497.2) scale(1 1.06)" text-anchor="middle" font-size="21.5" letter-spacing="1.00">1.6</text>
<text transform="translate(734.1 99.9) scale(1 1.06)" text-anchor="end" font-size="21.5" letter-spacing="1.00">1.6</text>
<text transform="translate(1164.3 497.2) scale(1 1.06)" text-anchor="middle" font-size="21.5" letter-spacing="1.00">1.8</text>
<text transform="translate(734.1 54.4) scale(1 1.06)" text-anchor="end" font-size="21.5" letter-spacing="1.00">1.8</text>
<text transform="translate(957.0 534.5) scale(1 1.06)" text-anchor="middle" font-size="21.5" letter-spacing="1.00">r/R</text>
<text transform="translate(295.5 17.0) scale(1 1.06)" text-anchor="middle" font-size="21.5" letter-spacing="1.00">Active material, 2C, 2 microns</text>
<text transform="translate(958.0 17.0) scale(1 1.06)" text-anchor="middle" font-size="21.5" letter-spacing="1.00">Binder region, 2C, 2 microns</text>
<text transform="translate(296.3 564.5) scale(1 1.06)" text-anchor="middle" font-size="22.5" letter-spacing="2.50">(a)</text>
<text transform="translate(957.8 564.5) scale(1 1.06)" text-anchor="middle" font-size="22.5" letter-spacing="2.50">(b)</text>
<text transform="translate(18.9 252.5) rotate(-90) scale(1 1.06)" text-anchor="middle" font-size="21.5" letter-spacing="1.60">z/Z</text>
<text transform="translate(680.4 252.5) rotate(-90) scale(1 1.06)" text-anchor="middle" font-size="21.5" letter-spacing="1.60">z/Z</text>
<text transform="translate(611.6 252.0) rotate(-90) scale(1 1.06)" text-anchor="middle" font-size="21.5" letter-spacing="1.00">equivalent tensile stress (GPa)</text>
<text transform="translate(1273.1 252.0) rotate(-90) scale(1 1.06)" text-anchor="middle" font-size="21.5" letter-spacing="1.00">equivalent tensile stress (GPa)</text>
<text transform="translate(552.2 464.0) scale(1 1.06)" text-anchor="start" font-size="21.5" letter-spacing="0.80">0</text>
<text transform="translate(552.2 412.8) scale(1 1.06)" text-anchor="start" font-size="21.5" letter-spacing="0.80">0.5</text>
<text transform="translate(552.2 361.6) scale(1 1.06)" text-anchor="start" font-size="21.5" letter-spacing="0.80">1</text>
<text transform="translate(552.2 310.4) scale(1 1.06)" text-anchor="start" font-size="21.5" letter-spacing="0.80">1.5</text>
<text transform="translate(552.2 259.2) scale(1 1.06)" text-anchor="start" font-size="21.5" letter-spacing="0.80">2</text>
<text transform="translate(552.2 208.0) scale(1 1.06)" text-anchor="start" font-size="21.5" letter-spacing="0.80">2.5</text>
<text transform="translate(552.2 156.8) scale(1 1.06)" text-anchor="start" font-size="21.5" letter-spacing="0.80">3</text>
<text transform="translate(552.2 105.6) scale(1 1.06)" text-anchor="start" font-size="21.5" letter-spacing="0.80">3.5</text>
<text transform="translate(552.2 54.4) scale(1 1.06)" text-anchor="start" font-size="21.5" letter-spacing="0.80">4</text>
<text transform="translate(1214.6 464.0) scale(1 1.06)" text-anchor="start" font-size="21.5" letter-spacing="0.80">0</text>
<text transform="translate(1214.6 382.1) scale(1 1.06)" text-anchor="start" font-size="21.5" letter-spacing="0.80">0.5</text>
<text transform="translate(1214.6 300.2) scale(1 1.06)" text-anchor="start" font-size="21.5" letter-spacing="0.80">1</text>
<text transform="translate(1214.6 218.2) scale(1 1.06)" text-anchor="start" font-size="21.5" letter-spacing="0.80">1.5</text>
<text transform="translate(1214.6 136.3) scale(1 1.06)" text-anchor="start" font-size="21.5" letter-spacing="0.80">2</text>
<text transform="translate(1214.6 54.4) scale(1 1.06)" text-anchor="start" font-size="21.5" letter-spacing="0.80">2.5</text>
</svg>
</body></html>
